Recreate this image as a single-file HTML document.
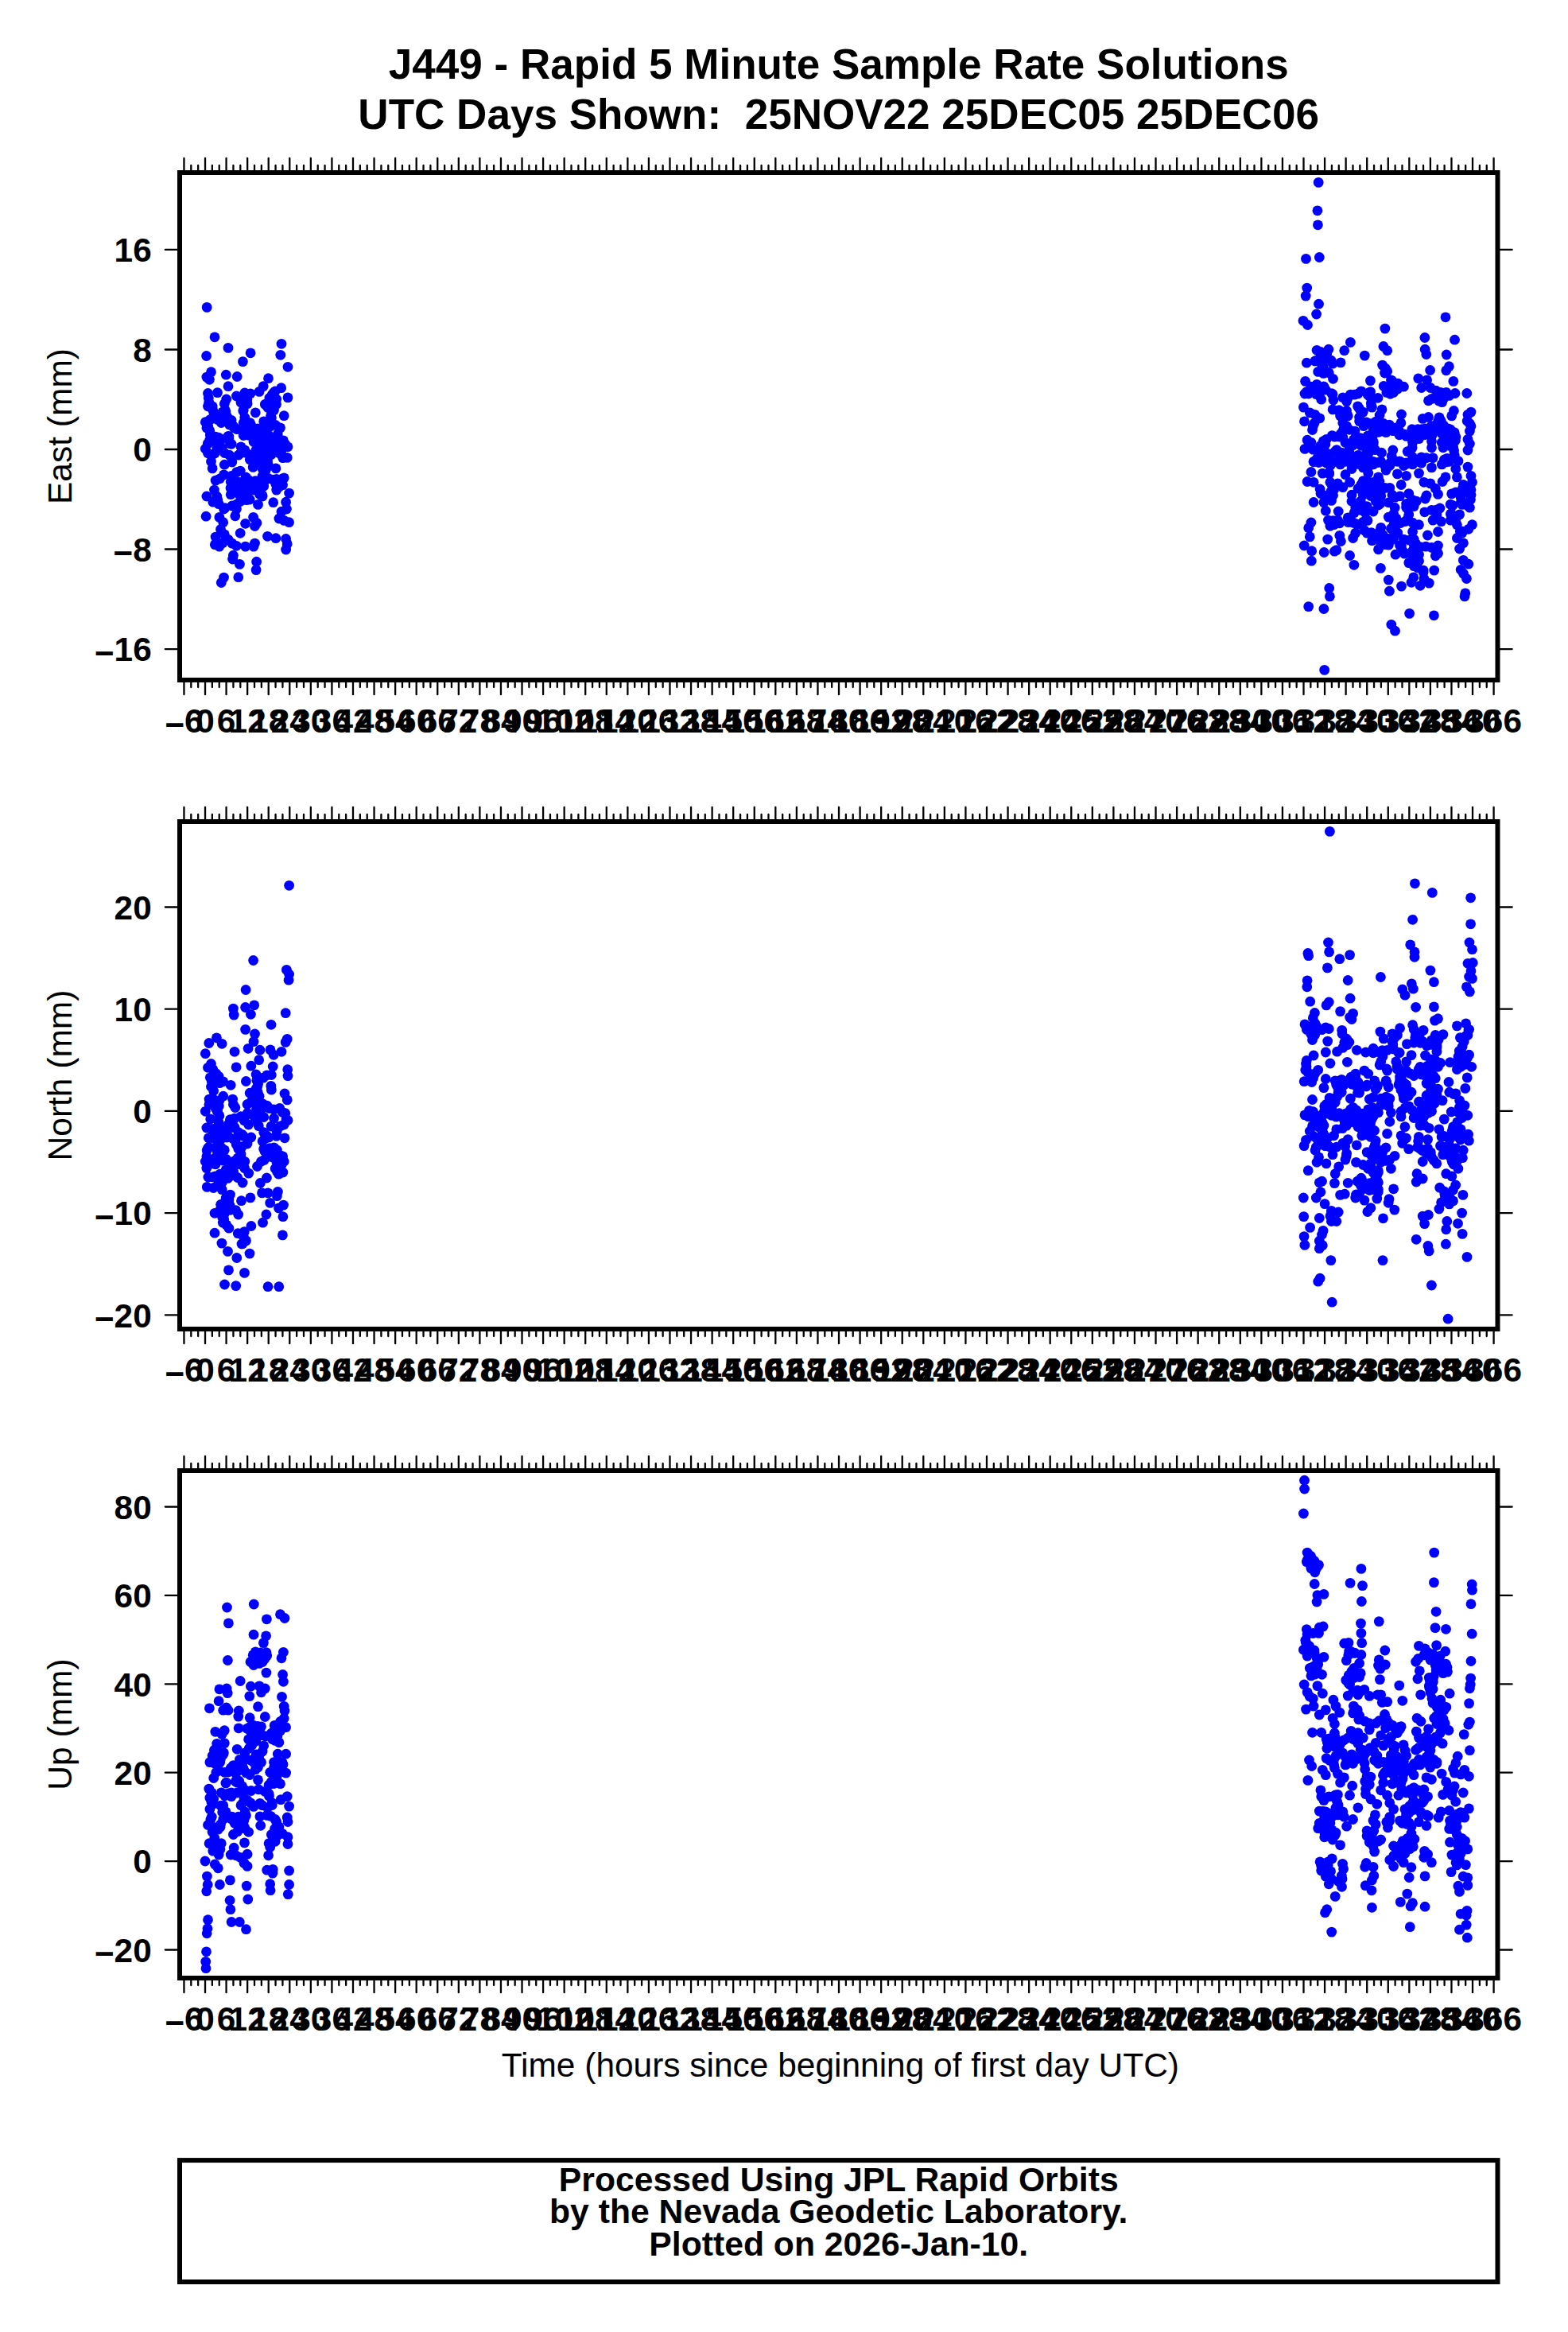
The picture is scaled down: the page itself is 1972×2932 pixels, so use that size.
<!DOCTYPE html>
<html><head><meta charset="utf-8"><title>J449 - Rapid 5 Minute Sample Rate Solutions</title>
<style>
html,body{margin:0;padding:0;background:#fff}
svg{display:block}
text{font-family:"Liberation Sans",Helvetica,Arial,sans-serif;fill:#000}
.b{font-weight:bold}
.tk{stroke:#000;stroke-width:2.3;stroke-linecap:round;fill:none}
.fr{stroke:#000;stroke-width:6;fill:none;stroke-linejoin:miter}
.d{fill:#0000ff}
</style></head><body>
<svg width="1972" height="2932" viewBox="0 0 1972 2932">
<rect x="0" y="0" width="1972" height="2932" fill="#ffffff"/>
<text class="b" x="1054.75" y="98.7" font-size="53.05" text-anchor="middle">J449 - Rapid 5 Minute Sample Rate Solutions</text>
<text class="b" x="1054.75" y="161.8" font-size="53.05" text-anchor="middle" xml:space="preserve" style="white-space:pre">UTC Days Shown:  25NOV22 25DEC05 25DEC06</text>
<g id="panel1">
<g class="d"><circle cx="260.2" cy="386.4" r="6.4"/><circle cx="270.0" cy="423.8" r="6.4"/><circle cx="354.0" cy="432.3" r="6.4"/><circle cx="287.0" cy="437.4" r="6.4"/><circle cx="315.1" cy="443.8" r="6.4"/><circle cx="259.6" cy="447.5" r="6.4"/><circle cx="352.8" cy="446.3" r="6.4"/><circle cx="305.4" cy="454.6" r="6.4"/><circle cx="362.0" cy="461.3" r="6.4"/><circle cx="265.5" cy="467.7" r="6.4"/><circle cx="284.3" cy="471.2" r="6.4"/><circle cx="298.2" cy="473.5" r="6.4"/><circle cx="259.9" cy="474.1" r="6.4"/><circle cx="263.4" cy="477.3" r="6.4"/><circle cx="337.5" cy="475.7" r="6.4"/><circle cx="287.0" cy="485.7" r="6.4"/><circle cx="331.2" cy="485.6" r="6.4"/><circle cx="353.7" cy="487.7" r="6.4"/><circle cx="261.5" cy="494.5" r="6.4"/><circle cx="273.5" cy="493.6" r="6.4"/><circle cx="326.1" cy="492.4" r="6.4"/><circle cx="346.1" cy="492.0" r="6.4"/><circle cx="307.8" cy="494.0" r="6.4"/><circle cx="315.0" cy="494.8" r="6.4"/><circle cx="297.4" cy="498.0" r="6.4"/><circle cx="362.0" cy="499.9" r="6.4"/><circle cx="262.3" cy="500.4" r="6.4"/><circle cx="284.7" cy="502.0" r="6.4"/><circle cx="338.9" cy="500.4" r="6.4"/><circle cx="347.7" cy="502.0" r="6.4"/><circle cx="282.3" cy="507.6" r="6.4"/><circle cx="303.0" cy="506.0" r="6.4"/><circle cx="311.0" cy="507.6" r="6.4"/><circle cx="333.3" cy="508.4" r="6.4"/><circle cx="341.3" cy="509.2" r="6.4"/><circle cx="261.5" cy="510.8" r="6.4"/><circle cx="267.1" cy="510.8" r="6.4"/><circle cx="344.5" cy="515.6" r="6.4"/><circle cx="306.2" cy="515.6" r="6.4"/><circle cx="283.9" cy="518.0" r="6.4"/><circle cx="321.3" cy="518.8" r="6.4"/><circle cx="270.3" cy="520.4" r="6.4"/><circle cx="357.2" cy="522.7" r="6.4"/><circle cx="267.9" cy="525.1" r="6.4"/><circle cx="340.5" cy="522.7" r="6.4"/><circle cx="307.8" cy="525.1" r="6.4"/><circle cx="258.3" cy="530.7" r="6.4"/><circle cx="273.5" cy="527.5" r="6.4"/><circle cx="291.0" cy="528.3" r="6.4"/><circle cx="283.9" cy="529.1" r="6.4"/><circle cx="331.7" cy="529.9" r="6.4"/><circle cx="341.3" cy="531.5" r="6.4"/><circle cx="306.2" cy="531.5" r="6.4"/><circle cx="315.8" cy="534.7" r="6.4"/><circle cx="259.9" cy="537.9" r="6.4"/><circle cx="294.2" cy="537.9" r="6.4"/><circle cx="352.5" cy="537.9" r="6.4"/><circle cx="334.9" cy="537.9" r="6.4"/><circle cx="319.0" cy="539.5" r="6.4"/><circle cx="304.6" cy="539.5" r="6.4"/><circle cx="263.9" cy="541.9" r="6.4"/><circle cx="287.0" cy="548.3" r="6.4"/><circle cx="271.1" cy="549.1" r="6.4"/><circle cx="306.2" cy="547.5" r="6.4"/><circle cx="315.8" cy="547.5" r="6.4"/><circle cx="328.5" cy="549.1" r="6.4"/><circle cx="338.1" cy="547.5" r="6.4"/><circle cx="349.3" cy="545.9" r="6.4"/><circle cx="263.9" cy="553.1" r="6.4"/><circle cx="279.1" cy="552.3" r="6.4"/><circle cx="356.4" cy="553.9" r="6.4"/><circle cx="346.1" cy="553.9" r="6.4"/><circle cx="331.7" cy="555.4" r="6.4"/><circle cx="319.0" cy="555.4" r="6.4"/><circle cx="289.4" cy="557.8" r="6.4"/><circle cx="272.7" cy="558.6" r="6.4"/><circle cx="303.0" cy="561.8" r="6.4"/><circle cx="362.0" cy="561.8" r="6.4"/><circle cx="258.3" cy="564.2" r="6.4"/><circle cx="279.1" cy="563.4" r="6.4"/><circle cx="323.7" cy="563.4" r="6.4"/><circle cx="334.9" cy="563.4" r="6.4"/><circle cx="347.7" cy="563.4" r="6.4"/><circle cx="261.5" cy="569.8" r="6.4"/><circle cx="270.3" cy="569.8" r="6.4"/><circle cx="307.8" cy="565.8" r="6.4"/><circle cx="288.6" cy="572.2" r="6.4"/><circle cx="299.8" cy="572.2" r="6.4"/><circle cx="319.0" cy="571.4" r="6.4"/><circle cx="331.7" cy="571.4" r="6.4"/><circle cx="341.3" cy="571.4" r="6.4"/><circle cx="354.0" cy="571.4" r="6.4"/><circle cx="361.2" cy="575.4" r="6.4"/><circle cx="314.2" cy="577.8" r="6.4"/><circle cx="265.5" cy="580.2" r="6.4"/><circle cx="291.8" cy="581.0" r="6.4"/><circle cx="282.3" cy="584.2" r="6.4"/><circle cx="322.1" cy="581.0" r="6.4"/><circle cx="336.5" cy="579.4" r="6.4"/><circle cx="267.1" cy="588.9" r="6.4"/><circle cx="318.2" cy="587.4" r="6.4"/><circle cx="346.9" cy="588.9" r="6.4"/><circle cx="334.9" cy="588.9" r="6.4"/><circle cx="302.2" cy="592.1" r="6.4"/><circle cx="281.5" cy="596.9" r="6.4"/><circle cx="291.0" cy="598.5" r="6.4"/><circle cx="357.2" cy="600.9" r="6.4"/><circle cx="330.1" cy="598.5" r="6.4"/><circle cx="309.4" cy="600.9" r="6.4"/><circle cx="347.7" cy="602.5" r="6.4"/><circle cx="338.1" cy="601.7" r="6.4"/><circle cx="271.1" cy="604.1" r="6.4"/><circle cx="290.2" cy="605.7" r="6.4"/><circle cx="303.0" cy="606.5" r="6.4"/><circle cx="324.5" cy="604.9" r="6.4"/><circle cx="355.6" cy="609.7" r="6.4"/><circle cx="315.8" cy="609.7" r="6.4"/><circle cx="331.7" cy="611.3" r="6.4"/><circle cx="291.8" cy="614.5" r="6.4"/><circle cx="269.5" cy="616.1" r="6.4"/><circle cx="314.2" cy="616.1" r="6.4"/><circle cx="303.0" cy="615.3" r="6.4"/><circle cx="347.7" cy="616.1" r="6.4"/><circle cx="325.3" cy="616.1" r="6.4"/><circle cx="363.6" cy="620.1" r="6.4"/><circle cx="259.9" cy="624.0" r="6.4"/><circle cx="290.2" cy="621.7" r="6.4"/><circle cx="301.4" cy="622.4" r="6.4"/><circle cx="272.7" cy="624.0" r="6.4"/><circle cx="314.2" cy="628.0" r="6.4"/><circle cx="330.1" cy="624.0" r="6.4"/><circle cx="267.9" cy="631.2" r="6.4"/><circle cx="359.6" cy="631.2" r="6.4"/><circle cx="302.2" cy="630.4" r="6.4"/><circle cx="343.7" cy="631.7" r="6.4"/><circle cx="324.5" cy="634.4" r="6.4"/><circle cx="275.1" cy="633.6" r="6.4"/><circle cx="291.8" cy="636.0" r="6.4"/><circle cx="360.4" cy="640.0" r="6.4"/><circle cx="281.5" cy="640.0" r="6.4"/><circle cx="354.0" cy="643.2" r="6.4"/><circle cx="297.4" cy="640.0" r="6.4"/><circle cx="259.1" cy="649.2" r="6.4"/><circle cx="275.9" cy="650.4" r="6.4"/><circle cx="295.8" cy="648.8" r="6.4"/><circle cx="318.6" cy="650.4" r="6.4"/><circle cx="350.9" cy="652.0" r="6.4"/><circle cx="280.7" cy="656.7" r="6.4"/><circle cx="363.6" cy="656.7" r="6.4"/><circle cx="308.6" cy="658.3" r="6.4"/><circle cx="322.9" cy="657.5" r="6.4"/><circle cx="357.2" cy="654.4" r="6.4"/><circle cx="320.5" cy="661.5" r="6.4"/><circle cx="277.5" cy="665.5" r="6.4"/><circle cx="302.2" cy="670.3" r="6.4"/><circle cx="282.3" cy="671.9" r="6.4"/><circle cx="336.5" cy="674.3" r="6.4"/><circle cx="271.1" cy="675.1" r="6.4"/><circle cx="346.9" cy="676.7" r="6.4"/><circle cx="359.6" cy="677.5" r="6.4"/><circle cx="287.0" cy="678.3" r="6.4"/><circle cx="270.3" cy="684.7" r="6.4"/><circle cx="275.9" cy="687.1" r="6.4"/><circle cx="291.8" cy="683.1" r="6.4"/><circle cx="320.5" cy="683.1" r="6.4"/><circle cx="361.2" cy="683.9" r="6.4"/><circle cx="297.4" cy="686.3" r="6.4"/><circle cx="308.6" cy="687.1" r="6.4"/><circle cx="319.0" cy="687.1" r="6.4"/><circle cx="359.6" cy="691.0" r="6.4"/><circle cx="293.4" cy="698.2" r="6.4"/><circle cx="292.6" cy="703.0" r="6.4"/><circle cx="301.4" cy="709.4" r="6.4"/><circle cx="322.6" cy="706.2" r="6.4"/><circle cx="322.1" cy="716.6" r="6.4"/><circle cx="281.5" cy="726.1" r="6.4"/><circle cx="299.8" cy="725.7" r="6.4"/><circle cx="278.3" cy="732.5" r="6.4"/><circle cx="309.6" cy="569.3" r="6.4"/><circle cx="326.5" cy="621.5" r="6.4"/><circle cx="351.4" cy="569.6" r="6.4"/><circle cx="354.7" cy="602.2" r="6.4"/><circle cx="291.1" cy="558.3" r="6.4"/><circle cx="303.7" cy="625.2" r="6.4"/><circle cx="321.5" cy="566.7" r="6.4"/><circle cx="344.3" cy="493.5" r="6.4"/><circle cx="290.0" cy="613.5" r="6.4"/><circle cx="311.9" cy="538.7" r="6.4"/><circle cx="282.4" cy="569.5" r="6.4"/><circle cx="331.4" cy="558.1" r="6.4"/><circle cx="321.1" cy="604.7" r="6.4"/><circle cx="333.3" cy="561.1" r="6.4"/><circle cx="314.6" cy="531.7" r="6.4"/><circle cx="278.5" cy="521.6" r="6.4"/><circle cx="277.0" cy="554.0" r="6.4"/><circle cx="332.7" cy="605.0" r="6.4"/><circle cx="298.1" cy="539.6" r="6.4"/><circle cx="310.8" cy="503.0" r="6.4"/><circle cx="355.2" cy="563.6" r="6.4"/><circle cx="293.2" cy="535.3" r="6.4"/><circle cx="307.7" cy="539.2" r="6.4"/><circle cx="288.0" cy="551.9" r="6.4"/><circle cx="293.4" cy="616.3" r="6.4"/><circle cx="280.0" cy="682.7" r="6.4"/><circle cx="272.7" cy="562.0" r="6.4"/><circle cx="283.3" cy="515.8" r="6.4"/><circle cx="332.6" cy="542.9" r="6.4"/><circle cx="285.3" cy="523.4" r="6.4"/><circle cx="262.8" cy="506.0" r="6.4"/><circle cx="297.4" cy="617.7" r="6.4"/><circle cx="333.1" cy="575.9" r="6.4"/><circle cx="347.5" cy="508.4" r="6.4"/><circle cx="324.6" cy="575.3" r="6.4"/><circle cx="341.4" cy="525.6" r="6.4"/><circle cx="330.2" cy="589.7" r="6.4"/><circle cx="309.9" cy="611.4" r="6.4"/><circle cx="334.1" cy="534.6" r="6.4"/><circle cx="274.9" cy="550.1" r="6.4"/><circle cx="346.9" cy="608.9" r="6.4"/><circle cx="277.2" cy="562.5" r="6.4"/><circle cx="353.6" cy="554.4" r="6.4"/><circle cx="309.2" cy="600.0" r="6.4"/><circle cx="312.2" cy="617.6" r="6.4"/><circle cx="351.2" cy="612.0" r="6.4"/><circle cx="316.0" cy="540.2" r="6.4"/><circle cx="352.2" cy="557.2" r="6.4"/><circle cx="347.0" cy="556.5" r="6.4"/><circle cx="299.0" cy="606.1" r="6.4"/><circle cx="310.1" cy="628.7" r="6.4"/><circle cx="297.6" cy="593.6" r="6.4"/><circle cx="334.1" cy="591.7" r="6.4"/><circle cx="344.2" cy="564.8" r="6.4"/><circle cx="278.2" cy="531.5" r="6.4"/><circle cx="318.9" cy="616.0" r="6.4"/><circle cx="268.8" cy="518.3" r="6.4"/><circle cx="287.9" cy="549.0" r="6.4"/><circle cx="305.7" cy="541.3" r="6.4"/><circle cx="348.5" cy="552.7" r="6.4"/><circle cx="312.7" cy="603.6" r="6.4"/><circle cx="344.2" cy="498.8" r="6.4"/><circle cx="340.7" cy="512.8" r="6.4"/><circle cx="358.9" cy="558.7" r="6.4"/><circle cx="355.7" cy="575.7" r="6.4"/><circle cx="324.0" cy="538.8" r="6.4"/><circle cx="336.9" cy="512.5" r="6.4"/><circle cx="297.7" cy="634.0" r="6.4"/><circle cx="261.8" cy="536.4" r="6.4"/><circle cx="321.8" cy="547.1" r="6.4"/><circle cx="320.1" cy="554.6" r="6.4"/><circle cx="264.3" cy="546.8" r="6.4"/><circle cx="303.0" cy="569.5" r="6.4"/><circle cx="276.5" cy="601.8" r="6.4"/><circle cx="339.4" cy="536.4" r="6.4"/><circle cx="337.6" cy="571.4" r="6.4"/><circle cx="267.2" cy="514.4" r="6.4"/><circle cx="328.7" cy="566.9" r="6.4"/><circle cx="337.4" cy="584.9" r="6.4"/><circle cx="310.0" cy="605.2" r="6.4"/><circle cx="264.2" cy="527.6" r="6.4"/><circle cx="344.5" cy="506.7" r="6.4"/><circle cx="331.1" cy="580.4" r="6.4"/><circle cx="342.4" cy="496.0" r="6.4"/><circle cx="268.1" cy="570.9" r="6.4"/><circle cx="339.5" cy="556.4" r="6.4"/><circle cx="319.0" cy="573.7" r="6.4"/><circle cx="304.7" cy="502.0" r="6.4"/><circle cx="305.8" cy="516.6" r="6.4"/><circle cx="332.4" cy="546.9" r="6.4"/><circle cx="320.1" cy="611.9" r="6.4"/><circle cx="329.7" cy="622.3" r="6.4"/><circle cx="346.6" cy="534.5" r="6.4"/><circle cx="336.6" cy="506.9" r="6.4"/><circle cx="261.3" cy="557.6" r="6.4"/><circle cx="288.5" cy="534.0" r="6.4"/><circle cx="328.4" cy="607.1" r="6.4"/><circle cx="273.8" cy="628.5" r="6.4"/><circle cx="334.1" cy="569.6" r="6.4"/><circle cx="269.0" cy="551.0" r="6.4"/><circle cx="343.5" cy="603.2" r="6.4"/><circle cx="321.7" cy="551.5" r="6.4"/><circle cx="335.0" cy="566.0" r="6.4"/><circle cx="324.9" cy="555.6" r="6.4"/><circle cx="308.9" cy="617.1" r="6.4"/><circle cx="333.3" cy="554.5" r="6.4"/><circle cx="280.2" cy="517.8" r="6.4"/><circle cx="282.9" cy="638.7" r="6.4"/><circle cx="265.4" cy="550.0" r="6.4"/><circle cx="312.9" cy="547.3" r="6.4"/><circle cx="1658.2" cy="229.4" r="6.4"/><circle cx="1656.9" cy="264.8" r="6.4"/><circle cx="1657.4" cy="282.8" r="6.4"/><circle cx="1642.5" cy="325.4" r="6.4"/><circle cx="1659.3" cy="323.5" r="6.4"/><circle cx="1643.7" cy="362.1" r="6.4"/><circle cx="1642.2" cy="372.1" r="6.4"/><circle cx="1658.5" cy="382.2" r="6.4"/><circle cx="1655.6" cy="395.0" r="6.4"/><circle cx="1639.0" cy="403.3" r="6.4"/><circle cx="1644.5" cy="408.5" r="6.4"/><circle cx="1818.0" cy="398.8" r="6.4"/><circle cx="1741.9" cy="413.1" r="6.4"/><circle cx="1791.9" cy="424.5" r="6.4"/><circle cx="1829.5" cy="427.2" r="6.4"/><circle cx="1698.4" cy="430.4" r="6.4"/><circle cx="1739.9" cy="435.5" r="6.4"/><circle cx="1744.7" cy="440.7" r="6.4"/><circle cx="1792.2" cy="439.2" r="6.4"/><circle cx="1793.8" cy="445.5" r="6.4"/><circle cx="1690.7" cy="440.7" r="6.4"/><circle cx="1716.3" cy="447.1" r="6.4"/><circle cx="1819.2" cy="446.0" r="6.4"/><circle cx="1656.1" cy="440.3" r="6.4"/><circle cx="1660.9" cy="442.3" r="6.4"/><circle cx="1670.9" cy="439.2" r="6.4"/><circle cx="1666.8" cy="450.8" r="6.4"/><circle cx="1653.7" cy="454.0" r="6.4"/><circle cx="1643.3" cy="456.2" r="6.4"/><circle cx="1676.1" cy="457.2" r="6.4"/><circle cx="1686.1" cy="455.9" r="6.4"/><circle cx="1662.5" cy="459.1" r="6.4"/><circle cx="1738.6" cy="459.1" r="6.4"/><circle cx="1742.3" cy="463.1" r="6.4"/><circle cx="1744.7" cy="466.8" r="6.4"/><circle cx="1741.5" cy="469.0" r="6.4"/><circle cx="1822.4" cy="460.7" r="6.4"/><circle cx="1818.8" cy="465.8" r="6.4"/><circle cx="1798.6" cy="465.5" r="6.4"/><circle cx="1657.7" cy="467.4" r="6.4"/><circle cx="1668.9" cy="467.4" r="6.4"/><circle cx="1671.3" cy="468.7" r="6.4"/><circle cx="1676.5" cy="476.3" r="6.4"/><circle cx="1723.4" cy="478.6" r="6.4"/><circle cx="1783.7" cy="475.8" r="6.4"/><circle cx="1794.6" cy="477.9" r="6.4"/><circle cx="1827.9" cy="479.4" r="6.4"/><circle cx="1641.6" cy="479.4" r="6.4"/><circle cx="1656.1" cy="483.3" r="6.4"/><circle cx="1648.9" cy="486.2" r="6.4"/><circle cx="1751.0" cy="479.0" r="6.4"/><circle cx="1758.2" cy="482.2" r="6.4"/><circle cx="1740.2" cy="485.4" r="6.4"/><circle cx="1765.4" cy="486.2" r="6.4"/><circle cx="1746.3" cy="491.0" r="6.4"/><circle cx="1752.6" cy="493.4" r="6.4"/><circle cx="1743.9" cy="493.4" r="6.4"/><circle cx="1787.7" cy="487.5" r="6.4"/><circle cx="1798.9" cy="487.5" r="6.4"/><circle cx="1667.3" cy="490.2" r="6.4"/><circle cx="1711.9" cy="491.8" r="6.4"/><circle cx="1720.7" cy="494.2" r="6.4"/><circle cx="1698.4" cy="496.1" r="6.4"/><circle cx="1708.0" cy="495.0" r="6.4"/><circle cx="1643.3" cy="492.6" r="6.4"/><circle cx="1641.0" cy="495.0" r="6.4"/><circle cx="1645.7" cy="495.0" r="6.4"/><circle cx="1676.1" cy="495.8" r="6.4"/><circle cx="1659.3" cy="497.4" r="6.4"/><circle cx="1688.8" cy="499.8" r="6.4"/><circle cx="1722.3" cy="498.2" r="6.4"/><circle cx="1733.0" cy="500.3" r="6.4"/><circle cx="1811.7" cy="493.4" r="6.4"/><circle cx="1818.8" cy="493.4" r="6.4"/><circle cx="1830.0" cy="494.5" r="6.4"/><circle cx="1844.8" cy="494.5" r="6.4"/><circle cx="1822.8" cy="497.4" r="6.4"/><circle cx="1800.5" cy="501.4" r="6.4"/><circle cx="1796.5" cy="503.8" r="6.4"/><circle cx="1813.6" cy="505.7" r="6.4"/><circle cx="1661.7" cy="502.2" r="6.4"/><circle cx="1676.9" cy="503.0" r="6.4"/><circle cx="1693.6" cy="504.6" r="6.4"/><circle cx="1639.4" cy="512.1" r="6.4"/><circle cx="1707.6" cy="510.9" r="6.4"/><circle cx="1725.5" cy="512.1" r="6.4"/><circle cx="1738.0" cy="514.9" r="6.4"/><circle cx="1676.1" cy="514.9" r="6.4"/><circle cx="1684.0" cy="515.7" r="6.4"/><circle cx="1693.6" cy="516.5" r="6.4"/><circle cx="1647.3" cy="518.9" r="6.4"/><circle cx="1653.7" cy="521.3" r="6.4"/><circle cx="1659.8" cy="525.8" r="6.4"/><circle cx="1828.4" cy="516.5" r="6.4"/><circle cx="1825.7" cy="522.9" r="6.4"/><circle cx="1850.0" cy="518.1" r="6.4"/><circle cx="1846.0" cy="521.3" r="6.4"/><circle cx="1762.5" cy="521.0" r="6.4"/><circle cx="1796.5" cy="524.5" r="6.4"/><circle cx="1789.3" cy="526.4" r="6.4"/><circle cx="1810.1" cy="524.8" r="6.4"/><circle cx="1714.3" cy="518.1" r="6.4"/><circle cx="1709.6" cy="524.5" r="6.4"/><circle cx="1735.1" cy="522.1" r="6.4"/><circle cx="1695.2" cy="522.9" r="6.4"/><circle cx="1685.6" cy="522.9" r="6.4"/><circle cx="1640.5" cy="529.8" r="6.4"/><circle cx="1651.3" cy="536.0" r="6.4"/><circle cx="1650.5" cy="540.5" r="6.4"/><circle cx="1761.9" cy="531.7" r="6.4"/><circle cx="1845.2" cy="529.3" r="6.4"/><circle cx="1848.4" cy="532.5" r="6.4"/><circle cx="1850.0" cy="535.7" r="6.4"/><circle cx="1848.4" cy="542.1" r="6.4"/><circle cx="1688.8" cy="531.7" r="6.4"/><circle cx="1693.6" cy="535.7" r="6.4"/><circle cx="1720.7" cy="532.5" r="6.4"/><circle cx="1730.3" cy="530.1" r="6.4"/><circle cx="1739.9" cy="532.5" r="6.4"/><circle cx="1715.1" cy="535.7" r="6.4"/><circle cx="1813.3" cy="532.5" r="6.4"/><circle cx="1803.7" cy="535.7" r="6.4"/><circle cx="1821.2" cy="538.9" r="6.4"/><circle cx="1792.5" cy="538.9" r="6.4"/><circle cx="1775.8" cy="539.7" r="6.4"/><circle cx="1784.5" cy="540.5" r="6.4"/><circle cx="1750.2" cy="538.9" r="6.4"/><circle cx="1759.0" cy="540.5" r="6.4"/><circle cx="1704.0" cy="542.1" r="6.4"/><circle cx="1688.8" cy="542.1" r="6.4"/><circle cx="1727.1" cy="540.5" r="6.4"/><circle cx="1736.7" cy="542.1" r="6.4"/><circle cx="1743.1" cy="543.7" r="6.4"/><circle cx="1675.3" cy="547.6" r="6.4"/><circle cx="1668.1" cy="552.4" r="6.4"/><circle cx="1678.4" cy="549.2" r="6.4"/><circle cx="1644.1" cy="553.2" r="6.4"/><circle cx="1648.9" cy="556.4" r="6.4"/><circle cx="1641.0" cy="564.4" r="6.4"/><circle cx="1651.3" cy="565.2" r="6.4"/><circle cx="1660.9" cy="560.4" r="6.4"/><circle cx="1846.0" cy="552.4" r="6.4"/><circle cx="1848.4" cy="558.0" r="6.4"/><circle cx="1846.0" cy="566.0" r="6.4"/><circle cx="1829.2" cy="543.7" r="6.4"/><circle cx="1830.8" cy="549.2" r="6.4"/><circle cx="1813.3" cy="545.2" r="6.4"/><circle cx="1822.8" cy="550.0" r="6.4"/><circle cx="1800.5" cy="545.2" r="6.4"/><circle cx="1790.9" cy="546.8" r="6.4"/><circle cx="1778.2" cy="546.8" r="6.4"/><circle cx="1768.6" cy="548.4" r="6.4"/><circle cx="1759.8" cy="546.8" r="6.4"/><circle cx="1784.5" cy="551.6" r="6.4"/><circle cx="1776.6" cy="556.4" r="6.4"/><circle cx="1800.5" cy="554.8" r="6.4"/><circle cx="1813.3" cy="556.4" r="6.4"/><circle cx="1824.4" cy="558.0" r="6.4"/><circle cx="1827.6" cy="562.0" r="6.4"/><circle cx="1814.9" cy="562.8" r="6.4"/><circle cx="1800.5" cy="562.8" r="6.4"/><circle cx="1727.1" cy="546.8" r="6.4"/><circle cx="1704.8" cy="550.0" r="6.4"/><circle cx="1714.3" cy="551.6" r="6.4"/><circle cx="1723.9" cy="554.8" r="6.4"/><circle cx="1688.8" cy="550.0" r="6.4"/><circle cx="1692.0" cy="556.4" r="6.4"/><circle cx="1701.6" cy="559.6" r="6.4"/><circle cx="1711.9" cy="560.4" r="6.4"/><circle cx="1727.1" cy="559.6" r="6.4"/><circle cx="1751.8" cy="566.0" r="6.4"/><circle cx="1737.5" cy="569.2" r="6.4"/><circle cx="1770.2" cy="567.6" r="6.4"/><circle cx="1750.2" cy="573.2" r="6.4"/><circle cx="1664.9" cy="564.4" r="6.4"/><circle cx="1679.2" cy="567.6" r="6.4"/><circle cx="1672.9" cy="570.8" r="6.4"/><circle cx="1687.2" cy="569.2" r="6.4"/><circle cx="1696.8" cy="569.2" r="6.4"/><circle cx="1661.7" cy="572.4" r="6.4"/><circle cx="1708.0" cy="572.4" r="6.4"/><circle cx="1720.7" cy="570.8" r="6.4"/><circle cx="1787.7" cy="574.8" r="6.4"/><circle cx="1802.1" cy="575.6" r="6.4"/><circle cx="1779.8" cy="578.0" r="6.4"/><circle cx="1816.4" cy="578.0" r="6.4"/><circle cx="1829.2" cy="572.4" r="6.4"/><circle cx="1834.0" cy="579.6" r="6.4"/><circle cx="1822.8" cy="580.3" r="6.4"/><circle cx="1652.1" cy="580.3" r="6.4"/><circle cx="1666.5" cy="580.3" r="6.4"/><circle cx="1679.2" cy="580.3" r="6.4"/><circle cx="1692.0" cy="580.3" r="6.4"/><circle cx="1703.2" cy="578.8" r="6.4"/><circle cx="1715.9" cy="580.3" r="6.4"/><circle cx="1727.1" cy="580.3" r="6.4"/><circle cx="1736.7" cy="580.3" r="6.4"/><circle cx="1757.4" cy="580.3" r="6.4"/><circle cx="1768.6" cy="581.9" r="6.4"/><circle cx="1652.1" cy="580.7" r="6.4"/><circle cx="1846.0" cy="587.1" r="6.4"/><circle cx="1747.8" cy="585.5" r="6.4"/><circle cx="1714.3" cy="587.9" r="6.4"/><circle cx="1700.0" cy="589.5" r="6.4"/><circle cx="1800.5" cy="587.9" r="6.4"/><circle cx="1830.8" cy="589.5" r="6.4"/><circle cx="1672.9" cy="585.5" r="6.4"/><circle cx="1685.6" cy="583.9" r="6.4"/><circle cx="1727.1" cy="583.9" r="6.4"/><circle cx="1776.6" cy="583.9" r="6.4"/><circle cx="1787.7" cy="582.3" r="6.4"/><circle cx="1813.3" cy="583.9" r="6.4"/><circle cx="1765.4" cy="585.5" r="6.4"/><circle cx="1648.9" cy="593.5" r="6.4"/><circle cx="1663.3" cy="595.1" r="6.4"/><circle cx="1743.1" cy="591.1" r="6.4"/><circle cx="1757.4" cy="595.9" r="6.4"/><circle cx="1720.7" cy="595.1" r="6.4"/><circle cx="1733.5" cy="599.9" r="6.4"/><circle cx="1692.0" cy="596.7" r="6.4"/><circle cx="1784.5" cy="595.1" r="6.4"/><circle cx="1768.6" cy="598.3" r="6.4"/><circle cx="1818.0" cy="599.9" r="6.4"/><circle cx="1832.4" cy="599.9" r="6.4"/><circle cx="1850.0" cy="598.3" r="6.4"/><circle cx="1671.3" cy="594.3" r="6.4"/><circle cx="1644.1" cy="605.5" r="6.4"/><circle cx="1652.1" cy="606.3" r="6.4"/><circle cx="1814.1" cy="605.5" r="6.4"/><circle cx="1672.9" cy="606.3" r="6.4"/><circle cx="1682.4" cy="607.9" r="6.4"/><circle cx="1697.6" cy="606.3" r="6.4"/><circle cx="1714.3" cy="604.7" r="6.4"/><circle cx="1727.1" cy="606.3" r="6.4"/><circle cx="1790.9" cy="606.3" r="6.4"/><circle cx="1798.9" cy="607.9" r="6.4"/><circle cx="1762.2" cy="609.5" r="6.4"/><circle cx="1851.5" cy="606.3" r="6.4"/><circle cx="1840.4" cy="609.5" r="6.4"/><circle cx="1688.8" cy="612.6" r="6.4"/><circle cx="1677.6" cy="615.8" r="6.4"/><circle cx="1660.1" cy="615.0" r="6.4"/><circle cx="1747.8" cy="613.4" r="6.4"/><circle cx="1708.0" cy="614.2" r="6.4"/><circle cx="1723.9" cy="614.2" r="6.4"/><circle cx="1735.1" cy="614.2" r="6.4"/><circle cx="1805.3" cy="614.2" r="6.4"/><circle cx="1838.8" cy="615.8" r="6.4"/><circle cx="1850.0" cy="615.8" r="6.4"/><circle cx="1771.8" cy="620.6" r="6.4"/><circle cx="1665.7" cy="623.0" r="6.4"/><circle cx="1825.7" cy="620.9" r="6.4"/><circle cx="1794.1" cy="623.0" r="6.4"/><circle cx="1808.5" cy="621.4" r="6.4"/><circle cx="1700.0" cy="622.2" r="6.4"/><circle cx="1714.3" cy="622.2" r="6.4"/><circle cx="1728.7" cy="620.6" r="6.4"/><circle cx="1736.7" cy="623.8" r="6.4"/><circle cx="1751.0" cy="622.2" r="6.4"/><circle cx="1760.6" cy="623.8" r="6.4"/><circle cx="1850.0" cy="622.2" r="6.4"/><circle cx="1837.2" cy="625.4" r="6.4"/><circle cx="1792.5" cy="627.0" r="6.4"/><circle cx="1652.1" cy="631.5" r="6.4"/><circle cx="1674.5" cy="629.4" r="6.4"/><circle cx="1664.9" cy="631.8" r="6.4"/><circle cx="1781.3" cy="630.2" r="6.4"/><circle cx="1700.0" cy="630.2" r="6.4"/><circle cx="1711.2" cy="630.2" r="6.4"/><circle cx="1730.3" cy="630.2" r="6.4"/><circle cx="1746.3" cy="631.8" r="6.4"/><circle cx="1824.1" cy="634.2" r="6.4"/><circle cx="1837.2" cy="631.8" r="6.4"/><circle cx="1845.2" cy="635.0" r="6.4"/><circle cx="1768.6" cy="633.4" r="6.4"/><circle cx="1778.2" cy="636.6" r="6.4"/><circle cx="1719.1" cy="636.6" r="6.4"/><circle cx="1704.8" cy="638.2" r="6.4"/><circle cx="1733.5" cy="635.0" r="6.4"/><circle cx="1754.2" cy="638.2" r="6.4"/><circle cx="1667.3" cy="642.2" r="6.4"/><circle cx="1683.2" cy="643.0" r="6.4"/><circle cx="1810.9" cy="639.0" r="6.4"/><circle cx="1800.5" cy="641.4" r="6.4"/><circle cx="1791.7" cy="643.8" r="6.4"/><circle cx="1848.4" cy="638.2" r="6.4"/><circle cx="1824.4" cy="646.2" r="6.4"/><circle cx="1835.6" cy="646.9" r="6.4"/><circle cx="1727.1" cy="643.0" r="6.4"/><circle cx="1715.9" cy="643.0" r="6.4"/><circle cx="1703.2" cy="644.6" r="6.4"/><circle cx="1771.8" cy="646.9" r="6.4"/><circle cx="1752.6" cy="646.2" r="6.4"/><circle cx="1806.9" cy="646.9" r="6.4"/><circle cx="1746.3" cy="650.1" r="6.4"/><circle cx="1695.2" cy="650.9" r="6.4"/><circle cx="1830.8" cy="652.5" r="6.4"/><circle cx="1648.9" cy="657.0" r="6.4"/><circle cx="1670.5" cy="654.1" r="6.4"/><circle cx="1682.4" cy="654.1" r="6.4"/><circle cx="1719.9" cy="654.4" r="6.4"/><circle cx="1802.1" cy="654.1" r="6.4"/><circle cx="1812.5" cy="655.7" r="6.4"/><circle cx="1824.4" cy="654.1" r="6.4"/><circle cx="1677.6" cy="659.7" r="6.4"/><circle cx="1672.9" cy="661.3" r="6.4"/><circle cx="1695.2" cy="656.5" r="6.4"/><circle cx="1706.4" cy="658.9" r="6.4"/><circle cx="1712.7" cy="659.7" r="6.4"/><circle cx="1784.5" cy="659.7" r="6.4"/><circle cx="1755.8" cy="657.3" r="6.4"/><circle cx="1767.0" cy="655.7" r="6.4"/><circle cx="1776.6" cy="657.3" r="6.4"/><circle cx="1851.5" cy="659.7" r="6.4"/><circle cx="1832.4" cy="659.7" r="6.4"/><circle cx="1645.7" cy="663.7" r="6.4"/><circle cx="1736.7" cy="663.4" r="6.4"/><circle cx="1749.4" cy="664.5" r="6.4"/><circle cx="1808.5" cy="668.5" r="6.4"/><circle cx="1846.8" cy="665.3" r="6.4"/><circle cx="1776.6" cy="668.5" r="6.4"/><circle cx="1755.8" cy="668.5" r="6.4"/><circle cx="1704.8" cy="670.1" r="6.4"/><circle cx="1719.1" cy="670.1" r="6.4"/><circle cx="1684.8" cy="673.3" r="6.4"/><circle cx="1729.5" cy="673.3" r="6.4"/><circle cx="1647.3" cy="674.9" r="6.4"/><circle cx="1795.4" cy="673.0" r="6.4"/><circle cx="1838.8" cy="670.1" r="6.4"/><circle cx="1832.4" cy="676.5" r="6.4"/><circle cx="1701.6" cy="676.5" r="6.4"/><circle cx="1739.1" cy="676.5" r="6.4"/><circle cx="1752.6" cy="674.9" r="6.4"/><circle cx="1669.7" cy="678.1" r="6.4"/><circle cx="1765.4" cy="678.1" r="6.4"/><circle cx="1725.5" cy="679.7" r="6.4"/><circle cx="1686.4" cy="680.5" r="6.4"/><circle cx="1778.2" cy="678.1" r="6.4"/><circle cx="1840.4" cy="682.8" r="6.4"/><circle cx="1640.2" cy="686.0" r="6.4"/><circle cx="1746.3" cy="685.2" r="6.4"/><circle cx="1760.6" cy="686.0" r="6.4"/><circle cx="1786.1" cy="687.6" r="6.4"/><circle cx="1808.5" cy="686.0" r="6.4"/><circle cx="1800.5" cy="688.4" r="6.4"/><circle cx="1736.7" cy="683.6" r="6.4"/><circle cx="1778.2" cy="684.4" r="6.4"/><circle cx="1649.7" cy="692.7" r="6.4"/><circle cx="1680.8" cy="691.6" r="6.4"/><circle cx="1678.4" cy="693.2" r="6.4"/><circle cx="1665.2" cy="694.5" r="6.4"/><circle cx="1733.5" cy="690.8" r="6.4"/><circle cx="1835.6" cy="690.0" r="6.4"/><circle cx="1755.0" cy="697.2" r="6.4"/><circle cx="1763.8" cy="692.4" r="6.4"/><circle cx="1808.5" cy="695.6" r="6.4"/><circle cx="1805.3" cy="698.8" r="6.4"/><circle cx="1697.6" cy="698.5" r="6.4"/><circle cx="1773.4" cy="695.6" r="6.4"/><circle cx="1784.5" cy="697.2" r="6.4"/><circle cx="1649.3" cy="705.2" r="6.4"/><circle cx="1702.9" cy="710.3" r="6.4"/><circle cx="1840.4" cy="704.4" r="6.4"/><circle cx="1846.8" cy="709.2" r="6.4"/><circle cx="1778.2" cy="703.6" r="6.4"/><circle cx="1784.5" cy="705.2" r="6.4"/><circle cx="1771.8" cy="707.6" r="6.4"/><circle cx="1778.2" cy="711.6" r="6.4"/><circle cx="1736.4" cy="714.4" r="6.4"/><circle cx="1790.1" cy="717.1" r="6.4"/><circle cx="1803.7" cy="717.1" r="6.4"/><circle cx="1837.2" cy="716.3" r="6.4"/><circle cx="1840.4" cy="721.1" r="6.4"/><circle cx="1777.8" cy="725.9" r="6.4"/><circle cx="1746.3" cy="729.1" r="6.4"/><circle cx="1790.9" cy="727.5" r="6.4"/><circle cx="1844.4" cy="727.5" r="6.4"/><circle cx="1775.0" cy="732.3" r="6.4"/><circle cx="1797.3" cy="733.1" r="6.4"/><circle cx="1786.1" cy="736.3" r="6.4"/><circle cx="1762.5" cy="737.1" r="6.4"/><circle cx="1671.7" cy="739.5" r="6.4"/><circle cx="1747.4" cy="743.2" r="6.4"/><circle cx="1842.8" cy="745.9" r="6.4"/><circle cx="1842.0" cy="749.9" r="6.4"/><circle cx="1672.4" cy="749.9" r="6.4"/><circle cx="1645.7" cy="762.6" r="6.4"/><circle cx="1664.9" cy="765.5" r="6.4"/><circle cx="1772.6" cy="771.4" r="6.4"/><circle cx="1803.4" cy="773.8" r="6.4"/><circle cx="1749.8" cy="785.3" r="6.4"/><circle cx="1754.5" cy="793.2" r="6.4"/><circle cx="1665.7" cy="842.4" r="6.4"/><circle cx="1724.7" cy="669.6" r="6.4"/><circle cx="1665.0" cy="486.0" r="6.4"/><circle cx="1661.0" cy="620.5" r="6.4"/><circle cx="1812.1" cy="529.1" r="6.4"/><circle cx="1735.3" cy="668.1" r="6.4"/><circle cx="1751.8" cy="541.7" r="6.4"/><circle cx="1753.2" cy="659.1" r="6.4"/><circle cx="1731.3" cy="629.3" r="6.4"/><circle cx="1809.5" cy="504.0" r="6.4"/><circle cx="1755.6" cy="537.9" r="6.4"/><circle cx="1684.8" cy="518.3" r="6.4"/><circle cx="1807.0" cy="643.9" r="6.4"/><circle cx="1699.0" cy="656.4" r="6.4"/><circle cx="1793.2" cy="687.1" r="6.4"/><circle cx="1671.8" cy="595.6" r="6.4"/><circle cx="1811.4" cy="542.7" r="6.4"/><circle cx="1736.1" cy="620.7" r="6.4"/><circle cx="1697.0" cy="564.4" r="6.4"/><circle cx="1741.8" cy="585.5" r="6.4"/><circle cx="1686.0" cy="545.7" r="6.4"/><circle cx="1714.5" cy="656.1" r="6.4"/><circle cx="1754.7" cy="579.8" r="6.4"/><circle cx="1657.8" cy="568.7" r="6.4"/><circle cx="1839.5" cy="668.2" r="6.4"/><circle cx="1662.8" cy="466.4" r="6.4"/><circle cx="1664.9" cy="452.0" r="6.4"/><circle cx="1684.2" cy="549.0" r="6.4"/><circle cx="1668.1" cy="582.0" r="6.4"/><circle cx="1721.3" cy="615.7" r="6.4"/><circle cx="1757.8" cy="670.0" r="6.4"/><circle cx="1777.3" cy="691.5" r="6.4"/><circle cx="1727.4" cy="555.9" r="6.4"/><circle cx="1762.5" cy="685.7" r="6.4"/><circle cx="1717.2" cy="644.8" r="6.4"/><circle cx="1711.9" cy="609.2" r="6.4"/><circle cx="1827.6" cy="548.6" r="6.4"/><circle cx="1776.6" cy="628.7" r="6.4"/><circle cx="1702.5" cy="552.8" r="6.4"/><circle cx="1712.0" cy="641.4" r="6.4"/><circle cx="1757.8" cy="489.0" r="6.4"/><circle cx="1718.2" cy="570.4" r="6.4"/><circle cx="1709.5" cy="513.8" r="6.4"/><circle cx="1825.4" cy="546.0" r="6.4"/><circle cx="1674.2" cy="453.2" r="6.4"/><circle cx="1776.1" cy="696.6" r="6.4"/><circle cx="1676.5" cy="654.6" r="6.4"/><circle cx="1733.7" cy="613.6" r="6.4"/><circle cx="1723.9" cy="623.5" r="6.4"/><circle cx="1724.6" cy="511.4" r="6.4"/><circle cx="1800.8" cy="542.5" r="6.4"/><circle cx="1697.0" cy="540.3" r="6.4"/><circle cx="1788.0" cy="539.6" r="6.4"/><circle cx="1810.0" cy="534.0" r="6.4"/><circle cx="1709.6" cy="529.6" r="6.4"/><circle cx="1770.6" cy="651.7" r="6.4"/><circle cx="1782.6" cy="542.6" r="6.4"/><circle cx="1719.9" cy="496.0" r="6.4"/><circle cx="1800.8" cy="548.0" r="6.4"/><circle cx="1748.4" cy="495.3" r="6.4"/><circle cx="1718.5" cy="531.0" r="6.4"/><circle cx="1806.3" cy="641.2" r="6.4"/><circle cx="1793.2" cy="543.0" r="6.4"/><circle cx="1827.9" cy="552.5" r="6.4"/><circle cx="1663.9" cy="460.4" r="6.4"/><circle cx="1821.7" cy="560.2" r="6.4"/><circle cx="1756.0" cy="651.8" r="6.4"/><circle cx="1745.5" cy="538.1" r="6.4"/><circle cx="1711.3" cy="577.1" r="6.4"/><circle cx="1710.9" cy="550.7" r="6.4"/><circle cx="1719.6" cy="575.9" r="6.4"/><circle cx="1715.9" cy="666.7" r="6.4"/><circle cx="1739.2" cy="672.6" r="6.4"/><circle cx="1720.9" cy="587.1" r="6.4"/><circle cx="1768.9" cy="583.1" r="6.4"/><circle cx="1849.4" cy="628.2" r="6.4"/><circle cx="1653.0" cy="532.1" r="6.4"/><circle cx="1768.6" cy="638.1" r="6.4"/><circle cx="1656.7" cy="576.0" r="6.4"/><circle cx="1723.9" cy="532.7" r="6.4"/><circle cx="1826.9" cy="556.9" r="6.4"/><circle cx="1690.1" cy="538.9" r="6.4"/><circle cx="1830.4" cy="553.8" r="6.4"/><circle cx="1699.9" cy="584.4" r="6.4"/><circle cx="1780.7" cy="683.7" r="6.4"/><circle cx="1800.3" cy="535.6" r="6.4"/><circle cx="1815.4" cy="534.7" r="6.4"/><circle cx="1808.7" cy="529.4" r="6.4"/><circle cx="1843.5" cy="618.6" r="6.4"/><circle cx="1776.6" cy="574.8" r="6.4"/><circle cx="1677.2" cy="581.0" r="6.4"/><circle cx="1703.5" cy="496.2" r="6.4"/><circle cx="1838.9" cy="634.4" r="6.4"/><circle cx="1730.0" cy="621.1" r="6.4"/><circle cx="1668.1" cy="573.4" r="6.4"/><circle cx="1654.6" cy="453.7" r="6.4"/><circle cx="1745.0" cy="677.2" r="6.4"/><circle cx="1686.8" cy="581.1" r="6.4"/><circle cx="1752.4" cy="678.2" r="6.4"/><circle cx="1766.4" cy="696.1" r="6.4"/><circle cx="1765.8" cy="545.8" r="6.4"/><circle cx="1698.8" cy="575.6" r="6.4"/><circle cx="1782.4" cy="696.5" r="6.4"/><circle cx="1812.2" cy="539.4" r="6.4"/><circle cx="1828.6" cy="566.5" r="6.4"/><circle cx="1723.6" cy="492.6" r="6.4"/><circle cx="1724.3" cy="506.8" r="6.4"/><circle cx="1819.9" cy="576.3" r="6.4"/><circle cx="1823.9" cy="539.8" r="6.4"/><circle cx="1735.7" cy="633.3" r="6.4"/><circle cx="1743.8" cy="488.9" r="6.4"/><circle cx="1836.3" cy="667.8" r="6.4"/><circle cx="1806.0" cy="491.2" r="6.4"/><circle cx="1741.5" cy="684.6" r="6.4"/><circle cx="1734.8" cy="676.6" r="6.4"/><circle cx="1664.4" cy="469.4" r="6.4"/><circle cx="1708.2" cy="638.1" r="6.4"/><circle cx="1698.1" cy="652.0" r="6.4"/><circle cx="1776.1" cy="563.1" r="6.4"/><circle cx="1719.9" cy="589.7" r="6.4"/><circle cx="1772.5" cy="679.1" r="6.4"/><circle cx="1714.9" cy="556.5" r="6.4"/><circle cx="1821.4" cy="555.6" r="6.4"/><circle cx="1676.6" cy="622.7" r="6.4"/><circle cx="1773.1" cy="632.0" r="6.4"/><circle cx="1783.2" cy="539.7" r="6.4"/><circle cx="1709.9" cy="558.0" r="6.4"/><circle cx="1702.5" cy="657.4" r="6.4"/><circle cx="1684.5" cy="657.9" r="6.4"/><circle cx="1737.4" cy="539.6" r="6.4"/><circle cx="1668.7" cy="444.8" r="6.4"/><circle cx="1720.3" cy="547.9" r="6.4"/><circle cx="1741.9" cy="613.5" r="6.4"/><circle cx="1733.3" cy="543.4" r="6.4"/><circle cx="1655.4" cy="495.6" r="6.4"/><circle cx="1729.5" cy="626.5" r="6.4"/><circle cx="1751.4" cy="484.8" r="6.4"/><circle cx="1825.1" cy="645.9" r="6.4"/><circle cx="1718.9" cy="581.2" r="6.4"/><circle cx="1664.2" cy="554.7" r="6.4"/><circle cx="1661.7" cy="563.4" r="6.4"/><circle cx="1674.7" cy="494.6" r="6.4"/><circle cx="1793.8" cy="575.7" r="6.4"/><circle cx="1818.9" cy="550.8" r="6.4"/><circle cx="1748.9" cy="581.3" r="6.4"/><circle cx="1667.2" cy="624.1" r="6.4"/><circle cx="1777.1" cy="707.9" r="6.4"/><circle cx="1747.3" cy="534.1" r="6.4"/><circle cx="1790.1" cy="719.5" r="6.4"/><circle cx="1775.7" cy="551.7" r="6.4"/><circle cx="1754.8" cy="625.2" r="6.4"/><circle cx="1661.1" cy="446.8" r="6.4"/><circle cx="1707.3" cy="583.3" r="6.4"/><circle cx="1815.4" cy="501.2" r="6.4"/><circle cx="1734.9" cy="605.3" r="6.4"/><circle cx="1733.2" cy="581.5" r="6.4"/><circle cx="1692.6" cy="574.0" r="6.4"/><circle cx="1812.4" cy="498.4" r="6.4"/><circle cx="1725.8" cy="614.3" r="6.4"/><circle cx="1810.8" cy="496.2" r="6.4"/><circle cx="1713.6" cy="618.7" r="6.4"/><circle cx="1782.7" cy="713.8" r="6.4"/><circle cx="1719.7" cy="605.2" r="6.4"/><circle cx="1827.0" cy="635.5" r="6.4"/><circle cx="1674.5" cy="608.5" r="6.4"/><circle cx="1657.0" cy="491.7" r="6.4"/><circle cx="1749.4" cy="477.8" r="6.4"/><circle cx="1721.1" cy="559.5" r="6.4"/><circle cx="1760.4" cy="579.8" r="6.4"/><circle cx="1731.0" cy="530.3" r="6.4"/><circle cx="1761.0" cy="657.7" r="6.4"/><circle cx="1843.3" cy="611.9" r="6.4"/><circle cx="1831.0" cy="618.8" r="6.4"/><circle cx="1818.6" cy="580.9" r="6.4"/><circle cx="1658.6" cy="581.5" r="6.4"/><circle cx="1674.3" cy="617.2" r="6.4"/><circle cx="1694.8" cy="501.1" r="6.4"/><circle cx="1793.8" cy="546.1" r="6.4"/><circle cx="1664.1" cy="448.5" r="6.4"/><circle cx="1783.9" cy="580.3" r="6.4"/><circle cx="1729.5" cy="565.7" r="6.4"/><circle cx="1684.9" cy="575.9" r="6.4"/><circle cx="1666.8" cy="559.0" r="6.4"/><circle cx="1681.0" cy="565.6" r="6.4"/></g>
<path class="tk" d="M231.45 217.0v-18.2M231.45 855.0v18.2M240.31 217.0v-9.0M240.31 855.0v9.0M249.16 217.0v-9.0M249.16 855.0v9.0M258.02 217.0v-18.2M258.02 855.0v18.2M266.87 217.0v-9.0M266.87 855.0v9.0M275.73 217.0v-9.0M275.73 855.0v9.0M284.58 217.0v-18.2M284.58 855.0v18.2M293.44 217.0v-9.0M293.44 855.0v9.0M302.30 217.0v-9.0M302.30 855.0v9.0M311.15 217.0v-18.2M311.15 855.0v18.2M320.01 217.0v-9.0M320.01 855.0v9.0M328.86 217.0v-9.0M328.86 855.0v9.0M337.72 217.0v-18.2M337.72 855.0v18.2M346.57 217.0v-9.0M346.57 855.0v9.0M355.43 217.0v-9.0M355.43 855.0v9.0M364.28 217.0v-18.2M364.28 855.0v18.2M373.14 217.0v-9.0M373.14 855.0v9.0M382.00 217.0v-9.0M382.00 855.0v9.0M390.85 217.0v-18.2M390.85 855.0v18.2M399.71 217.0v-9.0M399.71 855.0v9.0M408.56 217.0v-9.0M408.56 855.0v9.0M417.42 217.0v-18.2M417.42 855.0v18.2M426.27 217.0v-9.0M426.27 855.0v9.0M435.13 217.0v-9.0M435.13 855.0v9.0M443.99 217.0v-18.2M443.99 855.0v18.2M452.84 217.0v-9.0M452.84 855.0v9.0M461.70 217.0v-9.0M461.70 855.0v9.0M470.55 217.0v-18.2M470.55 855.0v18.2M479.41 217.0v-9.0M479.41 855.0v9.0M488.26 217.0v-9.0M488.26 855.0v9.0M497.12 217.0v-18.2M497.12 855.0v18.2M505.97 217.0v-9.0M505.97 855.0v9.0M514.83 217.0v-9.0M514.83 855.0v9.0M523.69 217.0v-18.2M523.69 855.0v18.2M532.54 217.0v-9.0M532.54 855.0v9.0M541.40 217.0v-9.0M541.40 855.0v9.0M550.25 217.0v-18.2M550.25 855.0v18.2M559.11 217.0v-9.0M559.11 855.0v9.0M567.96 217.0v-9.0M567.96 855.0v9.0M576.82 217.0v-18.2M576.82 855.0v18.2M585.68 217.0v-9.0M585.68 855.0v9.0M594.53 217.0v-9.0M594.53 855.0v9.0M603.39 217.0v-18.2M603.39 855.0v18.2M612.24 217.0v-9.0M612.24 855.0v9.0M621.10 217.0v-9.0M621.10 855.0v9.0M629.95 217.0v-18.2M629.95 855.0v18.2M638.81 217.0v-9.0M638.81 855.0v9.0M647.67 217.0v-9.0M647.67 855.0v9.0M656.52 217.0v-18.2M656.52 855.0v18.2M665.38 217.0v-9.0M665.38 855.0v9.0M674.23 217.0v-9.0M674.23 855.0v9.0M683.09 217.0v-18.2M683.09 855.0v18.2M691.94 217.0v-9.0M691.94 855.0v9.0M700.80 217.0v-9.0M700.80 855.0v9.0M709.65 217.0v-18.2M709.65 855.0v18.2M718.51 217.0v-9.0M718.51 855.0v9.0M727.37 217.0v-9.0M727.37 855.0v9.0M736.22 217.0v-18.2M736.22 855.0v18.2M745.08 217.0v-9.0M745.08 855.0v9.0M753.93 217.0v-9.0M753.93 855.0v9.0M762.79 217.0v-18.2M762.79 855.0v18.2M771.64 217.0v-9.0M771.64 855.0v9.0M780.50 217.0v-9.0M780.50 855.0v9.0M789.36 217.0v-18.2M789.36 855.0v18.2M798.21 217.0v-9.0M798.21 855.0v9.0M807.07 217.0v-9.0M807.07 855.0v9.0M815.92 217.0v-18.2M815.92 855.0v18.2M824.78 217.0v-9.0M824.78 855.0v9.0M833.63 217.0v-9.0M833.63 855.0v9.0M842.49 217.0v-18.2M842.49 855.0v18.2M851.35 217.0v-9.0M851.35 855.0v9.0M860.20 217.0v-9.0M860.20 855.0v9.0M869.06 217.0v-18.2M869.06 855.0v18.2M877.91 217.0v-9.0M877.91 855.0v9.0M886.77 217.0v-9.0M886.77 855.0v9.0M895.62 217.0v-18.2M895.62 855.0v18.2M904.48 217.0v-9.0M904.48 855.0v9.0M913.33 217.0v-9.0M913.33 855.0v9.0M922.19 217.0v-18.2M922.19 855.0v18.2M931.05 217.0v-9.0M931.05 855.0v9.0M939.90 217.0v-9.0M939.90 855.0v9.0M948.76 217.0v-18.2M948.76 855.0v18.2M957.61 217.0v-9.0M957.61 855.0v9.0M966.47 217.0v-9.0M966.47 855.0v9.0M975.32 217.0v-18.2M975.32 855.0v18.2M984.18 217.0v-9.0M984.18 855.0v9.0M993.04 217.0v-9.0M993.04 855.0v9.0M1001.89 217.0v-18.2M1001.89 855.0v18.2M1010.75 217.0v-9.0M1010.75 855.0v9.0M1019.60 217.0v-9.0M1019.60 855.0v9.0M1028.46 217.0v-18.2M1028.46 855.0v18.2M1037.31 217.0v-9.0M1037.31 855.0v9.0M1046.17 217.0v-9.0M1046.17 855.0v9.0M1055.02 217.0v-18.2M1055.02 855.0v18.2M1063.88 217.0v-9.0M1063.88 855.0v9.0M1072.74 217.0v-9.0M1072.74 855.0v9.0M1081.59 217.0v-18.2M1081.59 855.0v18.2M1090.45 217.0v-9.0M1090.45 855.0v9.0M1099.30 217.0v-9.0M1099.30 855.0v9.0M1108.16 217.0v-18.2M1108.16 855.0v18.2M1117.01 217.0v-9.0M1117.01 855.0v9.0M1125.87 217.0v-9.0M1125.87 855.0v9.0M1134.73 217.0v-18.2M1134.73 855.0v18.2M1143.58 217.0v-9.0M1143.58 855.0v9.0M1152.44 217.0v-9.0M1152.44 855.0v9.0M1161.29 217.0v-18.2M1161.29 855.0v18.2M1170.15 217.0v-9.0M1170.15 855.0v9.0M1179.00 217.0v-9.0M1179.00 855.0v9.0M1187.86 217.0v-18.2M1187.86 855.0v18.2M1196.72 217.0v-9.0M1196.72 855.0v9.0M1205.57 217.0v-9.0M1205.57 855.0v9.0M1214.43 217.0v-18.2M1214.43 855.0v18.2M1223.28 217.0v-9.0M1223.28 855.0v9.0M1232.14 217.0v-9.0M1232.14 855.0v9.0M1240.99 217.0v-18.2M1240.99 855.0v18.2M1249.85 217.0v-9.0M1249.85 855.0v9.0M1258.70 217.0v-9.0M1258.70 855.0v9.0M1267.56 217.0v-18.2M1267.56 855.0v18.2M1276.42 217.0v-9.0M1276.42 855.0v9.0M1285.27 217.0v-9.0M1285.27 855.0v9.0M1294.13 217.0v-18.2M1294.13 855.0v18.2M1302.98 217.0v-9.0M1302.98 855.0v9.0M1311.84 217.0v-9.0M1311.84 855.0v9.0M1320.69 217.0v-18.2M1320.69 855.0v18.2M1329.55 217.0v-9.0M1329.55 855.0v9.0M1338.41 217.0v-9.0M1338.41 855.0v9.0M1347.26 217.0v-18.2M1347.26 855.0v18.2M1356.12 217.0v-9.0M1356.12 855.0v9.0M1364.97 217.0v-9.0M1364.97 855.0v9.0M1373.83 217.0v-18.2M1373.83 855.0v18.2M1382.68 217.0v-9.0M1382.68 855.0v9.0M1391.54 217.0v-9.0M1391.54 855.0v9.0M1400.40 217.0v-18.2M1400.40 855.0v18.2M1409.25 217.0v-9.0M1409.25 855.0v9.0M1418.11 217.0v-9.0M1418.11 855.0v9.0M1426.96 217.0v-18.2M1426.96 855.0v18.2M1435.82 217.0v-9.0M1435.82 855.0v9.0M1444.67 217.0v-9.0M1444.67 855.0v9.0M1453.53 217.0v-18.2M1453.53 855.0v18.2M1462.38 217.0v-9.0M1462.38 855.0v9.0M1471.24 217.0v-9.0M1471.24 855.0v9.0M1480.10 217.0v-18.2M1480.10 855.0v18.2M1488.95 217.0v-9.0M1488.95 855.0v9.0M1497.81 217.0v-9.0M1497.81 855.0v9.0M1506.66 217.0v-18.2M1506.66 855.0v18.2M1515.52 217.0v-9.0M1515.52 855.0v9.0M1524.37 217.0v-9.0M1524.37 855.0v9.0M1533.23 217.0v-18.2M1533.23 855.0v18.2M1542.09 217.0v-9.0M1542.09 855.0v9.0M1550.94 217.0v-9.0M1550.94 855.0v9.0M1559.80 217.0v-18.2M1559.80 855.0v18.2M1568.65 217.0v-9.0M1568.65 855.0v9.0M1577.51 217.0v-9.0M1577.51 855.0v9.0M1586.36 217.0v-18.2M1586.36 855.0v18.2M1595.22 217.0v-9.0M1595.22 855.0v9.0M1604.08 217.0v-9.0M1604.08 855.0v9.0M1612.93 217.0v-18.2M1612.93 855.0v18.2M1621.79 217.0v-9.0M1621.79 855.0v9.0M1630.64 217.0v-9.0M1630.64 855.0v9.0M1639.50 217.0v-18.2M1639.50 855.0v18.2M1648.35 217.0v-9.0M1648.35 855.0v9.0M1657.21 217.0v-9.0M1657.21 855.0v9.0M1666.06 217.0v-18.2M1666.06 855.0v18.2M1674.92 217.0v-9.0M1674.92 855.0v9.0M1683.78 217.0v-9.0M1683.78 855.0v9.0M1692.63 217.0v-18.2M1692.63 855.0v18.2M1701.49 217.0v-9.0M1701.49 855.0v9.0M1710.34 217.0v-9.0M1710.34 855.0v9.0M1719.20 217.0v-18.2M1719.20 855.0v18.2M1728.05 217.0v-9.0M1728.05 855.0v9.0M1736.91 217.0v-9.0M1736.91 855.0v9.0M1745.77 217.0v-18.2M1745.77 855.0v18.2M1754.62 217.0v-9.0M1754.62 855.0v9.0M1763.48 217.0v-9.0M1763.48 855.0v9.0M1772.33 217.0v-18.2M1772.33 855.0v18.2M1781.19 217.0v-9.0M1781.19 855.0v9.0M1790.04 217.0v-9.0M1790.04 855.0v9.0M1798.90 217.0v-18.2M1798.90 855.0v18.2M1807.75 217.0v-9.0M1807.75 855.0v9.0M1816.61 217.0v-9.0M1816.61 855.0v9.0M1825.47 217.0v-18.2M1825.47 855.0v18.2M1834.32 217.0v-9.0M1834.32 855.0v9.0M1843.18 217.0v-9.0M1843.18 855.0v9.0M1852.03 217.0v-18.2M1852.03 855.0v18.2M1860.89 217.0v-9.0M1860.89 855.0v9.0M1869.74 217.0v-9.0M1869.74 855.0v9.0M1878.60 217.0v-18.2M1878.60 855.0v18.2M226.0 313.96h-18.2M1883.5 313.96h18.2M226.0 439.48h-18.2M1883.5 439.48h18.2M226.0 565.00h-18.2M1883.5 565.00h18.2M226.0 690.52h-18.2M1883.5 690.52h18.2M226.0 816.04h-18.2M1883.5 816.04h18.2"/>
<rect class="fr" x="226.0" y="217.0" width="1657.5" height="638.0"/>
<text class="b" transform="translate(190.7 329.26) scale(1 1.015)" font-size="42.4" text-anchor="end">16</text><text class="b" transform="translate(190.7 454.78) scale(1 1.015)" font-size="42.4" text-anchor="end">8</text><text class="b" transform="translate(190.7 580.30) scale(1 1.015)" font-size="42.4" text-anchor="end">0</text><text class="b" transform="translate(190.7 705.82) scale(1 1.015)" font-size="42.4" text-anchor="end"><tspan dy="4.53">−</tspan><tspan dy="-4.53">8</tspan></text><text class="b" transform="translate(190.7 831.34) scale(1 1.015)" font-size="42.4" text-anchor="end"><tspan dy="4.53">−</tspan><tspan dy="-4.53">16</tspan></text>
<g class="b" font-size="42.4" text-anchor="middle"><text transform="translate(231.45 921.30) scale(1 1.015)"><tspan dy="4.53">−</tspan><tspan dy="-4.53">6</tspan></text><text transform="translate(258.02 921.30) scale(1 1.015)">0</text><text transform="translate(284.58 921.30) scale(1 1.015)">6</text><text transform="translate(311.15 921.30) scale(1 1.015)">12</text><text transform="translate(337.72 921.30) scale(1 1.015)">18</text><text transform="translate(364.28 921.30) scale(1 1.015)">24</text><text transform="translate(390.85 921.30) scale(1 1.015)">30</text><text transform="translate(417.42 921.30) scale(1 1.015)">36</text><text transform="translate(443.99 921.30) scale(1 1.015)">42</text><text transform="translate(470.55 921.30) scale(1 1.015)">48</text><text transform="translate(497.12 921.30) scale(1 1.015)">54</text><text transform="translate(523.69 921.30) scale(1 1.015)">60</text><text transform="translate(550.25 921.30) scale(1 1.015)">66</text><text transform="translate(576.82 921.30) scale(1 1.015)">72</text><text transform="translate(603.39 921.30) scale(1 1.015)">78</text><text transform="translate(629.95 921.30) scale(1 1.015)">84</text><text transform="translate(656.52 921.30) scale(1 1.015)">90</text><text transform="translate(683.09 921.30) scale(1 1.015)">96</text><text transform="translate(709.65 921.30) scale(1 1.015)">102</text><text transform="translate(736.22 921.30) scale(1 1.015)">108</text><text transform="translate(762.79 921.30) scale(1 1.015)">114</text><text transform="translate(789.36 921.30) scale(1 1.015)">120</text><text transform="translate(815.92 921.30) scale(1 1.015)">126</text><text transform="translate(842.49 921.30) scale(1 1.015)">132</text><text transform="translate(869.06 921.30) scale(1 1.015)">138</text><text transform="translate(895.62 921.30) scale(1 1.015)">144</text><text transform="translate(922.19 921.30) scale(1 1.015)">150</text><text transform="translate(948.76 921.30) scale(1 1.015)">156</text><text transform="translate(975.32 921.30) scale(1 1.015)">162</text><text transform="translate(1001.89 921.30) scale(1 1.015)">168</text><text transform="translate(1028.46 921.30) scale(1 1.015)">174</text><text transform="translate(1055.02 921.30) scale(1 1.015)">180</text><text transform="translate(1081.59 921.30) scale(1 1.015)">186</text><text transform="translate(1108.16 921.30) scale(1 1.015)">192</text><text transform="translate(1134.73 921.30) scale(1 1.015)">198</text><text transform="translate(1161.29 921.30) scale(1 1.015)">204</text><text transform="translate(1187.86 921.30) scale(1 1.015)">210</text><text transform="translate(1214.43 921.30) scale(1 1.015)">216</text><text transform="translate(1240.99 921.30) scale(1 1.015)">222</text><text transform="translate(1267.56 921.30) scale(1 1.015)">228</text><text transform="translate(1294.13 921.30) scale(1 1.015)">234</text><text transform="translate(1320.69 921.30) scale(1 1.015)">240</text><text transform="translate(1347.26 921.30) scale(1 1.015)">246</text><text transform="translate(1373.83 921.30) scale(1 1.015)">252</text><text transform="translate(1400.40 921.30) scale(1 1.015)">258</text><text transform="translate(1426.96 921.30) scale(1 1.015)">264</text><text transform="translate(1453.53 921.30) scale(1 1.015)">270</text><text transform="translate(1480.10 921.30) scale(1 1.015)">276</text><text transform="translate(1506.66 921.30) scale(1 1.015)">282</text><text transform="translate(1533.23 921.30) scale(1 1.015)">288</text><text transform="translate(1559.80 921.30) scale(1 1.015)">294</text><text transform="translate(1586.36 921.30) scale(1 1.015)">300</text><text transform="translate(1612.93 921.30) scale(1 1.015)">306</text><text transform="translate(1639.50 921.30) scale(1 1.015)">312</text><text transform="translate(1666.06 921.30) scale(1 1.015)">318</text><text transform="translate(1692.63 921.30) scale(1 1.015)">324</text><text transform="translate(1719.20 921.30) scale(1 1.015)">330</text><text transform="translate(1745.77 921.30) scale(1 1.015)">336</text><text transform="translate(1772.33 921.30) scale(1 1.015)">342</text><text transform="translate(1798.90 921.30) scale(1 1.015)">348</text><text transform="translate(1825.47 921.30) scale(1 1.015)">354</text><text transform="translate(1852.03 921.30) scale(1 1.015)">360</text><text transform="translate(1878.60 921.30) scale(1 1.015)">366</text></g>
<text x="0" y="0" font-size="42.5" text-anchor="middle" transform="translate(89.9 536.00) rotate(-90)">East (mm)</text>
</g>
<g id="panel2">
<g class="d"><circle cx="363.6" cy="1113.3" r="6.4"/><circle cx="318.6" cy="1207.5" r="6.4"/><circle cx="360.4" cy="1219.4" r="6.4"/><circle cx="363.6" cy="1225.0" r="6.4"/><circle cx="363.1" cy="1232.2" r="6.4"/><circle cx="309.1" cy="1244.5" r="6.4"/><circle cx="293.4" cy="1268.1" r="6.4"/><circle cx="294.2" cy="1276.1" r="6.4"/><circle cx="308.6" cy="1266.5" r="6.4"/><circle cx="319.7" cy="1263.8" r="6.4"/><circle cx="315.4" cy="1275.3" r="6.4"/><circle cx="359.2" cy="1273.7" r="6.4"/><circle cx="341.0" cy="1288.3" r="6.4"/><circle cx="308.6" cy="1294.4" r="6.4"/><circle cx="320.5" cy="1300.0" r="6.4"/><circle cx="272.4" cy="1304.8" r="6.4"/><circle cx="262.8" cy="1311.5" r="6.4"/><circle cx="279.1" cy="1312.3" r="6.4"/><circle cx="361.2" cy="1306.4" r="6.4"/><circle cx="359.2" cy="1310.4" r="6.4"/><circle cx="319.0" cy="1309.6" r="6.4"/><circle cx="312.1" cy="1318.3" r="6.4"/><circle cx="326.9" cy="1320.2" r="6.4"/><circle cx="340.0" cy="1319.9" r="6.4"/><circle cx="354.0" cy="1322.3" r="6.4"/><circle cx="344.2" cy="1326.3" r="6.4"/><circle cx="295.0" cy="1322.3" r="6.4"/><circle cx="258.3" cy="1324.7" r="6.4"/><circle cx="325.7" cy="1332.7" r="6.4"/><circle cx="265.5" cy="1337.5" r="6.4"/><circle cx="261.5" cy="1342.3" r="6.4"/><circle cx="267.9" cy="1344.7" r="6.4"/><circle cx="315.8" cy="1340.2" r="6.4"/><circle cx="297.1" cy="1341.8" r="6.4"/><circle cx="343.2" cy="1341.0" r="6.4"/><circle cx="361.7" cy="1344.7" r="6.4"/><circle cx="322.1" cy="1351.0" r="6.4"/><circle cx="335.7" cy="1351.8" r="6.4"/><circle cx="341.3" cy="1351.5" r="6.4"/><circle cx="362.0" cy="1352.6" r="6.4"/><circle cx="268.7" cy="1351.8" r="6.4"/><circle cx="275.1" cy="1353.4" r="6.4"/><circle cx="266.3" cy="1359.8" r="6.4"/><circle cx="280.7" cy="1359.8" r="6.4"/><circle cx="290.2" cy="1364.3" r="6.4"/><circle cx="265.5" cy="1366.2" r="6.4"/><circle cx="309.4" cy="1359.5" r="6.4"/><circle cx="322.9" cy="1358.2" r="6.4"/><circle cx="323.7" cy="1366.2" r="6.4"/><circle cx="340.8" cy="1365.4" r="6.4"/><circle cx="341.3" cy="1370.2" r="6.4"/><circle cx="358.0" cy="1375.0" r="6.4"/><circle cx="361.2" cy="1382.9" r="6.4"/><circle cx="314.2" cy="1374.2" r="6.4"/><circle cx="326.1" cy="1378.2" r="6.4"/><circle cx="319.0" cy="1380.5" r="6.4"/><circle cx="267.1" cy="1380.5" r="6.4"/><circle cx="280.7" cy="1378.2" r="6.4"/><circle cx="263.1" cy="1382.1" r="6.4"/><circle cx="275.9" cy="1383.7" r="6.4"/><circle cx="266.3" cy="1386.9" r="6.4"/><circle cx="292.6" cy="1382.1" r="6.4"/><circle cx="293.4" cy="1388.5" r="6.4"/><circle cx="295.8" cy="1392.5" r="6.4"/><circle cx="311.0" cy="1388.5" r="6.4"/><circle cx="322.1" cy="1388.5" r="6.4"/><circle cx="335.7" cy="1390.1" r="6.4"/><circle cx="351.7" cy="1393.3" r="6.4"/><circle cx="344.5" cy="1394.9" r="6.4"/><circle cx="328.5" cy="1394.9" r="6.4"/><circle cx="258.3" cy="1397.3" r="6.4"/><circle cx="273.5" cy="1397.3" r="6.4"/><circle cx="275.9" cy="1402.9" r="6.4"/><circle cx="264.7" cy="1406.9" r="6.4"/><circle cx="358.8" cy="1399.7" r="6.4"/><circle cx="362.0" cy="1408.5" r="6.4"/><circle cx="357.2" cy="1414.0" r="6.4"/><circle cx="303.0" cy="1403.7" r="6.4"/><circle cx="311.0" cy="1401.3" r="6.4"/><circle cx="322.1" cy="1402.9" r="6.4"/><circle cx="331.7" cy="1404.5" r="6.4"/><circle cx="344.5" cy="1406.1" r="6.4"/><circle cx="289.4" cy="1407.7" r="6.4"/><circle cx="287.0" cy="1414.0" r="6.4"/><circle cx="312.6" cy="1414.0" r="6.4"/><circle cx="325.3" cy="1415.6" r="6.4"/><circle cx="347.7" cy="1418.8" r="6.4"/><circle cx="331.7" cy="1423.6" r="6.4"/><circle cx="259.9" cy="1418.0" r="6.4"/><circle cx="274.3" cy="1417.2" r="6.4"/><circle cx="267.9" cy="1423.6" r="6.4"/><circle cx="283.9" cy="1422.0" r="6.4"/><circle cx="295.0" cy="1417.2" r="6.4"/><circle cx="299.8" cy="1423.6" r="6.4"/><circle cx="306.2" cy="1428.4" r="6.4"/><circle cx="358.0" cy="1430.8" r="6.4"/><circle cx="347.7" cy="1428.4" r="6.4"/><circle cx="338.1" cy="1430.0" r="6.4"/><circle cx="330.1" cy="1434.8" r="6.4"/><circle cx="262.3" cy="1430.8" r="6.4"/><circle cx="274.3" cy="1431.6" r="6.4"/><circle cx="285.5" cy="1430.0" r="6.4"/><circle cx="296.6" cy="1431.6" r="6.4"/><circle cx="315.8" cy="1430.0" r="6.4"/><circle cx="311.0" cy="1438.0" r="6.4"/><circle cx="261.5" cy="1443.6" r="6.4"/><circle cx="272.7" cy="1441.2" r="6.4"/><circle cx="282.3" cy="1445.9" r="6.4"/><circle cx="299.8" cy="1444.4" r="6.4"/><circle cx="303.0" cy="1450.7" r="6.4"/><circle cx="331.7" cy="1444.4" r="6.4"/><circle cx="344.5" cy="1442.8" r="6.4"/><circle cx="338.1" cy="1452.3" r="6.4"/><circle cx="347.7" cy="1452.3" r="6.4"/><circle cx="355.6" cy="1453.9" r="6.4"/><circle cx="259.9" cy="1453.9" r="6.4"/><circle cx="271.1" cy="1455.5" r="6.4"/><circle cx="283.9" cy="1457.1" r="6.4"/><circle cx="296.6" cy="1458.7" r="6.4"/><circle cx="307.8" cy="1460.3" r="6.4"/><circle cx="328.5" cy="1460.3" r="6.4"/><circle cx="258.3" cy="1460.3" r="6.4"/><circle cx="347.7" cy="1460.3" r="6.4"/><circle cx="357.2" cy="1460.3" r="6.4"/><circle cx="259.8" cy="1468.6" r="6.4"/><circle cx="271.1" cy="1463.8" r="6.4"/><circle cx="284.1" cy="1470.8" r="6.4"/><circle cx="294.3" cy="1466.5" r="6.4"/><circle cx="305.1" cy="1463.2" r="6.4"/><circle cx="323.5" cy="1466.5" r="6.4"/><circle cx="346.2" cy="1469.2" r="6.4"/><circle cx="355.9" cy="1474.0" r="6.4"/><circle cx="350.5" cy="1476.2" r="6.4"/><circle cx="261.9" cy="1480.0" r="6.4"/><circle cx="270.6" cy="1478.9" r="6.4"/><circle cx="281.4" cy="1479.4" r="6.4"/><circle cx="290.0" cy="1478.3" r="6.4"/><circle cx="298.7" cy="1480.5" r="6.4"/><circle cx="312.7" cy="1475.1" r="6.4"/><circle cx="335.4" cy="1481.0" r="6.4"/><circle cx="305.1" cy="1487.0" r="6.4"/><circle cx="279.2" cy="1487.0" r="6.4"/><circle cx="327.3" cy="1487.5" r="6.4"/><circle cx="260.3" cy="1492.4" r="6.4"/><circle cx="268.4" cy="1493.5" r="6.4"/><circle cx="279.2" cy="1495.6" r="6.4"/><circle cx="349.4" cy="1498.3" r="6.4"/><circle cx="329.5" cy="1499.9" r="6.4"/><circle cx="337.0" cy="1499.9" r="6.4"/><circle cx="348.4" cy="1503.7" r="6.4"/><circle cx="289.5" cy="1502.1" r="6.4"/><circle cx="284.1" cy="1506.4" r="6.4"/><circle cx="314.9" cy="1505.9" r="6.4"/><circle cx="303.5" cy="1509.7" r="6.4"/><circle cx="339.7" cy="1512.4" r="6.4"/><circle cx="277.6" cy="1514.5" r="6.4"/><circle cx="285.7" cy="1515.1" r="6.4"/><circle cx="356.5" cy="1515.1" r="6.4"/><circle cx="350.5" cy="1518.9" r="6.4"/><circle cx="296.5" cy="1521.6" r="6.4"/><circle cx="283.5" cy="1523.7" r="6.4"/><circle cx="270.0" cy="1525.3" r="6.4"/><circle cx="299.7" cy="1527.0" r="6.4"/><circle cx="334.9" cy="1527.0" r="6.4"/><circle cx="355.9" cy="1529.7" r="6.4"/><circle cx="281.4" cy="1528.0" r="6.4"/><circle cx="280.3" cy="1537.2" r="6.4"/><circle cx="330.5" cy="1537.2" r="6.4"/><circle cx="284.6" cy="1539.9" r="6.4"/><circle cx="315.9" cy="1541.5" r="6.4"/><circle cx="287.9" cy="1544.2" r="6.4"/><circle cx="270.0" cy="1550.2" r="6.4"/><circle cx="307.3" cy="1548.6" r="6.4"/><circle cx="299.2" cy="1550.7" r="6.4"/><circle cx="355.4" cy="1552.9" r="6.4"/><circle cx="306.2" cy="1555.0" r="6.4"/><circle cx="309.5" cy="1559.9" r="6.4"/><circle cx="278.9" cy="1563.1" r="6.4"/><circle cx="305.1" cy="1563.7" r="6.4"/><circle cx="286.5" cy="1573.4" r="6.4"/><circle cx="314.0" cy="1576.1" r="6.4"/><circle cx="297.8" cy="1581.5" r="6.4"/><circle cx="287.5" cy="1596.9" r="6.4"/><circle cx="307.5" cy="1600.4" r="6.4"/><circle cx="282.5" cy="1615.0" r="6.4"/><circle cx="296.7" cy="1616.6" r="6.4"/><circle cx="337.0" cy="1617.7" r="6.4"/><circle cx="350.8" cy="1617.7" r="6.4"/><circle cx="323.9" cy="1409.5" r="6.4"/><circle cx="271.1" cy="1356.9" r="6.4"/><circle cx="332.3" cy="1458.4" r="6.4"/><circle cx="307.0" cy="1408.8" r="6.4"/><circle cx="280.7" cy="1459.1" r="6.4"/><circle cx="307.6" cy="1468.8" r="6.4"/><circle cx="284.4" cy="1513.1" r="6.4"/><circle cx="339.2" cy="1443.6" r="6.4"/><circle cx="304.5" cy="1426.3" r="6.4"/><circle cx="305.7" cy="1553.0" r="6.4"/><circle cx="289.6" cy="1521.3" r="6.4"/><circle cx="284.8" cy="1518.7" r="6.4"/><circle cx="311.2" cy="1399.5" r="6.4"/><circle cx="270.7" cy="1392.8" r="6.4"/><circle cx="271.6" cy="1349.6" r="6.4"/><circle cx="295.0" cy="1406.1" r="6.4"/><circle cx="295.8" cy="1459.5" r="6.4"/><circle cx="322.4" cy="1394.6" r="6.4"/><circle cx="352.6" cy="1415.8" r="6.4"/><circle cx="279.3" cy="1456.3" r="6.4"/><circle cx="320.2" cy="1404.5" r="6.4"/><circle cx="348.6" cy="1473.3" r="6.4"/><circle cx="297.1" cy="1438.8" r="6.4"/><circle cx="281.7" cy="1533.3" r="6.4"/><circle cx="273.0" cy="1396.6" r="6.4"/><circle cx="285.5" cy="1458.7" r="6.4"/><circle cx="275.6" cy="1438.3" r="6.4"/><circle cx="316.2" cy="1375.1" r="6.4"/><circle cx="285.4" cy="1471.1" r="6.4"/><circle cx="264.3" cy="1354.8" r="6.4"/><circle cx="319.9" cy="1384.0" r="6.4"/><circle cx="271.4" cy="1428.0" r="6.4"/><circle cx="354.1" cy="1464.6" r="6.4"/><circle cx="276.5" cy="1476.2" r="6.4"/><circle cx="300.7" cy="1427.3" r="6.4"/><circle cx="355.2" cy="1398.4" r="6.4"/><circle cx="321.9" cy="1369.4" r="6.4"/><circle cx="267.4" cy="1458.4" r="6.4"/><circle cx="301.7" cy="1463.7" r="6.4"/><circle cx="352.5" cy="1462.1" r="6.4"/><circle cx="267.9" cy="1479.9" r="6.4"/><circle cx="334.7" cy="1427.4" r="6.4"/><circle cx="289.1" cy="1515.5" r="6.4"/><circle cx="302.7" cy="1454.1" r="6.4"/><circle cx="348.2" cy="1422.5" r="6.4"/><circle cx="291.2" cy="1468.5" r="6.4"/><circle cx="286.7" cy="1481.4" r="6.4"/><circle cx="316.4" cy="1384.6" r="6.4"/><circle cx="350.7" cy="1456.6" r="6.4"/><circle cx="293.4" cy="1432.0" r="6.4"/><circle cx="273.2" cy="1447.3" r="6.4"/><circle cx="304.3" cy="1441.7" r="6.4"/><circle cx="262.7" cy="1442.2" r="6.4"/><circle cx="325.6" cy="1402.7" r="6.4"/><circle cx="287.0" cy="1428.5" r="6.4"/><circle cx="304.0" cy="1564.0" r="6.4"/><circle cx="353.8" cy="1453.5" r="6.4"/><circle cx="287.2" cy="1472.8" r="6.4"/><circle cx="338.7" cy="1393.5" r="6.4"/><circle cx="320.4" cy="1386.7" r="6.4"/><circle cx="274.3" cy="1489.2" r="6.4"/><circle cx="279.8" cy="1530.7" r="6.4"/><circle cx="324.2" cy="1373.3" r="6.4"/><circle cx="333.0" cy="1447.4" r="6.4"/><circle cx="360.0" cy="1407.6" r="6.4"/><circle cx="292.1" cy="1411.0" r="6.4"/><circle cx="277.7" cy="1525.6" r="6.4"/><circle cx="280.4" cy="1430.5" r="6.4"/><circle cx="267.0" cy="1463.0" r="6.4"/><circle cx="271.0" cy="1418.8" r="6.4"/><circle cx="340.2" cy="1448.1" r="6.4"/><circle cx="262.9" cy="1388.7" r="6.4"/><circle cx="324.1" cy="1399.7" r="6.4"/><circle cx="341.4" cy="1454.5" r="6.4"/><circle cx="292.6" cy="1417.6" r="6.4"/><circle cx="266.2" cy="1419.5" r="6.4"/><circle cx="275.3" cy="1390.6" r="6.4"/><circle cx="348.4" cy="1446.0" r="6.4"/><circle cx="260.2" cy="1446.4" r="6.4"/><circle cx="277.0" cy="1521.1" r="6.4"/><circle cx="331.1" cy="1355.2" r="6.4"/><circle cx="333.9" cy="1431.3" r="6.4"/><circle cx="287.9" cy="1509.1" r="6.4"/><circle cx="278.4" cy="1443.1" r="6.4"/><circle cx="287.0" cy="1478.9" r="6.4"/><circle cx="324.6" cy="1362.9" r="6.4"/><circle cx="330.6" cy="1388.0" r="6.4"/><circle cx="267.8" cy="1430.8" r="6.4"/><circle cx="274.9" cy="1411.0" r="6.4"/><circle cx="289.3" cy="1413.1" r="6.4"/><circle cx="276.2" cy="1361.6" r="6.4"/><circle cx="347.0" cy="1468.5" r="6.4"/><circle cx="268.6" cy="1371.5" r="6.4"/><circle cx="294.3" cy="1477.0" r="6.4"/><circle cx="276.5" cy="1418.6" r="6.4"/><circle cx="276.0" cy="1483.9" r="6.4"/><circle cx="277.2" cy="1428.7" r="6.4"/><circle cx="293.5" cy="1473.0" r="6.4"/><circle cx="341.1" cy="1416.1" r="6.4"/><circle cx="299.3" cy="1455.8" r="6.4"/><circle cx="1672.4" cy="1045.4" r="6.4"/><circle cx="1779.4" cy="1110.8" r="6.4"/><circle cx="1801.3" cy="1122.4" r="6.4"/><circle cx="1849.6" cy="1128.8" r="6.4"/><circle cx="1776.6" cy="1156.3" r="6.4"/><circle cx="1849.6" cy="1161.8" r="6.4"/><circle cx="1670.5" cy="1185.0" r="6.4"/><circle cx="1773.7" cy="1187.8" r="6.4"/><circle cx="1848.0" cy="1185.0" r="6.4"/><circle cx="1851.5" cy="1193.7" r="6.4"/><circle cx="1644.9" cy="1198.5" r="6.4"/><circle cx="1645.7" cy="1201.7" r="6.4"/><circle cx="1671.6" cy="1196.9" r="6.4"/><circle cx="1697.6" cy="1200.6" r="6.4"/><circle cx="1684.8" cy="1205.7" r="6.4"/><circle cx="1779.0" cy="1196.9" r="6.4"/><circle cx="1779.0" cy="1203.3" r="6.4"/><circle cx="1846.0" cy="1211.3" r="6.4"/><circle cx="1852.3" cy="1210.5" r="6.4"/><circle cx="1669.4" cy="1216.9" r="6.4"/><circle cx="1798.9" cy="1220.1" r="6.4"/><circle cx="1850.0" cy="1220.9" r="6.4"/><circle cx="1736.4" cy="1228.5" r="6.4"/><circle cx="1695.2" cy="1232.5" r="6.4"/><circle cx="1644.1" cy="1232.8" r="6.4"/><circle cx="1643.8" cy="1240.8" r="6.4"/><circle cx="1803.4" cy="1234.7" r="6.4"/><circle cx="1775.3" cy="1236.8" r="6.4"/><circle cx="1847.6" cy="1228.0" r="6.4"/><circle cx="1851.5" cy="1230.4" r="6.4"/><circle cx="1763.8" cy="1244.0" r="6.4"/><circle cx="1777.4" cy="1243.2" r="6.4"/><circle cx="1767.0" cy="1251.2" r="6.4"/><circle cx="1844.4" cy="1240.8" r="6.4"/><circle cx="1848.4" cy="1246.9" r="6.4"/><circle cx="1698.1" cy="1255.2" r="6.4"/><circle cx="1647.7" cy="1259.2" r="6.4"/><circle cx="1671.3" cy="1260.0" r="6.4"/><circle cx="1668.1" cy="1263.9" r="6.4"/><circle cx="1780.6" cy="1266.3" r="6.4"/><circle cx="1803.4" cy="1265.9" r="6.4"/><circle cx="1685.6" cy="1271.6" r="6.4"/><circle cx="1653.4" cy="1273.5" r="6.4"/><circle cx="1701.6" cy="1274.3" r="6.4"/><circle cx="1651.3" cy="1279.9" r="6.4"/><circle cx="1697.6" cy="1279.1" r="6.4"/><circle cx="1700.0" cy="1281.5" r="6.4"/><circle cx="1808.5" cy="1280.7" r="6.4"/><circle cx="1804.5" cy="1283.1" r="6.4"/><circle cx="1641.0" cy="1287.9" r="6.4"/><circle cx="1655.3" cy="1289.5" r="6.4"/><circle cx="1667.3" cy="1291.9" r="6.4"/><circle cx="1671.3" cy="1293.5" r="6.4"/><circle cx="1776.6" cy="1288.7" r="6.4"/><circle cx="1760.6" cy="1292.7" r="6.4"/><circle cx="1832.4" cy="1289.9" r="6.4"/><circle cx="1843.6" cy="1286.8" r="6.4"/><circle cx="1847.6" cy="1294.3" r="6.4"/><circle cx="1687.7" cy="1295.4" r="6.4"/><circle cx="1688.0" cy="1299.8" r="6.4"/><circle cx="1735.9" cy="1297.1" r="6.4"/><circle cx="1790.1" cy="1295.4" r="6.4"/><circle cx="1778.2" cy="1294.3" r="6.4"/><circle cx="1751.0" cy="1299.8" r="6.4"/><circle cx="1757.4" cy="1301.4" r="6.4"/><circle cx="1648.6" cy="1299.8" r="6.4"/><circle cx="1653.7" cy="1301.1" r="6.4"/><circle cx="1805.3" cy="1301.4" r="6.4"/><circle cx="1814.9" cy="1300.6" r="6.4"/><circle cx="1650.5" cy="1307.5" r="6.4"/><circle cx="1669.7" cy="1309.1" r="6.4"/><circle cx="1693.6" cy="1306.2" r="6.4"/><circle cx="1696.8" cy="1310.2" r="6.4"/><circle cx="1740.2" cy="1305.9" r="6.4"/><circle cx="1779.8" cy="1304.6" r="6.4"/><circle cx="1789.3" cy="1309.4" r="6.4"/><circle cx="1800.5" cy="1307.8" r="6.4"/><circle cx="1836.4" cy="1304.6" r="6.4"/><circle cx="1846.0" cy="1301.4" r="6.4"/><circle cx="1841.2" cy="1309.4" r="6.4"/><circle cx="1769.4" cy="1312.6" r="6.4"/><circle cx="1778.2" cy="1311.0" r="6.4"/><circle cx="1751.8" cy="1313.4" r="6.4"/><circle cx="1806.9" cy="1314.2" r="6.4"/><circle cx="1800.5" cy="1313.4" r="6.4"/><circle cx="1706.4" cy="1320.3" r="6.4"/><circle cx="1688.8" cy="1317.4" r="6.4"/><circle cx="1681.6" cy="1322.2" r="6.4"/><circle cx="1667.3" cy="1323.0" r="6.4"/><circle cx="1652.1" cy="1327.0" r="6.4"/><circle cx="1727.1" cy="1318.2" r="6.4"/><circle cx="1738.3" cy="1320.6" r="6.4"/><circle cx="1717.5" cy="1323.0" r="6.4"/><circle cx="1727.1" cy="1323.8" r="6.4"/><circle cx="1752.6" cy="1319.0" r="6.4"/><circle cx="1759.0" cy="1323.8" r="6.4"/><circle cx="1775.0" cy="1326.6" r="6.4"/><circle cx="1792.5" cy="1327.0" r="6.4"/><circle cx="1806.9" cy="1322.2" r="6.4"/><circle cx="1835.3" cy="1321.4" r="6.4"/><circle cx="1847.6" cy="1326.2" r="6.4"/><circle cx="1834.0" cy="1328.6" r="6.4"/><circle cx="1643.3" cy="1333.3" r="6.4"/><circle cx="1642.5" cy="1337.3" r="6.4"/><circle cx="1672.9" cy="1337.0" r="6.4"/><circle cx="1694.4" cy="1335.3" r="6.4"/><circle cx="1736.7" cy="1334.9" r="6.4"/><circle cx="1735.1" cy="1338.9" r="6.4"/><circle cx="1755.8" cy="1334.9" r="6.4"/><circle cx="1768.6" cy="1334.9" r="6.4"/><circle cx="1823.6" cy="1335.7" r="6.4"/><circle cx="1805.3" cy="1333.3" r="6.4"/><circle cx="1811.7" cy="1336.5" r="6.4"/><circle cx="1840.4" cy="1333.3" r="6.4"/><circle cx="1657.7" cy="1345.3" r="6.4"/><circle cx="1641.8" cy="1345.3" r="6.4"/><circle cx="1715.9" cy="1346.1" r="6.4"/><circle cx="1704.8" cy="1350.1" r="6.4"/><circle cx="1744.7" cy="1346.1" r="6.4"/><circle cx="1757.4" cy="1344.5" r="6.4"/><circle cx="1768.6" cy="1346.1" r="6.4"/><circle cx="1786.1" cy="1341.3" r="6.4"/><circle cx="1797.3" cy="1342.9" r="6.4"/><circle cx="1808.5" cy="1341.3" r="6.4"/><circle cx="1832.4" cy="1344.5" r="6.4"/><circle cx="1837.2" cy="1341.3" r="6.4"/><circle cx="1850.7" cy="1341.3" r="6.4"/><circle cx="1648.9" cy="1351.7" r="6.4"/><circle cx="1720.7" cy="1350.1" r="6.4"/><circle cx="1699.2" cy="1354.1" r="6.4"/><circle cx="1760.6" cy="1354.1" r="6.4"/><circle cx="1778.2" cy="1352.5" r="6.4"/><circle cx="1787.7" cy="1350.9" r="6.4"/><circle cx="1798.9" cy="1347.7" r="6.4"/><circle cx="1845.2" cy="1354.9" r="6.4"/><circle cx="1640.2" cy="1359.7" r="6.4"/><circle cx="1649.7" cy="1360.5" r="6.4"/><circle cx="1667.3" cy="1356.5" r="6.4"/><circle cx="1679.2" cy="1358.9" r="6.4"/><circle cx="1687.2" cy="1357.3" r="6.4"/><circle cx="1708.0" cy="1360.5" r="6.4"/><circle cx="1728.7" cy="1358.9" r="6.4"/><circle cx="1743.1" cy="1358.9" r="6.4"/><circle cx="1805.3" cy="1355.7" r="6.4"/><circle cx="1822.0" cy="1360.5" r="6.4"/><circle cx="1794.1" cy="1362.1" r="6.4"/><circle cx="1664.9" cy="1367.6" r="6.4"/><circle cx="1682.4" cy="1366.8" r="6.4"/><circle cx="1690.4" cy="1363.7" r="6.4"/><circle cx="1703.2" cy="1363.7" r="6.4"/><circle cx="1718.3" cy="1366.0" r="6.4"/><circle cx="1731.9" cy="1366.8" r="6.4"/><circle cx="1746.3" cy="1366.8" r="6.4"/><circle cx="1759.0" cy="1363.7" r="6.4"/><circle cx="1768.6" cy="1363.7" r="6.4"/><circle cx="1800.5" cy="1366.8" r="6.4"/><circle cx="1808.5" cy="1369.2" r="6.4"/><circle cx="1842.8" cy="1368.4" r="6.4"/><circle cx="1709.6" cy="1374.0" r="6.4"/><circle cx="1685.6" cy="1373.2" r="6.4"/><circle cx="1775.0" cy="1373.2" r="6.4"/><circle cx="1765.4" cy="1371.6" r="6.4"/><circle cx="1822.8" cy="1373.2" r="6.4"/><circle cx="1830.8" cy="1374.8" r="6.4"/><circle cx="1806.9" cy="1376.4" r="6.4"/><circle cx="1794.1" cy="1377.2" r="6.4"/><circle cx="1650.5" cy="1382.5" r="6.4"/><circle cx="1672.1" cy="1380.4" r="6.4"/><circle cx="1680.8" cy="1379.6" r="6.4"/><circle cx="1698.4" cy="1381.2" r="6.4"/><circle cx="1727.1" cy="1379.6" r="6.4"/><circle cx="1722.3" cy="1382.0" r="6.4"/><circle cx="1736.7" cy="1381.2" r="6.4"/><circle cx="1747.8" cy="1381.2" r="6.4"/><circle cx="1765.4" cy="1381.2" r="6.4"/><circle cx="1784.5" cy="1385.2" r="6.4"/><circle cx="1800.5" cy="1384.4" r="6.4"/><circle cx="1814.1" cy="1383.6" r="6.4"/><circle cx="1835.6" cy="1383.6" r="6.4"/><circle cx="1665.7" cy="1390.8" r="6.4"/><circle cx="1679.2" cy="1386.0" r="6.4"/><circle cx="1701.6" cy="1392.4" r="6.4"/><circle cx="1736.7" cy="1389.2" r="6.4"/><circle cx="1746.3" cy="1390.8" r="6.4"/><circle cx="1771.8" cy="1390.8" r="6.4"/><circle cx="1792.5" cy="1392.4" r="6.4"/><circle cx="1842.0" cy="1390.0" r="6.4"/><circle cx="1646.5" cy="1396.4" r="6.4"/><circle cx="1676.1" cy="1397.2" r="6.4"/><circle cx="1695.2" cy="1398.8" r="6.4"/><circle cx="1709.6" cy="1400.3" r="6.4"/><circle cx="1720.7" cy="1394.8" r="6.4"/><circle cx="1733.5" cy="1398.8" r="6.4"/><circle cx="1749.4" cy="1398.8" r="6.4"/><circle cx="1762.2" cy="1397.2" r="6.4"/><circle cx="1782.9" cy="1398.8" r="6.4"/><circle cx="1800.5" cy="1397.2" r="6.4"/><circle cx="1825.2" cy="1398.0" r="6.4"/><circle cx="1838.8" cy="1397.2" r="6.4"/><circle cx="1641.0" cy="1401.9" r="6.4"/><circle cx="1653.7" cy="1401.9" r="6.4"/><circle cx="1663.3" cy="1401.9" r="6.4"/><circle cx="1685.6" cy="1401.9" r="6.4"/><circle cx="1787.7" cy="1401.9" r="6.4"/><circle cx="1645.7" cy="1403.9" r="6.4"/><circle cx="1661.7" cy="1403.9" r="6.4"/><circle cx="1688.8" cy="1405.5" r="6.4"/><circle cx="1701.5" cy="1403.9" r="6.4"/><circle cx="1714.3" cy="1407.1" r="6.4"/><circle cx="1727.0" cy="1403.9" r="6.4"/><circle cx="1747.8" cy="1410.3" r="6.4"/><circle cx="1762.1" cy="1403.9" r="6.4"/><circle cx="1778.1" cy="1405.5" r="6.4"/><circle cx="1790.8" cy="1403.9" r="6.4"/><circle cx="1816.3" cy="1407.1" r="6.4"/><circle cx="1838.6" cy="1405.5" r="6.4"/><circle cx="1845.8" cy="1402.3" r="6.4"/><circle cx="1674.4" cy="1402.3" r="6.4"/><circle cx="1650.5" cy="1415.9" r="6.4"/><circle cx="1647.3" cy="1422.3" r="6.4"/><circle cx="1664.9" cy="1415.1" r="6.4"/><circle cx="1680.8" cy="1419.9" r="6.4"/><circle cx="1693.6" cy="1415.1" r="6.4"/><circle cx="1707.9" cy="1416.7" r="6.4"/><circle cx="1720.7" cy="1416.7" r="6.4"/><circle cx="1728.6" cy="1421.5" r="6.4"/><circle cx="1766.9" cy="1416.7" r="6.4"/><circle cx="1786.0" cy="1415.1" r="6.4"/><circle cx="1797.2" cy="1418.3" r="6.4"/><circle cx="1809.9" cy="1419.9" r="6.4"/><circle cx="1827.5" cy="1416.7" r="6.4"/><circle cx="1837.1" cy="1419.9" r="6.4"/><circle cx="1846.6" cy="1426.2" r="6.4"/><circle cx="1663.3" cy="1423.0" r="6.4"/><circle cx="1744.6" cy="1425.4" r="6.4"/><circle cx="1642.5" cy="1433.4" r="6.4"/><circle cx="1656.9" cy="1432.6" r="6.4"/><circle cx="1669.6" cy="1431.0" r="6.4"/><circle cx="1677.6" cy="1427.8" r="6.4"/><circle cx="1695.2" cy="1432.6" r="6.4"/><circle cx="1712.7" cy="1427.8" r="6.4"/><circle cx="1723.9" cy="1429.4" r="6.4"/><circle cx="1762.1" cy="1427.8" r="6.4"/><circle cx="1768.5" cy="1431.0" r="6.4"/><circle cx="1784.4" cy="1429.4" r="6.4"/><circle cx="1795.6" cy="1432.6" r="6.4"/><circle cx="1813.1" cy="1429.4" r="6.4"/><circle cx="1824.3" cy="1429.4" r="6.4"/><circle cx="1837.1" cy="1431.0" r="6.4"/><circle cx="1847.4" cy="1434.2" r="6.4"/><circle cx="1730.2" cy="1434.2" r="6.4"/><circle cx="1640.1" cy="1440.6" r="6.4"/><circle cx="1655.3" cy="1442.2" r="6.4"/><circle cx="1666.5" cy="1440.6" r="6.4"/><circle cx="1680.8" cy="1442.2" r="6.4"/><circle cx="1688.8" cy="1437.4" r="6.4"/><circle cx="1706.3" cy="1439.8" r="6.4"/><circle cx="1743.0" cy="1443.0" r="6.4"/><circle cx="1728.6" cy="1443.8" r="6.4"/><circle cx="1763.7" cy="1437.4" r="6.4"/><circle cx="1771.7" cy="1444.6" r="6.4"/><circle cx="1782.8" cy="1442.2" r="6.4"/><circle cx="1795.6" cy="1443.8" r="6.4"/><circle cx="1811.5" cy="1440.6" r="6.4"/><circle cx="1821.1" cy="1442.2" r="6.4"/><circle cx="1830.7" cy="1443.8" r="6.4"/><circle cx="1840.2" cy="1446.2" r="6.4"/><circle cx="1719.1" cy="1448.6" r="6.4"/><circle cx="1693.6" cy="1450.2" r="6.4"/><circle cx="1676.0" cy="1451.7" r="6.4"/><circle cx="1658.5" cy="1454.9" r="6.4"/><circle cx="1692.0" cy="1458.1" r="6.4"/><circle cx="1727.0" cy="1451.7" r="6.4"/><circle cx="1736.6" cy="1453.3" r="6.4"/><circle cx="1754.1" cy="1453.3" r="6.4"/><circle cx="1747.8" cy="1458.1" r="6.4"/><circle cx="1794.0" cy="1450.2" r="6.4"/><circle cx="1800.4" cy="1454.9" r="6.4"/><circle cx="1814.7" cy="1451.7" r="6.4"/><circle cx="1824.3" cy="1454.9" r="6.4"/><circle cx="1839.4" cy="1455.7" r="6.4"/><circle cx="1789.2" cy="1460.5" r="6.4"/><circle cx="1806.8" cy="1462.9" r="6.4"/><circle cx="1656.1" cy="1461.3" r="6.4"/><circle cx="1668.0" cy="1462.9" r="6.4"/><circle cx="1705.5" cy="1461.3" r="6.4"/><circle cx="1714.3" cy="1464.5" r="6.4"/><circle cx="1723.9" cy="1462.9" r="6.4"/><circle cx="1736.6" cy="1461.3" r="6.4"/><circle cx="1683.7" cy="1466.9" r="6.4"/><circle cx="1749.4" cy="1469.3" r="6.4"/><circle cx="1827.5" cy="1462.9" r="6.4"/><circle cx="1833.9" cy="1469.3" r="6.4"/><circle cx="1720.7" cy="1469.3" r="6.4"/><circle cx="1645.2" cy="1471.7" r="6.4"/><circle cx="1679.2" cy="1475.7" r="6.4"/><circle cx="1733.4" cy="1474.1" r="6.4"/><circle cx="1727.0" cy="1474.1" r="6.4"/><circle cx="1782.0" cy="1475.7" r="6.4"/><circle cx="1789.2" cy="1482.0" r="6.4"/><circle cx="1818.7" cy="1475.7" r="6.4"/><circle cx="1825.9" cy="1478.9" r="6.4"/><circle cx="1662.5" cy="1485.2" r="6.4"/><circle cx="1711.9" cy="1481.2" r="6.4"/><circle cx="1707.1" cy="1485.2" r="6.4"/><circle cx="1781.2" cy="1486.0" r="6.4"/><circle cx="1659.3" cy="1486.8" r="6.4"/><circle cx="1678.4" cy="1487.6" r="6.4"/><circle cx="1695.2" cy="1487.3" r="6.4"/><circle cx="1715.9" cy="1488.4" r="6.4"/><circle cx="1727.0" cy="1486.8" r="6.4"/><circle cx="1733.4" cy="1486.8" r="6.4"/><circle cx="1830.7" cy="1490.0" r="6.4"/><circle cx="1752.6" cy="1494.8" r="6.4"/><circle cx="1660.9" cy="1498.8" r="6.4"/><circle cx="1810.7" cy="1493.2" r="6.4"/><circle cx="1816.3" cy="1498.0" r="6.4"/><circle cx="1821.9" cy="1501.2" r="6.4"/><circle cx="1727.0" cy="1495.6" r="6.4"/><circle cx="1733.4" cy="1495.6" r="6.4"/><circle cx="1714.3" cy="1494.8" r="6.4"/><circle cx="1639.3" cy="1506.0" r="6.4"/><circle cx="1685.6" cy="1502.4" r="6.4"/><circle cx="1691.2" cy="1501.2" r="6.4"/><circle cx="1839.9" cy="1502.4" r="6.4"/><circle cx="1705.5" cy="1502.0" r="6.4"/><circle cx="1655.3" cy="1506.0" r="6.4"/><circle cx="1704.7" cy="1506.0" r="6.4"/><circle cx="1731.8" cy="1507.1" r="6.4"/><circle cx="1747.0" cy="1507.6" r="6.4"/><circle cx="1715.9" cy="1509.1" r="6.4"/><circle cx="1816.3" cy="1509.1" r="6.4"/><circle cx="1827.5" cy="1509.9" r="6.4"/><circle cx="1822.7" cy="1513.9" r="6.4"/><circle cx="1746.2" cy="1512.3" r="6.4"/><circle cx="1666.1" cy="1513.6" r="6.4"/><circle cx="1723.9" cy="1518.7" r="6.4"/><circle cx="1753.8" cy="1521.1" r="6.4"/><circle cx="1674.4" cy="1522.4" r="6.4"/><circle cx="1683.2" cy="1524.0" r="6.4"/><circle cx="1719.9" cy="1523.5" r="6.4"/><circle cx="1809.9" cy="1520.0" r="6.4"/><circle cx="1838.6" cy="1525.1" r="6.4"/><circle cx="1639.7" cy="1529.6" r="6.4"/><circle cx="1659.3" cy="1531.5" r="6.4"/><circle cx="1739.5" cy="1531.8" r="6.4"/><circle cx="1796.4" cy="1527.5" r="6.4"/><circle cx="1789.2" cy="1529.1" r="6.4"/><circle cx="1674.4" cy="1535.5" r="6.4"/><circle cx="1680.8" cy="1535.5" r="6.4"/><circle cx="1819.8" cy="1535.5" r="6.4"/><circle cx="1833.5" cy="1538.3" r="6.4"/><circle cx="1791.6" cy="1538.6" r="6.4"/><circle cx="1647.6" cy="1543.4" r="6.4"/><circle cx="1664.1" cy="1547.4" r="6.4"/><circle cx="1662.5" cy="1552.2" r="6.4"/><circle cx="1818.7" cy="1545.8" r="6.4"/><circle cx="1839.1" cy="1551.4" r="6.4"/><circle cx="1640.1" cy="1554.6" r="6.4"/><circle cx="1781.2" cy="1558.3" r="6.4"/><circle cx="1659.3" cy="1560.2" r="6.4"/><circle cx="1663.3" cy="1565.7" r="6.4"/><circle cx="1640.9" cy="1565.4" r="6.4"/><circle cx="1818.4" cy="1564.2" r="6.4"/><circle cx="1795.9" cy="1566.5" r="6.4"/><circle cx="1659.3" cy="1569.7" r="6.4"/><circle cx="1797.2" cy="1572.9" r="6.4"/><circle cx="1673.8" cy="1584.6" r="6.4"/><circle cx="1739.0" cy="1584.6" r="6.4"/><circle cx="1845.0" cy="1580.4" r="6.4"/><circle cx="1660.1" cy="1607.2" r="6.4"/><circle cx="1657.7" cy="1611.2" r="6.4"/><circle cx="1800.4" cy="1616.0" r="6.4"/><circle cx="1675.2" cy="1637.2" r="6.4"/><circle cx="1821.1" cy="1658.2" r="6.4"/><circle cx="1662.3" cy="1294.7" r="6.4"/><circle cx="1710.4" cy="1487.3" r="6.4"/><circle cx="1719.9" cy="1426.7" r="6.4"/><circle cx="1699.5" cy="1399.9" r="6.4"/><circle cx="1680.7" cy="1364.0" r="6.4"/><circle cx="1762.6" cy="1352.7" r="6.4"/><circle cx="1683.1" cy="1372.9" r="6.4"/><circle cx="1785.1" cy="1385.2" r="6.4"/><circle cx="1724.0" cy="1467.6" r="6.4"/><circle cx="1722.4" cy="1487.7" r="6.4"/><circle cx="1724.6" cy="1408.3" r="6.4"/><circle cx="1760.3" cy="1344.6" r="6.4"/><circle cx="1724.2" cy="1451.6" r="6.4"/><circle cx="1687.4" cy="1360.5" r="6.4"/><circle cx="1732.5" cy="1456.6" r="6.4"/><circle cx="1668.6" cy="1400.0" r="6.4"/><circle cx="1793.5" cy="1398.9" r="6.4"/><circle cx="1691.8" cy="1400.5" r="6.4"/><circle cx="1658.5" cy="1439.3" r="6.4"/><circle cx="1827.4" cy="1496.2" r="6.4"/><circle cx="1788.8" cy="1446.5" r="6.4"/><circle cx="1760.2" cy="1323.5" r="6.4"/><circle cx="1791.4" cy="1351.6" r="6.4"/><circle cx="1741.7" cy="1388.6" r="6.4"/><circle cx="1776.1" cy="1395.9" r="6.4"/><circle cx="1664.9" cy="1426.3" r="6.4"/><circle cx="1651.7" cy="1355.2" r="6.4"/><circle cx="1684.3" cy="1399.7" r="6.4"/><circle cx="1763.0" cy="1347.9" r="6.4"/><circle cx="1703.4" cy="1405.9" r="6.4"/><circle cx="1801.4" cy="1308.5" r="6.4"/><circle cx="1712.8" cy="1483.8" r="6.4"/><circle cx="1784.8" cy="1403.0" r="6.4"/><circle cx="1780.5" cy="1300.4" r="6.4"/><circle cx="1794.9" cy="1388.4" r="6.4"/><circle cx="1817.0" cy="1442.2" r="6.4"/><circle cx="1729.7" cy="1491.9" r="6.4"/><circle cx="1726.3" cy="1392.7" r="6.4"/><circle cx="1826.2" cy="1421.8" r="6.4"/><circle cx="1697.3" cy="1357.2" r="6.4"/><circle cx="1823.5" cy="1506.3" r="6.4"/><circle cx="1654.6" cy="1403.2" r="6.4"/><circle cx="1783.1" cy="1306.9" r="6.4"/><circle cx="1760.6" cy="1358.4" r="6.4"/><circle cx="1687.2" cy="1373.3" r="6.4"/><circle cx="1834.9" cy="1399.2" r="6.4"/><circle cx="1644.6" cy="1348.0" r="6.4"/><circle cx="1711.2" cy="1490.1" r="6.4"/><circle cx="1744.6" cy="1320.4" r="6.4"/><circle cx="1843.4" cy="1335.6" r="6.4"/><circle cx="1742.7" cy="1459.4" r="6.4"/><circle cx="1840.9" cy="1326.4" r="6.4"/><circle cx="1816.2" cy="1428.4" r="6.4"/><circle cx="1730.2" cy="1369.4" r="6.4"/><circle cx="1842.7" cy="1338.3" r="6.4"/><circle cx="1663.0" cy="1411.4" r="6.4"/><circle cx="1710.2" cy="1404.5" r="6.4"/><circle cx="1753.9" cy="1304.8" r="6.4"/><circle cx="1663.4" cy="1432.8" r="6.4"/><circle cx="1796.6" cy="1399.3" r="6.4"/><circle cx="1799.4" cy="1448.9" r="6.4"/><circle cx="1711.4" cy="1410.5" r="6.4"/><circle cx="1712.4" cy="1419.5" r="6.4"/><circle cx="1729.4" cy="1439.2" r="6.4"/><circle cx="1652.4" cy="1401.2" r="6.4"/><circle cx="1804.4" cy="1387.0" r="6.4"/><circle cx="1690.8" cy="1310.6" r="6.4"/><circle cx="1845.5" cy="1329.9" r="6.4"/><circle cx="1828.5" cy="1375.6" r="6.4"/><circle cx="1826.2" cy="1460.5" r="6.4"/><circle cx="1651.8" cy="1428.5" r="6.4"/><circle cx="1839.1" cy="1316.1" r="6.4"/><circle cx="1801.8" cy="1377.3" r="6.4"/><circle cx="1680.4" cy="1404.2" r="6.4"/><circle cx="1676.2" cy="1388.7" r="6.4"/><circle cx="1743.3" cy="1379.1" r="6.4"/><circle cx="1704.6" cy="1354.1" r="6.4"/><circle cx="1664.2" cy="1400.0" r="6.4"/><circle cx="1816.9" cy="1501.8" r="6.4"/><circle cx="1757.1" cy="1340.5" r="6.4"/><circle cx="1672.9" cy="1397.6" r="6.4"/><circle cx="1691.3" cy="1411.2" r="6.4"/><circle cx="1771.4" cy="1377.7" r="6.4"/><circle cx="1698.5" cy="1410.8" r="6.4"/><circle cx="1695.9" cy="1402.4" r="6.4"/><circle cx="1651.6" cy="1397.7" r="6.4"/><circle cx="1789.3" cy="1348.7" r="6.4"/><circle cx="1716.1" cy="1417.1" r="6.4"/><circle cx="1764.6" cy="1376.3" r="6.4"/><circle cx="1837.8" cy="1426.1" r="6.4"/><circle cx="1668.1" cy="1388.3" r="6.4"/><circle cx="1823.3" cy="1510.9" r="6.4"/><circle cx="1832.6" cy="1459.8" r="6.4"/><circle cx="1803.1" cy="1458.6" r="6.4"/><circle cx="1700.3" cy="1363.1" r="6.4"/><circle cx="1731.9" cy="1483.9" r="6.4"/><circle cx="1799.5" cy="1359.8" r="6.4"/><circle cx="1810.2" cy="1336.7" r="6.4"/><circle cx="1732.3" cy="1452.4" r="6.4"/><circle cx="1690.5" cy="1406.8" r="6.4"/><circle cx="1835.4" cy="1392.2" r="6.4"/><circle cx="1803.9" cy="1336.7" r="6.4"/><circle cx="1768.8" cy="1367.6" r="6.4"/><circle cx="1825.1" cy="1442.7" r="6.4"/><circle cx="1788.3" cy="1394.1" r="6.4"/><circle cx="1730.9" cy="1474.1" r="6.4"/><circle cx="1663.1" cy="1417.9" r="6.4"/><circle cx="1732.4" cy="1364.9" r="6.4"/><circle cx="1714.7" cy="1492.3" r="6.4"/><circle cx="1731.7" cy="1477.3" r="6.4"/><circle cx="1799.3" cy="1331.8" r="6.4"/><circle cx="1837.0" cy="1337.9" r="6.4"/><circle cx="1785.4" cy="1300.2" r="6.4"/><circle cx="1707.5" cy="1373.7" r="6.4"/><circle cx="1838.6" cy="1334.2" r="6.4"/><circle cx="1643.4" cy="1294.4" r="6.4"/><circle cx="1727.1" cy="1454.6" r="6.4"/><circle cx="1825.1" cy="1449.4" r="6.4"/><circle cx="1706.5" cy="1413.3" r="6.4"/><circle cx="1658.9" cy="1417.1" r="6.4"/><circle cx="1823.1" cy="1432.8" r="6.4"/><circle cx="1786.2" cy="1444.4" r="6.4"/><circle cx="1799.5" cy="1369.1" r="6.4"/><circle cx="1655.5" cy="1295.6" r="6.4"/><circle cx="1751.2" cy="1309.7" r="6.4"/><circle cx="1661.5" cy="1428.6" r="6.4"/><circle cx="1653.7" cy="1349.9" r="6.4"/><circle cx="1688.3" cy="1418.7" r="6.4"/><circle cx="1654.1" cy="1446.2" r="6.4"/><circle cx="1719.2" cy="1364.1" r="6.4"/><circle cx="1653.6" cy="1286.4" r="6.4"/><circle cx="1709.4" cy="1501.5" r="6.4"/><circle cx="1683.3" cy="1359.5" r="6.4"/><circle cx="1832.4" cy="1334.5" r="6.4"/><circle cx="1714.1" cy="1400.1" r="6.4"/><circle cx="1791.1" cy="1414.6" r="6.4"/><circle cx="1783.6" cy="1434.7" r="6.4"/><circle cx="1767.2" cy="1392.9" r="6.4"/><circle cx="1666.1" cy="1395.4" r="6.4"/><circle cx="1733.1" cy="1471.5" r="6.4"/><circle cx="1694.3" cy="1313.7" r="6.4"/><circle cx="1746.0" cy="1388.0" r="6.4"/><circle cx="1691.7" cy="1441.4" r="6.4"/><circle cx="1740.3" cy="1457.2" r="6.4"/><circle cx="1836.7" cy="1433.0" r="6.4"/><circle cx="1812.6" cy="1511.8" r="6.4"/><circle cx="1723.5" cy="1493.8" r="6.4"/><circle cx="1738.9" cy="1328.4" r="6.4"/><circle cx="1798.7" cy="1380.7" r="6.4"/><circle cx="1737.8" cy="1446.4" r="6.4"/><circle cx="1725.0" cy="1401.2" r="6.4"/><circle cx="1798.2" cy="1396.6" r="6.4"/><circle cx="1744.0" cy="1344.0" r="6.4"/><circle cx="1773.6" cy="1349.8" r="6.4"/><circle cx="1705.7" cy="1359.8" r="6.4"/><circle cx="1651.6" cy="1293.4" r="6.4"/><circle cx="1723.4" cy="1413.3" r="6.4"/><circle cx="1650.7" cy="1289.6" r="6.4"/><circle cx="1782.4" cy="1401.0" r="6.4"/><circle cx="1820.1" cy="1451.2" r="6.4"/><circle cx="1785.6" cy="1408.6" r="6.4"/><circle cx="1733.3" cy="1498.8" r="6.4"/><circle cx="1693.1" cy="1453.7" r="6.4"/><circle cx="1802.7" cy="1352.4" r="6.4"/><circle cx="1673.0" cy="1528.9" r="6.4"/><circle cx="1832.7" cy="1428.7" r="6.4"/><circle cx="1688.6" cy="1365.5" r="6.4"/><circle cx="1653.5" cy="1408.5" r="6.4"/><circle cx="1807.0" cy="1317.0" r="6.4"/><circle cx="1743.8" cy="1361.0" r="6.4"/><circle cx="1784.2" cy="1344.6" r="6.4"/><circle cx="1832.7" cy="1410.8" r="6.4"/><circle cx="1786.2" cy="1311.3" r="6.4"/><circle cx="1722.2" cy="1496.5" r="6.4"/><circle cx="1828.3" cy="1464.0" r="6.4"/><circle cx="1729.8" cy="1481.6" r="6.4"/><circle cx="1738.6" cy="1449.0" r="6.4"/><circle cx="1682.2" cy="1378.0" r="6.4"/><circle cx="1829.1" cy="1452.9" r="6.4"/><circle cx="1801.7" cy="1383.7" r="6.4"/><circle cx="1846.9" cy="1294.9" r="6.4"/><circle cx="1707.2" cy="1366.8" r="6.4"/><circle cx="1727.8" cy="1443.4" r="6.4"/><circle cx="1794.9" cy="1340.5" r="6.4"/><circle cx="1843.5" cy="1302.5" r="6.4"/><circle cx="1674.1" cy="1382.4" r="6.4"/><circle cx="1643.0" cy="1340.8" r="6.4"/><circle cx="1698.6" cy="1394.9" r="6.4"/><circle cx="1764.9" cy="1360.8" r="6.4"/><circle cx="1672.0" cy="1441.8" r="6.4"/><circle cx="1723.1" cy="1418.9" r="6.4"/><circle cx="1794.4" cy="1314.6" r="6.4"/><circle cx="1732.8" cy="1447.9" r="6.4"/><circle cx="1802.4" cy="1332.9" r="6.4"/><circle cx="1706.0" cy="1396.0" r="6.4"/><circle cx="1714.1" cy="1410.6" r="6.4"/><circle cx="1734.3" cy="1322.8" r="6.4"/><circle cx="1761.9" cy="1370.2" r="6.4"/><circle cx="1800.1" cy="1392.7" r="6.4"/><circle cx="1650.2" cy="1403.2" r="6.4"/><circle cx="1809.2" cy="1307.1" r="6.4"/></g>
<path class="tk" d="M231.45 1033.0v-18.2M231.45 1671.0v18.2M240.31 1033.0v-9.0M240.31 1671.0v9.0M249.16 1033.0v-9.0M249.16 1671.0v9.0M258.02 1033.0v-18.2M258.02 1671.0v18.2M266.87 1033.0v-9.0M266.87 1671.0v9.0M275.73 1033.0v-9.0M275.73 1671.0v9.0M284.58 1033.0v-18.2M284.58 1671.0v18.2M293.44 1033.0v-9.0M293.44 1671.0v9.0M302.30 1033.0v-9.0M302.30 1671.0v9.0M311.15 1033.0v-18.2M311.15 1671.0v18.2M320.01 1033.0v-9.0M320.01 1671.0v9.0M328.86 1033.0v-9.0M328.86 1671.0v9.0M337.72 1033.0v-18.2M337.72 1671.0v18.2M346.57 1033.0v-9.0M346.57 1671.0v9.0M355.43 1033.0v-9.0M355.43 1671.0v9.0M364.28 1033.0v-18.2M364.28 1671.0v18.2M373.14 1033.0v-9.0M373.14 1671.0v9.0M382.00 1033.0v-9.0M382.00 1671.0v9.0M390.85 1033.0v-18.2M390.85 1671.0v18.2M399.71 1033.0v-9.0M399.71 1671.0v9.0M408.56 1033.0v-9.0M408.56 1671.0v9.0M417.42 1033.0v-18.2M417.42 1671.0v18.2M426.27 1033.0v-9.0M426.27 1671.0v9.0M435.13 1033.0v-9.0M435.13 1671.0v9.0M443.99 1033.0v-18.2M443.99 1671.0v18.2M452.84 1033.0v-9.0M452.84 1671.0v9.0M461.70 1033.0v-9.0M461.70 1671.0v9.0M470.55 1033.0v-18.2M470.55 1671.0v18.2M479.41 1033.0v-9.0M479.41 1671.0v9.0M488.26 1033.0v-9.0M488.26 1671.0v9.0M497.12 1033.0v-18.2M497.12 1671.0v18.2M505.97 1033.0v-9.0M505.97 1671.0v9.0M514.83 1033.0v-9.0M514.83 1671.0v9.0M523.69 1033.0v-18.2M523.69 1671.0v18.2M532.54 1033.0v-9.0M532.54 1671.0v9.0M541.40 1033.0v-9.0M541.40 1671.0v9.0M550.25 1033.0v-18.2M550.25 1671.0v18.2M559.11 1033.0v-9.0M559.11 1671.0v9.0M567.96 1033.0v-9.0M567.96 1671.0v9.0M576.82 1033.0v-18.2M576.82 1671.0v18.2M585.68 1033.0v-9.0M585.68 1671.0v9.0M594.53 1033.0v-9.0M594.53 1671.0v9.0M603.39 1033.0v-18.2M603.39 1671.0v18.2M612.24 1033.0v-9.0M612.24 1671.0v9.0M621.10 1033.0v-9.0M621.10 1671.0v9.0M629.95 1033.0v-18.2M629.95 1671.0v18.2M638.81 1033.0v-9.0M638.81 1671.0v9.0M647.67 1033.0v-9.0M647.67 1671.0v9.0M656.52 1033.0v-18.2M656.52 1671.0v18.2M665.38 1033.0v-9.0M665.38 1671.0v9.0M674.23 1033.0v-9.0M674.23 1671.0v9.0M683.09 1033.0v-18.2M683.09 1671.0v18.2M691.94 1033.0v-9.0M691.94 1671.0v9.0M700.80 1033.0v-9.0M700.80 1671.0v9.0M709.65 1033.0v-18.2M709.65 1671.0v18.2M718.51 1033.0v-9.0M718.51 1671.0v9.0M727.37 1033.0v-9.0M727.37 1671.0v9.0M736.22 1033.0v-18.2M736.22 1671.0v18.2M745.08 1033.0v-9.0M745.08 1671.0v9.0M753.93 1033.0v-9.0M753.93 1671.0v9.0M762.79 1033.0v-18.2M762.79 1671.0v18.2M771.64 1033.0v-9.0M771.64 1671.0v9.0M780.50 1033.0v-9.0M780.50 1671.0v9.0M789.36 1033.0v-18.2M789.36 1671.0v18.2M798.21 1033.0v-9.0M798.21 1671.0v9.0M807.07 1033.0v-9.0M807.07 1671.0v9.0M815.92 1033.0v-18.2M815.92 1671.0v18.2M824.78 1033.0v-9.0M824.78 1671.0v9.0M833.63 1033.0v-9.0M833.63 1671.0v9.0M842.49 1033.0v-18.2M842.49 1671.0v18.2M851.35 1033.0v-9.0M851.35 1671.0v9.0M860.20 1033.0v-9.0M860.20 1671.0v9.0M869.06 1033.0v-18.2M869.06 1671.0v18.2M877.91 1033.0v-9.0M877.91 1671.0v9.0M886.77 1033.0v-9.0M886.77 1671.0v9.0M895.62 1033.0v-18.2M895.62 1671.0v18.2M904.48 1033.0v-9.0M904.48 1671.0v9.0M913.33 1033.0v-9.0M913.33 1671.0v9.0M922.19 1033.0v-18.2M922.19 1671.0v18.2M931.05 1033.0v-9.0M931.05 1671.0v9.0M939.90 1033.0v-9.0M939.90 1671.0v9.0M948.76 1033.0v-18.2M948.76 1671.0v18.2M957.61 1033.0v-9.0M957.61 1671.0v9.0M966.47 1033.0v-9.0M966.47 1671.0v9.0M975.32 1033.0v-18.2M975.32 1671.0v18.2M984.18 1033.0v-9.0M984.18 1671.0v9.0M993.04 1033.0v-9.0M993.04 1671.0v9.0M1001.89 1033.0v-18.2M1001.89 1671.0v18.2M1010.75 1033.0v-9.0M1010.75 1671.0v9.0M1019.60 1033.0v-9.0M1019.60 1671.0v9.0M1028.46 1033.0v-18.2M1028.46 1671.0v18.2M1037.31 1033.0v-9.0M1037.31 1671.0v9.0M1046.17 1033.0v-9.0M1046.17 1671.0v9.0M1055.02 1033.0v-18.2M1055.02 1671.0v18.2M1063.88 1033.0v-9.0M1063.88 1671.0v9.0M1072.74 1033.0v-9.0M1072.74 1671.0v9.0M1081.59 1033.0v-18.2M1081.59 1671.0v18.2M1090.45 1033.0v-9.0M1090.45 1671.0v9.0M1099.30 1033.0v-9.0M1099.30 1671.0v9.0M1108.16 1033.0v-18.2M1108.16 1671.0v18.2M1117.01 1033.0v-9.0M1117.01 1671.0v9.0M1125.87 1033.0v-9.0M1125.87 1671.0v9.0M1134.73 1033.0v-18.2M1134.73 1671.0v18.2M1143.58 1033.0v-9.0M1143.58 1671.0v9.0M1152.44 1033.0v-9.0M1152.44 1671.0v9.0M1161.29 1033.0v-18.2M1161.29 1671.0v18.2M1170.15 1033.0v-9.0M1170.15 1671.0v9.0M1179.00 1033.0v-9.0M1179.00 1671.0v9.0M1187.86 1033.0v-18.2M1187.86 1671.0v18.2M1196.72 1033.0v-9.0M1196.72 1671.0v9.0M1205.57 1033.0v-9.0M1205.57 1671.0v9.0M1214.43 1033.0v-18.2M1214.43 1671.0v18.2M1223.28 1033.0v-9.0M1223.28 1671.0v9.0M1232.14 1033.0v-9.0M1232.14 1671.0v9.0M1240.99 1033.0v-18.2M1240.99 1671.0v18.2M1249.85 1033.0v-9.0M1249.85 1671.0v9.0M1258.70 1033.0v-9.0M1258.70 1671.0v9.0M1267.56 1033.0v-18.2M1267.56 1671.0v18.2M1276.42 1033.0v-9.0M1276.42 1671.0v9.0M1285.27 1033.0v-9.0M1285.27 1671.0v9.0M1294.13 1033.0v-18.2M1294.13 1671.0v18.2M1302.98 1033.0v-9.0M1302.98 1671.0v9.0M1311.84 1033.0v-9.0M1311.84 1671.0v9.0M1320.69 1033.0v-18.2M1320.69 1671.0v18.2M1329.55 1033.0v-9.0M1329.55 1671.0v9.0M1338.41 1033.0v-9.0M1338.41 1671.0v9.0M1347.26 1033.0v-18.2M1347.26 1671.0v18.2M1356.12 1033.0v-9.0M1356.12 1671.0v9.0M1364.97 1033.0v-9.0M1364.97 1671.0v9.0M1373.83 1033.0v-18.2M1373.83 1671.0v18.2M1382.68 1033.0v-9.0M1382.68 1671.0v9.0M1391.54 1033.0v-9.0M1391.54 1671.0v9.0M1400.40 1033.0v-18.2M1400.40 1671.0v18.2M1409.25 1033.0v-9.0M1409.25 1671.0v9.0M1418.11 1033.0v-9.0M1418.11 1671.0v9.0M1426.96 1033.0v-18.2M1426.96 1671.0v18.2M1435.82 1033.0v-9.0M1435.82 1671.0v9.0M1444.67 1033.0v-9.0M1444.67 1671.0v9.0M1453.53 1033.0v-18.2M1453.53 1671.0v18.2M1462.38 1033.0v-9.0M1462.38 1671.0v9.0M1471.24 1033.0v-9.0M1471.24 1671.0v9.0M1480.10 1033.0v-18.2M1480.10 1671.0v18.2M1488.95 1033.0v-9.0M1488.95 1671.0v9.0M1497.81 1033.0v-9.0M1497.81 1671.0v9.0M1506.66 1033.0v-18.2M1506.66 1671.0v18.2M1515.52 1033.0v-9.0M1515.52 1671.0v9.0M1524.37 1033.0v-9.0M1524.37 1671.0v9.0M1533.23 1033.0v-18.2M1533.23 1671.0v18.2M1542.09 1033.0v-9.0M1542.09 1671.0v9.0M1550.94 1033.0v-9.0M1550.94 1671.0v9.0M1559.80 1033.0v-18.2M1559.80 1671.0v18.2M1568.65 1033.0v-9.0M1568.65 1671.0v9.0M1577.51 1033.0v-9.0M1577.51 1671.0v9.0M1586.36 1033.0v-18.2M1586.36 1671.0v18.2M1595.22 1033.0v-9.0M1595.22 1671.0v9.0M1604.08 1033.0v-9.0M1604.08 1671.0v9.0M1612.93 1033.0v-18.2M1612.93 1671.0v18.2M1621.79 1033.0v-9.0M1621.79 1671.0v9.0M1630.64 1033.0v-9.0M1630.64 1671.0v9.0M1639.50 1033.0v-18.2M1639.50 1671.0v18.2M1648.35 1033.0v-9.0M1648.35 1671.0v9.0M1657.21 1033.0v-9.0M1657.21 1671.0v9.0M1666.06 1033.0v-18.2M1666.06 1671.0v18.2M1674.92 1033.0v-9.0M1674.92 1671.0v9.0M1683.78 1033.0v-9.0M1683.78 1671.0v9.0M1692.63 1033.0v-18.2M1692.63 1671.0v18.2M1701.49 1033.0v-9.0M1701.49 1671.0v9.0M1710.34 1033.0v-9.0M1710.34 1671.0v9.0M1719.20 1033.0v-18.2M1719.20 1671.0v18.2M1728.05 1033.0v-9.0M1728.05 1671.0v9.0M1736.91 1033.0v-9.0M1736.91 1671.0v9.0M1745.77 1033.0v-18.2M1745.77 1671.0v18.2M1754.62 1033.0v-9.0M1754.62 1671.0v9.0M1763.48 1033.0v-9.0M1763.48 1671.0v9.0M1772.33 1033.0v-18.2M1772.33 1671.0v18.2M1781.19 1033.0v-9.0M1781.19 1671.0v9.0M1790.04 1033.0v-9.0M1790.04 1671.0v9.0M1798.90 1033.0v-18.2M1798.90 1671.0v18.2M1807.75 1033.0v-9.0M1807.75 1671.0v9.0M1816.61 1033.0v-9.0M1816.61 1671.0v9.0M1825.47 1033.0v-18.2M1825.47 1671.0v18.2M1834.32 1033.0v-9.0M1834.32 1671.0v9.0M1843.18 1033.0v-9.0M1843.18 1671.0v9.0M1852.03 1033.0v-18.2M1852.03 1671.0v18.2M1860.89 1033.0v-9.0M1860.89 1671.0v9.0M1869.74 1033.0v-9.0M1869.74 1671.0v9.0M1878.60 1033.0v-18.2M1878.60 1671.0v18.2M226.0 1140.50h-18.2M1883.5 1140.50h18.2M226.0 1268.70h-18.2M1883.5 1268.70h18.2M226.0 1396.90h-18.2M1883.5 1396.90h18.2M226.0 1525.10h-18.2M1883.5 1525.10h18.2M226.0 1653.30h-18.2M1883.5 1653.30h18.2"/>
<rect class="fr" x="226.0" y="1033.0" width="1657.5" height="638.0"/>
<text class="b" transform="translate(190.7 1155.80) scale(1 1.015)" font-size="42.4" text-anchor="end">20</text><text class="b" transform="translate(190.7 1284.00) scale(1 1.015)" font-size="42.4" text-anchor="end">10</text><text class="b" transform="translate(190.7 1412.20) scale(1 1.015)" font-size="42.4" text-anchor="end">0</text><text class="b" transform="translate(190.7 1540.40) scale(1 1.015)" font-size="42.4" text-anchor="end"><tspan dy="4.53">−</tspan><tspan dy="-4.53">10</tspan></text><text class="b" transform="translate(190.7 1668.60) scale(1 1.015)" font-size="42.4" text-anchor="end"><tspan dy="4.53">−</tspan><tspan dy="-4.53">20</tspan></text>
<g class="b" font-size="42.4" text-anchor="middle"><text transform="translate(231.45 1737.30) scale(1 1.015)"><tspan dy="4.53">−</tspan><tspan dy="-4.53">6</tspan></text><text transform="translate(258.02 1737.30) scale(1 1.015)">0</text><text transform="translate(284.58 1737.30) scale(1 1.015)">6</text><text transform="translate(311.15 1737.30) scale(1 1.015)">12</text><text transform="translate(337.72 1737.30) scale(1 1.015)">18</text><text transform="translate(364.28 1737.30) scale(1 1.015)">24</text><text transform="translate(390.85 1737.30) scale(1 1.015)">30</text><text transform="translate(417.42 1737.30) scale(1 1.015)">36</text><text transform="translate(443.99 1737.30) scale(1 1.015)">42</text><text transform="translate(470.55 1737.30) scale(1 1.015)">48</text><text transform="translate(497.12 1737.30) scale(1 1.015)">54</text><text transform="translate(523.69 1737.30) scale(1 1.015)">60</text><text transform="translate(550.25 1737.30) scale(1 1.015)">66</text><text transform="translate(576.82 1737.30) scale(1 1.015)">72</text><text transform="translate(603.39 1737.30) scale(1 1.015)">78</text><text transform="translate(629.95 1737.30) scale(1 1.015)">84</text><text transform="translate(656.52 1737.30) scale(1 1.015)">90</text><text transform="translate(683.09 1737.30) scale(1 1.015)">96</text><text transform="translate(709.65 1737.30) scale(1 1.015)">102</text><text transform="translate(736.22 1737.30) scale(1 1.015)">108</text><text transform="translate(762.79 1737.30) scale(1 1.015)">114</text><text transform="translate(789.36 1737.30) scale(1 1.015)">120</text><text transform="translate(815.92 1737.30) scale(1 1.015)">126</text><text transform="translate(842.49 1737.30) scale(1 1.015)">132</text><text transform="translate(869.06 1737.30) scale(1 1.015)">138</text><text transform="translate(895.62 1737.30) scale(1 1.015)">144</text><text transform="translate(922.19 1737.30) scale(1 1.015)">150</text><text transform="translate(948.76 1737.30) scale(1 1.015)">156</text><text transform="translate(975.32 1737.30) scale(1 1.015)">162</text><text transform="translate(1001.89 1737.30) scale(1 1.015)">168</text><text transform="translate(1028.46 1737.30) scale(1 1.015)">174</text><text transform="translate(1055.02 1737.30) scale(1 1.015)">180</text><text transform="translate(1081.59 1737.30) scale(1 1.015)">186</text><text transform="translate(1108.16 1737.30) scale(1 1.015)">192</text><text transform="translate(1134.73 1737.30) scale(1 1.015)">198</text><text transform="translate(1161.29 1737.30) scale(1 1.015)">204</text><text transform="translate(1187.86 1737.30) scale(1 1.015)">210</text><text transform="translate(1214.43 1737.30) scale(1 1.015)">216</text><text transform="translate(1240.99 1737.30) scale(1 1.015)">222</text><text transform="translate(1267.56 1737.30) scale(1 1.015)">228</text><text transform="translate(1294.13 1737.30) scale(1 1.015)">234</text><text transform="translate(1320.69 1737.30) scale(1 1.015)">240</text><text transform="translate(1347.26 1737.30) scale(1 1.015)">246</text><text transform="translate(1373.83 1737.30) scale(1 1.015)">252</text><text transform="translate(1400.40 1737.30) scale(1 1.015)">258</text><text transform="translate(1426.96 1737.30) scale(1 1.015)">264</text><text transform="translate(1453.53 1737.30) scale(1 1.015)">270</text><text transform="translate(1480.10 1737.30) scale(1 1.015)">276</text><text transform="translate(1506.66 1737.30) scale(1 1.015)">282</text><text transform="translate(1533.23 1737.30) scale(1 1.015)">288</text><text transform="translate(1559.80 1737.30) scale(1 1.015)">294</text><text transform="translate(1586.36 1737.30) scale(1 1.015)">300</text><text transform="translate(1612.93 1737.30) scale(1 1.015)">306</text><text transform="translate(1639.50 1737.30) scale(1 1.015)">312</text><text transform="translate(1666.06 1737.30) scale(1 1.015)">318</text><text transform="translate(1692.63 1737.30) scale(1 1.015)">324</text><text transform="translate(1719.20 1737.30) scale(1 1.015)">330</text><text transform="translate(1745.77 1737.30) scale(1 1.015)">336</text><text transform="translate(1772.33 1737.30) scale(1 1.015)">342</text><text transform="translate(1798.90 1737.30) scale(1 1.015)">348</text><text transform="translate(1825.47 1737.30) scale(1 1.015)">354</text><text transform="translate(1852.03 1737.30) scale(1 1.015)">360</text><text transform="translate(1878.60 1737.30) scale(1 1.015)">366</text></g>
<text x="0" y="0" font-size="42.5" text-anchor="middle" transform="translate(89.9 1352.00) rotate(-90)">North (mm)</text>
</g>
<g id="panel3">
<g class="d"><circle cx="319.3" cy="2017.0" r="6.4"/><circle cx="285.5" cy="2021.0" r="6.4"/><circle cx="352.5" cy="2029.7" r="6.4"/><circle cx="358.0" cy="2034.5" r="6.4"/><circle cx="335.4" cy="2035.8" r="6.4"/><circle cx="287.4" cy="2040.9" r="6.4"/><circle cx="319.0" cy="2055.2" r="6.4"/><circle cx="334.6" cy="2056.8" r="6.4"/><circle cx="331.4" cy="2065.6" r="6.4"/><circle cx="321.3" cy="2076.8" r="6.4"/><circle cx="334.9" cy="2077.6" r="6.4"/><circle cx="356.4" cy="2077.3" r="6.4"/><circle cx="318.2" cy="2080.8" r="6.4"/><circle cx="354.0" cy="2084.8" r="6.4"/><circle cx="335.7" cy="2081.6" r="6.4"/><circle cx="286.4" cy="2087.5" r="6.4"/><circle cx="315.0" cy="2089.5" r="6.4"/><circle cx="330.1" cy="2089.5" r="6.4"/><circle cx="319.0" cy="2093.5" r="6.4"/><circle cx="334.9" cy="2103.1" r="6.4"/><circle cx="355.6" cy="2105.5" r="6.4"/><circle cx="302.2" cy="2113.5" r="6.4"/><circle cx="356.4" cy="2114.3" r="6.4"/><circle cx="315.4" cy="2120.2" r="6.4"/><circle cx="326.1" cy="2119.9" r="6.4"/><circle cx="333.3" cy="2123.0" r="6.4"/><circle cx="328.5" cy="2127.8" r="6.4"/><circle cx="275.9" cy="2123.8" r="6.4"/><circle cx="285.1" cy="2123.0" r="6.4"/><circle cx="286.2" cy="2128.6" r="6.4"/><circle cx="313.8" cy="2132.6" r="6.4"/><circle cx="354.5" cy="2133.4" r="6.4"/><circle cx="275.1" cy="2138.7" r="6.4"/><circle cx="324.5" cy="2145.7" r="6.4"/><circle cx="263.4" cy="2147.8" r="6.4"/><circle cx="357.2" cy="2145.4" r="6.4"/><circle cx="358.0" cy="2151.0" r="6.4"/><circle cx="280.7" cy="2150.2" r="6.4"/><circle cx="287.0" cy="2150.2" r="6.4"/><circle cx="284.7" cy="2147.0" r="6.4"/><circle cx="300.3" cy="2151.0" r="6.4"/><circle cx="299.8" cy="2158.1" r="6.4"/><circle cx="314.2" cy="2159.7" r="6.4"/><circle cx="333.3" cy="2158.5" r="6.4"/><circle cx="357.2" cy="2160.5" r="6.4"/><circle cx="352.5" cy="2164.5" r="6.4"/><circle cx="319.0" cy="2169.3" r="6.4"/><circle cx="328.5" cy="2170.9" r="6.4"/><circle cx="312.6" cy="2173.3" r="6.4"/><circle cx="300.1" cy="2172.8" r="6.4"/><circle cx="270.8" cy="2177.3" r="6.4"/><circle cx="282.3" cy="2175.7" r="6.4"/><circle cx="279.1" cy="2180.5" r="6.4"/><circle cx="359.6" cy="2171.7" r="6.4"/><circle cx="345.3" cy="2175.7" r="6.4"/><circle cx="350.9" cy="2175.7" r="6.4"/><circle cx="334.1" cy="2182.9" r="6.4"/><circle cx="320.5" cy="2180.5" r="6.4"/><circle cx="312.6" cy="2186.9" r="6.4"/><circle cx="319.0" cy="2188.4" r="6.4"/><circle cx="346.1" cy="2188.4" r="6.4"/><circle cx="350.9" cy="2190.8" r="6.4"/><circle cx="272.7" cy="2192.4" r="6.4"/><circle cx="282.3" cy="2191.6" r="6.4"/><circle cx="331.7" cy="2194.8" r="6.4"/><circle cx="313.4" cy="2198.0" r="6.4"/><circle cx="298.2" cy="2199.3" r="6.4"/><circle cx="269.5" cy="2200.4" r="6.4"/><circle cx="280.7" cy="2206.0" r="6.4"/><circle cx="267.1" cy="2207.6" r="6.4"/><circle cx="275.9" cy="2210.8" r="6.4"/><circle cx="330.1" cy="2202.0" r="6.4"/><circle cx="322.1" cy="2206.0" r="6.4"/><circle cx="349.3" cy="2205.2" r="6.4"/><circle cx="359.6" cy="2205.2" r="6.4"/><circle cx="307.8" cy="2209.2" r="6.4"/><circle cx="301.4" cy="2212.4" r="6.4"/><circle cx="328.5" cy="2215.6" r="6.4"/><circle cx="319.0" cy="2215.6" r="6.4"/><circle cx="263.9" cy="2215.6" r="6.4"/><circle cx="276.7" cy="2215.6" r="6.4"/><circle cx="344.5" cy="2215.6" r="6.4"/><circle cx="354.8" cy="2215.6" r="6.4"/><circle cx="293.4" cy="2219.6" r="6.4"/><circle cx="306.2" cy="2223.5" r="6.4"/><circle cx="324.5" cy="2221.9" r="6.4"/><circle cx="271.9" cy="2228.3" r="6.4"/><circle cx="282.3" cy="2228.3" r="6.4"/><circle cx="268.7" cy="2235.5" r="6.4"/><circle cx="296.6" cy="2229.9" r="6.4"/><circle cx="314.2" cy="2231.5" r="6.4"/><circle cx="339.7" cy="2228.3" r="6.4"/><circle cx="359.6" cy="2229.1" r="6.4"/><circle cx="347.7" cy="2226.7" r="6.4"/><circle cx="324.5" cy="2237.9" r="6.4"/><circle cx="284.7" cy="2241.1" r="6.4"/><circle cx="298.2" cy="2241.1" r="6.4"/><circle cx="304.6" cy="2245.9" r="6.4"/><circle cx="344.5" cy="2237.9" r="6.4"/><circle cx="352.5" cy="2242.7" r="6.4"/><circle cx="338.1" cy="2244.3" r="6.4"/><circle cx="262.8" cy="2249.1" r="6.4"/><circle cx="266.3" cy="2253.9" r="6.4"/><circle cx="278.3" cy="2253.9" r="6.4"/><circle cx="291.0" cy="2253.9" r="6.4"/><circle cx="315.8" cy="2251.5" r="6.4"/><circle cx="325.3" cy="2249.9" r="6.4"/><circle cx="303.0" cy="2253.1" r="6.4"/><circle cx="263.9" cy="2260.2" r="6.4"/><circle cx="291.0" cy="2258.6" r="6.4"/><circle cx="338.1" cy="2255.4" r="6.4"/><circle cx="361.2" cy="2258.6" r="6.4"/><circle cx="353.2" cy="2262.6" r="6.4"/><circle cx="267.9" cy="2268.2" r="6.4"/><circle cx="280.7" cy="2269.8" r="6.4"/><circle cx="303.0" cy="2269.8" r="6.4"/><circle cx="311.0" cy="2263.4" r="6.4"/><circle cx="326.9" cy="2267.4" r="6.4"/><circle cx="319.0" cy="2271.4" r="6.4"/><circle cx="342.1" cy="2266.6" r="6.4"/><circle cx="336.5" cy="2273.0" r="6.4"/><circle cx="363.6" cy="2271.1" r="6.4"/><circle cx="263.9" cy="2274.6" r="6.4"/><circle cx="283.9" cy="2277.8" r="6.4"/><circle cx="266.3" cy="2284.2" r="6.4"/><circle cx="280.7" cy="2287.4" r="6.4"/><circle cx="291.8" cy="2284.2" r="6.4"/><circle cx="299.8" cy="2284.2" r="6.4"/><circle cx="309.4" cy="2282.6" r="6.4"/><circle cx="326.9" cy="2283.8" r="6.4"/><circle cx="340.5" cy="2283.4" r="6.4"/><circle cx="361.2" cy="2285.0" r="6.4"/><circle cx="362.0" cy="2290.5" r="6.4"/><circle cx="261.5" cy="2294.5" r="6.4"/><circle cx="277.5" cy="2293.7" r="6.4"/><circle cx="295.0" cy="2292.1" r="6.4"/><circle cx="306.2" cy="2293.7" r="6.4"/><circle cx="327.7" cy="2295.3" r="6.4"/><circle cx="347.7" cy="2290.5" r="6.4"/><circle cx="350.9" cy="2296.9" r="6.4"/><circle cx="267.1" cy="2303.3" r="6.4"/><circle cx="274.3" cy="2300.1" r="6.4"/><circle cx="293.4" cy="2306.5" r="6.4"/><circle cx="312.6" cy="2303.3" r="6.4"/><circle cx="301.4" cy="2298.5" r="6.4"/><circle cx="341.3" cy="2306.5" r="6.4"/><circle cx="349.3" cy="2303.3" r="6.4"/><circle cx="362.0" cy="2309.7" r="6.4"/><circle cx="362.0" cy="2318.5" r="6.4"/><circle cx="263.1" cy="2317.7" r="6.4"/><circle cx="271.1" cy="2316.1" r="6.4"/><circle cx="278.3" cy="2317.7" r="6.4"/><circle cx="307.5" cy="2316.9" r="6.4"/><circle cx="338.1" cy="2317.7" r="6.4"/><circle cx="346.1" cy="2315.3" r="6.4"/><circle cx="339.7" cy="2322.4" r="6.4"/><circle cx="267.9" cy="2327.2" r="6.4"/><circle cx="275.1" cy="2332.0" r="6.4"/><circle cx="294.2" cy="2323.2" r="6.4"/><circle cx="290.2" cy="2332.0" r="6.4"/><circle cx="296.6" cy="2332.8" r="6.4"/><circle cx="311.0" cy="2331.2" r="6.4"/><circle cx="337.6" cy="2332.8" r="6.4"/><circle cx="258.0" cy="2340.0" r="6.4"/><circle cx="270.3" cy="2344.0" r="6.4"/><circle cx="274.3" cy="2348.8" r="6.4"/><circle cx="307.0" cy="2342.4" r="6.4"/><circle cx="311.0" cy="2346.4" r="6.4"/><circle cx="335.7" cy="2351.2" r="6.4"/><circle cx="343.2" cy="2350.4" r="6.4"/><circle cx="342.9" cy="2355.1" r="6.4"/><circle cx="363.6" cy="2352.0" r="6.4"/><circle cx="260.4" cy="2359.1" r="6.4"/><circle cx="289.4" cy="2363.9" r="6.4"/><circle cx="261.2" cy="2369.5" r="6.4"/><circle cx="276.4" cy="2369.5" r="6.4"/><circle cx="310.2" cy="2371.1" r="6.4"/><circle cx="339.7" cy="2368.7" r="6.4"/><circle cx="363.6" cy="2369.5" r="6.4"/><circle cx="259.7" cy="2377.8" r="6.4"/><circle cx="340.1" cy="2376.7" r="6.4"/><circle cx="362.3" cy="2381.6" r="6.4"/><circle cx="289.1" cy="2389.3" r="6.4"/><circle cx="311.8" cy="2388.0" r="6.4"/><circle cx="289.9" cy="2400.7" r="6.4"/><circle cx="261.5" cy="2413.7" r="6.4"/><circle cx="291.1" cy="2416.5" r="6.4"/><circle cx="301.3" cy="2416.5" r="6.4"/><circle cx="309.5" cy="2425.7" r="6.4"/><circle cx="261.0" cy="2424.7" r="6.4"/><circle cx="260.2" cy="2430.8" r="6.4"/><circle cx="259.5" cy="2453.8" r="6.4"/><circle cx="258.7" cy="2466.3" r="6.4"/><circle cx="259.0" cy="2474.7" r="6.4"/><circle cx="321.7" cy="2214.6" r="6.4"/><circle cx="269.8" cy="2311.1" r="6.4"/><circle cx="268.2" cy="2326.5" r="6.4"/><circle cx="298.8" cy="2302.6" r="6.4"/><circle cx="321.4" cy="2224.6" r="6.4"/><circle cx="290.3" cy="2223.0" r="6.4"/><circle cx="341.2" cy="2179.2" r="6.4"/><circle cx="348.0" cy="2235.1" r="6.4"/><circle cx="347.3" cy="2305.0" r="6.4"/><circle cx="355.1" cy="2305.4" r="6.4"/><circle cx="341.3" cy="2240.2" r="6.4"/><circle cx="279.7" cy="2278.5" r="6.4"/><circle cx="321.8" cy="2189.0" r="6.4"/><circle cx="305.7" cy="2266.2" r="6.4"/><circle cx="329.8" cy="2269.8" r="6.4"/><circle cx="274.9" cy="2225.6" r="6.4"/><circle cx="280.6" cy="2275.9" r="6.4"/><circle cx="276.9" cy="2297.2" r="6.4"/><circle cx="333.2" cy="2252.4" r="6.4"/><circle cx="356.0" cy="2218.4" r="6.4"/><circle cx="308.5" cy="2250.8" r="6.4"/><circle cx="330.0" cy="2181.8" r="6.4"/><circle cx="297.6" cy="2254.2" r="6.4"/><circle cx="314.1" cy="2171.5" r="6.4"/><circle cx="342.6" cy="2186.8" r="6.4"/><circle cx="275.9" cy="2207.6" r="6.4"/><circle cx="338.4" cy="2258.3" r="6.4"/><circle cx="287.1" cy="2228.0" r="6.4"/><circle cx="325.5" cy="2209.7" r="6.4"/><circle cx="276.8" cy="2325.2" r="6.4"/><circle cx="345.6" cy="2299.2" r="6.4"/><circle cx="277.4" cy="2211.6" r="6.4"/><circle cx="307.0" cy="2260.6" r="6.4"/><circle cx="321.3" cy="2085.7" r="6.4"/><circle cx="348.8" cy="2183.1" r="6.4"/><circle cx="308.0" cy="2203.8" r="6.4"/><circle cx="283.9" cy="2242.0" r="6.4"/><circle cx="317.0" cy="2194.0" r="6.4"/><circle cx="327.4" cy="2077.9" r="6.4"/><circle cx="302.4" cy="2217.9" r="6.4"/><circle cx="326.2" cy="2091.4" r="6.4"/><circle cx="335.9" cy="2282.4" r="6.4"/><circle cx="318.0" cy="2174.6" r="6.4"/><circle cx="269.7" cy="2297.7" r="6.4"/><circle cx="304.2" cy="2292.8" r="6.4"/><circle cx="306.9" cy="2288.5" r="6.4"/><circle cx="315.5" cy="2213.1" r="6.4"/><circle cx="290.9" cy="2287.0" r="6.4"/><circle cx="348.6" cy="2216.1" r="6.4"/><circle cx="264.9" cy="2287.6" r="6.4"/><circle cx="296.2" cy="2239.7" r="6.4"/><circle cx="287.2" cy="2254.9" r="6.4"/><circle cx="269.7" cy="2217.0" r="6.4"/><circle cx="356.3" cy="2227.6" r="6.4"/><circle cx="332.9" cy="2085.7" r="6.4"/><circle cx="326.4" cy="2205.6" r="6.4"/><circle cx="306.6" cy="2283.8" r="6.4"/><circle cx="273.4" cy="2195.5" r="6.4"/><circle cx="302.1" cy="2335.3" r="6.4"/><circle cx="294.3" cy="2226.0" r="6.4"/><circle cx="344.5" cy="2242.5" r="6.4"/><circle cx="308.1" cy="2277.9" r="6.4"/><circle cx="309.6" cy="2228.9" r="6.4"/><circle cx="281.4" cy="2203.7" r="6.4"/><circle cx="352.5" cy="2218.8" r="6.4"/><circle cx="314.8" cy="2176.1" r="6.4"/><circle cx="271.9" cy="2198.6" r="6.4"/><circle cx="324.1" cy="2170.4" r="6.4"/><circle cx="343.4" cy="2309.2" r="6.4"/><circle cx="282.6" cy="2257.8" r="6.4"/><circle cx="277.6" cy="2270.2" r="6.4"/><circle cx="272.2" cy="2298.4" r="6.4"/><circle cx="352.7" cy="2176.0" r="6.4"/><circle cx="284.4" cy="2284.5" r="6.4"/><circle cx="344.6" cy="2221.8" r="6.4"/><circle cx="345.2" cy="2169.4" r="6.4"/><circle cx="310.7" cy="2173.3" r="6.4"/><circle cx="315.4" cy="2267.0" r="6.4"/><circle cx="272.5" cy="2208.1" r="6.4"/><circle cx="302.0" cy="2290.8" r="6.4"/><circle cx="320.2" cy="2186.6" r="6.4"/><circle cx="304.8" cy="2216.8" r="6.4"/><circle cx="301.6" cy="2225.4" r="6.4"/><circle cx="343.9" cy="2228.3" r="6.4"/><circle cx="300.7" cy="2239.2" r="6.4"/><circle cx="348.8" cy="2307.6" r="6.4"/><circle cx="268.6" cy="2262.0" r="6.4"/><circle cx="302.3" cy="2294.6" r="6.4"/><circle cx="321.9" cy="2173.0" r="6.4"/><circle cx="344.7" cy="2232.2" r="6.4"/><circle cx="265.8" cy="2265.3" r="6.4"/><circle cx="345.9" cy="2287.4" r="6.4"/><circle cx="342.3" cy="2269.5" r="6.4"/><circle cx="308.1" cy="2298.9" r="6.4"/><circle cx="1640.5" cy="1861.2" r="6.4"/><circle cx="1640.6" cy="1872.0" r="6.4"/><circle cx="1639.4" cy="1903.0" r="6.4"/><circle cx="1644.1" cy="1952.1" r="6.4"/><circle cx="1803.7" cy="1952.1" r="6.4"/><circle cx="1648.9" cy="1960.1" r="6.4"/><circle cx="1652.9" cy="1962.5" r="6.4"/><circle cx="1643.3" cy="1963.6" r="6.4"/><circle cx="1658.5" cy="1967.6" r="6.4"/><circle cx="1648.9" cy="1972.0" r="6.4"/><circle cx="1653.7" cy="1976.8" r="6.4"/><circle cx="1711.9" cy="1972.4" r="6.4"/><circle cx="1698.1" cy="1990.4" r="6.4"/><circle cx="1713.5" cy="1993.6" r="6.4"/><circle cx="1803.4" cy="1989.6" r="6.4"/><circle cx="1851.2" cy="1992.0" r="6.4"/><circle cx="1851.5" cy="1999.2" r="6.4"/><circle cx="1653.2" cy="1991.5" r="6.4"/><circle cx="1664.9" cy="2004.4" r="6.4"/><circle cx="1656.9" cy="2005.6" r="6.4"/><circle cx="1656.1" cy="2014.0" r="6.4"/><circle cx="1712.4" cy="2013.5" r="6.4"/><circle cx="1850.0" cy="2016.7" r="6.4"/><circle cx="1806.1" cy="2026.3" r="6.4"/><circle cx="1734.3" cy="2038.6" r="6.4"/><circle cx="1711.5" cy="2041.1" r="6.4"/><circle cx="1664.1" cy="2045.0" r="6.4"/><circle cx="1659.3" cy="2046.2" r="6.4"/><circle cx="1643.3" cy="2048.6" r="6.4"/><circle cx="1658.5" cy="2053.4" r="6.4"/><circle cx="1644.1" cy="2055.0" r="6.4"/><circle cx="1805.0" cy="2046.6" r="6.4"/><circle cx="1818.5" cy="2048.3" r="6.4"/><circle cx="1851.2" cy="2054.2" r="6.4"/><circle cx="1711.9" cy="2053.4" r="6.4"/><circle cx="1641.8" cy="2062.2" r="6.4"/><circle cx="1690.7" cy="2066.2" r="6.4"/><circle cx="1696.0" cy="2065.4" r="6.4"/><circle cx="1712.7" cy="2065.7" r="6.4"/><circle cx="1784.5" cy="2069.4" r="6.4"/><circle cx="1806.6" cy="2068.6" r="6.4"/><circle cx="1639.4" cy="2074.2" r="6.4"/><circle cx="1647.3" cy="2073.4" r="6.4"/><circle cx="1652.9" cy="2075.0" r="6.4"/><circle cx="1741.8" cy="2075.0" r="6.4"/><circle cx="1817.7" cy="2076.2" r="6.4"/><circle cx="1699.2" cy="2076.5" r="6.4"/><circle cx="1703.2" cy="2078.1" r="6.4"/><circle cx="1711.9" cy="2080.5" r="6.4"/><circle cx="1795.7" cy="2077.3" r="6.4"/><circle cx="1802.1" cy="2079.7" r="6.4"/><circle cx="1644.1" cy="2082.1" r="6.4"/><circle cx="1664.9" cy="2083.4" r="6.4"/><circle cx="1656.1" cy="2084.5" r="6.4"/><circle cx="1693.3" cy="2087.7" r="6.4"/><circle cx="1734.3" cy="2086.9" r="6.4"/><circle cx="1783.7" cy="2085.3" r="6.4"/><circle cx="1780.6" cy="2089.3" r="6.4"/><circle cx="1808.5" cy="2086.1" r="6.4"/><circle cx="1798.9" cy="2086.9" r="6.4"/><circle cx="1850.0" cy="2088.5" r="6.4"/><circle cx="1709.6" cy="2091.2" r="6.4"/><circle cx="1742.3" cy="2093.0" r="6.4"/><circle cx="1733.5" cy="2094.1" r="6.4"/><circle cx="1735.9" cy="2098.1" r="6.4"/><circle cx="1657.7" cy="2092.5" r="6.4"/><circle cx="1647.3" cy="2097.3" r="6.4"/><circle cx="1652.1" cy="2095.7" r="6.4"/><circle cx="1818.5" cy="2092.2" r="6.4"/><circle cx="1805.3" cy="2094.1" r="6.4"/><circle cx="1700.0" cy="2101.3" r="6.4"/><circle cx="1711.2" cy="2103.7" r="6.4"/><circle cx="1785.3" cy="2100.8" r="6.4"/><circle cx="1806.1" cy="2099.7" r="6.4"/><circle cx="1820.4" cy="2102.1" r="6.4"/><circle cx="1814.9" cy="2103.7" r="6.4"/><circle cx="1662.5" cy="2105.3" r="6.4"/><circle cx="1648.9" cy="2106.9" r="6.4"/><circle cx="1696.0" cy="2107.7" r="6.4"/><circle cx="1692.8" cy="2112.4" r="6.4"/><circle cx="1709.6" cy="2108.5" r="6.4"/><circle cx="1735.4" cy="2111.6" r="6.4"/><circle cx="1782.9" cy="2110.8" r="6.4"/><circle cx="1797.3" cy="2109.3" r="6.4"/><circle cx="1802.1" cy="2111.6" r="6.4"/><circle cx="1849.6" cy="2110.1" r="6.4"/><circle cx="1640.2" cy="2118.0" r="6.4"/><circle cx="1656.9" cy="2119.6" r="6.4"/><circle cx="1697.6" cy="2118.0" r="6.4"/><circle cx="1759.8" cy="2119.1" r="6.4"/><circle cx="1797.3" cy="2119.6" r="6.4"/><circle cx="1802.1" cy="2123.6" r="6.4"/><circle cx="1849.2" cy="2118.0" r="6.4"/><circle cx="1848.4" cy="2122.8" r="6.4"/><circle cx="1644.1" cy="2127.6" r="6.4"/><circle cx="1663.3" cy="2129.2" r="6.4"/><circle cx="1707.2" cy="2125.2" r="6.4"/><circle cx="1715.9" cy="2124.4" r="6.4"/><circle cx="1708.0" cy="2130.8" r="6.4"/><circle cx="1722.3" cy="2132.4" r="6.4"/><circle cx="1732.7" cy="2130.8" r="6.4"/><circle cx="1736.7" cy="2130.8" r="6.4"/><circle cx="1695.2" cy="2132.1" r="6.4"/><circle cx="1786.6" cy="2130.8" r="6.4"/><circle cx="1798.9" cy="2127.6" r="6.4"/><circle cx="1823.1" cy="2129.2" r="6.4"/><circle cx="1651.3" cy="2135.6" r="6.4"/><circle cx="1676.9" cy="2137.2" r="6.4"/><circle cx="1763.8" cy="2138.3" r="6.4"/><circle cx="1738.3" cy="2140.4" r="6.4"/><circle cx="1744.7" cy="2139.6" r="6.4"/><circle cx="1802.1" cy="2141.2" r="6.4"/><circle cx="1811.7" cy="2137.2" r="6.4"/><circle cx="1847.6" cy="2141.6" r="6.4"/><circle cx="1652.1" cy="2145.1" r="6.4"/><circle cx="1680.0" cy="2145.1" r="6.4"/><circle cx="1642.5" cy="2149.1" r="6.4"/><circle cx="1667.3" cy="2149.9" r="6.4"/><circle cx="1702.4" cy="2145.1" r="6.4"/><circle cx="1707.2" cy="2149.9" r="6.4"/><circle cx="1818.8" cy="2146.4" r="6.4"/><circle cx="1810.1" cy="2151.5" r="6.4"/><circle cx="1659.3" cy="2156.0" r="6.4"/><circle cx="1684.8" cy="2153.1" r="6.4"/><circle cx="1676.1" cy="2160.3" r="6.4"/><circle cx="1701.6" cy="2153.9" r="6.4"/><circle cx="1709.6" cy="2157.1" r="6.4"/><circle cx="1708.8" cy="2161.9" r="6.4"/><circle cx="1741.5" cy="2155.5" r="6.4"/><circle cx="1743.9" cy="2161.9" r="6.4"/><circle cx="1782.1" cy="2160.3" r="6.4"/><circle cx="1786.9" cy="2164.3" r="6.4"/><circle cx="1803.7" cy="2160.3" r="6.4"/><circle cx="1811.7" cy="2156.3" r="6.4"/><circle cx="1678.4" cy="2167.5" r="6.4"/><circle cx="1722.3" cy="2166.7" r="6.4"/><circle cx="1730.3" cy="2166.7" r="6.4"/><circle cx="1751.0" cy="2169.1" r="6.4"/><circle cx="1762.2" cy="2170.7" r="6.4"/><circle cx="1744.7" cy="2170.7" r="6.4"/><circle cx="1806.9" cy="2167.5" r="6.4"/><circle cx="1817.2" cy="2166.7" r="6.4"/><circle cx="1848.4" cy="2165.1" r="6.4"/><circle cx="1846.8" cy="2168.3" r="6.4"/><circle cx="1650.5" cy="2178.3" r="6.4"/><circle cx="1661.7" cy="2178.3" r="6.4"/><circle cx="1678.4" cy="2179.0" r="6.4"/><circle cx="1699.2" cy="2176.3" r="6.4"/><circle cx="1708.0" cy="2178.7" r="6.4"/><circle cx="1722.3" cy="2174.7" r="6.4"/><circle cx="1736.7" cy="2181.8" r="6.4"/><circle cx="1757.4" cy="2178.7" r="6.4"/><circle cx="1760.6" cy="2173.9" r="6.4"/><circle cx="1781.3" cy="2177.1" r="6.4"/><circle cx="1796.5" cy="2173.9" r="6.4"/><circle cx="1822.0" cy="2175.5" r="6.4"/><circle cx="1814.1" cy="2173.9" r="6.4"/><circle cx="1841.2" cy="2180.6" r="6.4"/><circle cx="1668.1" cy="2186.6" r="6.4"/><circle cx="1695.2" cy="2185.0" r="6.4"/><circle cx="1714.3" cy="2185.0" r="6.4"/><circle cx="1704.8" cy="2186.6" r="6.4"/><circle cx="1748.6" cy="2184.2" r="6.4"/><circle cx="1784.5" cy="2185.0" r="6.4"/><circle cx="1794.1" cy="2183.4" r="6.4"/><circle cx="1805.3" cy="2184.2" r="6.4"/><circle cx="1676.1" cy="2189.8" r="6.4"/><circle cx="1685.6" cy="2193.0" r="6.4"/><circle cx="1730.3" cy="2191.4" r="6.4"/><circle cx="1739.9" cy="2194.6" r="6.4"/><circle cx="1754.2" cy="2195.4" r="6.4"/><circle cx="1765.1" cy="2193.8" r="6.4"/><circle cx="1814.1" cy="2192.2" r="6.4"/><circle cx="1800.5" cy="2193.0" r="6.4"/><circle cx="1790.9" cy="2194.6" r="6.4"/><circle cx="1668.9" cy="2198.3" r="6.4"/><circle cx="1684.8" cy="2201.0" r="6.4"/><circle cx="1711.2" cy="2199.4" r="6.4"/><circle cx="1721.5" cy="2201.0" r="6.4"/><circle cx="1780.6" cy="2200.2" r="6.4"/><circle cx="1848.4" cy="2200.7" r="6.4"/><circle cx="1798.9" cy="2201.0" r="6.4"/><circle cx="1646.5" cy="2213.0" r="6.4"/><circle cx="1668.1" cy="2210.6" r="6.4"/><circle cx="1677.6" cy="2212.2" r="6.4"/><circle cx="1682.4" cy="2205.8" r="6.4"/><circle cx="1692.0" cy="2209.0" r="6.4"/><circle cx="1700.0" cy="2205.8" r="6.4"/><circle cx="1709.6" cy="2209.0" r="6.4"/><circle cx="1714.3" cy="2212.2" r="6.4"/><circle cx="1731.9" cy="2207.4" r="6.4"/><circle cx="1728.7" cy="2213.0" r="6.4"/><circle cx="1739.9" cy="2215.3" r="6.4"/><circle cx="1749.4" cy="2206.6" r="6.4"/><circle cx="1757.4" cy="2209.0" r="6.4"/><circle cx="1768.6" cy="2207.4" r="6.4"/><circle cx="1765.4" cy="2214.6" r="6.4"/><circle cx="1784.5" cy="2212.2" r="6.4"/><circle cx="1794.1" cy="2209.0" r="6.4"/><circle cx="1800.5" cy="2213.8" r="6.4"/><circle cx="1806.9" cy="2215.3" r="6.4"/><circle cx="1833.2" cy="2208.2" r="6.4"/><circle cx="1830.8" cy="2216.9" r="6.4"/><circle cx="1649.7" cy="2220.5" r="6.4"/><circle cx="1663.3" cy="2225.3" r="6.4"/><circle cx="1677.6" cy="2218.9" r="6.4"/><circle cx="1692.0" cy="2218.9" r="6.4"/><circle cx="1701.5" cy="2217.3" r="6.4"/><circle cx="1716.7" cy="2224.5" r="6.4"/><circle cx="1733.4" cy="2217.3" r="6.4"/><circle cx="1747.8" cy="2218.9" r="6.4"/><circle cx="1760.5" cy="2220.5" r="6.4"/><circle cx="1774.9" cy="2222.1" r="6.4"/><circle cx="1786.0" cy="2218.9" r="6.4"/><circle cx="1798.8" cy="2222.1" r="6.4"/><circle cx="1806.8" cy="2217.3" r="6.4"/><circle cx="1827.5" cy="2223.7" r="6.4"/><circle cx="1841.8" cy="2225.3" r="6.4"/><circle cx="1667.3" cy="2231.7" r="6.4"/><circle cx="1682.4" cy="2230.1" r="6.4"/><circle cx="1690.4" cy="2234.9" r="6.4"/><circle cx="1719.1" cy="2233.3" r="6.4"/><circle cx="1723.9" cy="2234.1" r="6.4"/><circle cx="1741.4" cy="2228.5" r="6.4"/><circle cx="1752.6" cy="2231.7" r="6.4"/><circle cx="1765.3" cy="2230.1" r="6.4"/><circle cx="1778.1" cy="2231.7" r="6.4"/><circle cx="1794.0" cy="2234.9" r="6.4"/><circle cx="1800.4" cy="2237.3" r="6.4"/><circle cx="1813.1" cy="2230.1" r="6.4"/><circle cx="1837.1" cy="2230.9" r="6.4"/><circle cx="1847.4" cy="2233.3" r="6.4"/><circle cx="1644.9" cy="2238.4" r="6.4"/><circle cx="1685.6" cy="2241.2" r="6.4"/><circle cx="1700.7" cy="2245.2" r="6.4"/><circle cx="1716.7" cy="2239.6" r="6.4"/><circle cx="1722.3" cy="2243.6" r="6.4"/><circle cx="1739.8" cy="2241.2" r="6.4"/><circle cx="1751.0" cy="2242.8" r="6.4"/><circle cx="1762.1" cy="2241.2" r="6.4"/><circle cx="1778.1" cy="2247.6" r="6.4"/><circle cx="1790.8" cy="2250.0" r="6.4"/><circle cx="1818.7" cy="2240.4" r="6.4"/><circle cx="1829.1" cy="2246.0" r="6.4"/><circle cx="1840.2" cy="2254.0" r="6.4"/><circle cx="1660.9" cy="2250.8" r="6.4"/><circle cx="1661.7" cy="2258.8" r="6.4"/><circle cx="1671.2" cy="2258.8" r="6.4"/><circle cx="1682.4" cy="2256.4" r="6.4"/><circle cx="1697.5" cy="2257.2" r="6.4"/><circle cx="1717.5" cy="2255.6" r="6.4"/><circle cx="1723.9" cy="2262.0" r="6.4"/><circle cx="1736.6" cy="2250.8" r="6.4"/><circle cx="1744.6" cy="2257.2" r="6.4"/><circle cx="1758.9" cy="2257.2" r="6.4"/><circle cx="1768.5" cy="2254.0" r="6.4"/><circle cx="1776.5" cy="2257.2" r="6.4"/><circle cx="1795.6" cy="2258.8" r="6.4"/><circle cx="1790.8" cy="2263.6" r="6.4"/><circle cx="1814.7" cy="2256.4" r="6.4"/><circle cx="1825.9" cy="2257.2" r="6.4"/><circle cx="1830.7" cy="2265.2" r="6.4"/><circle cx="1821.1" cy="2250.0" r="6.4"/><circle cx="1664.9" cy="2263.6" r="6.4"/><circle cx="1681.6" cy="2265.2" r="6.4"/><circle cx="1707.9" cy="2272.8" r="6.4"/><circle cx="1731.8" cy="2268.3" r="6.4"/><circle cx="1747.8" cy="2266.7" r="6.4"/><circle cx="1752.6" cy="2274.7" r="6.4"/><circle cx="1776.5" cy="2266.7" r="6.4"/><circle cx="1781.2" cy="2268.3" r="6.4"/><circle cx="1766.9" cy="2274.7" r="6.4"/><circle cx="1774.9" cy="2274.7" r="6.4"/><circle cx="1847.4" cy="2273.9" r="6.4"/><circle cx="1680.0" cy="2273.1" r="6.4"/><circle cx="1688.8" cy="2277.9" r="6.4"/><circle cx="1659.3" cy="2277.1" r="6.4"/><circle cx="1667.3" cy="2277.9" r="6.4"/><circle cx="1812.3" cy="2277.9" r="6.4"/><circle cx="1822.7" cy="2276.3" r="6.4"/><circle cx="1832.3" cy="2281.1" r="6.4"/><circle cx="1840.2" cy="2279.5" r="6.4"/><circle cx="1729.4" cy="2281.9" r="6.4"/><circle cx="1747.8" cy="2284.3" r="6.4"/><circle cx="1676.0" cy="2283.5" r="6.4"/><circle cx="1690.4" cy="2284.3" r="6.4"/><circle cx="1701.5" cy="2287.5" r="6.4"/><circle cx="1787.6" cy="2281.1" r="6.4"/><circle cx="1794.0" cy="2281.9" r="6.4"/><circle cx="1809.2" cy="2285.1" r="6.4"/><circle cx="1841.8" cy="2285.1" r="6.4"/><circle cx="1760.5" cy="2289.1" r="6.4"/><circle cx="1768.5" cy="2284.3" r="6.4"/><circle cx="1665.7" cy="2287.5" r="6.4"/><circle cx="1659.3" cy="2292.3" r="6.4"/><circle cx="1672.8" cy="2292.3" r="6.4"/><circle cx="1693.6" cy="2296.2" r="6.4"/><circle cx="1727.0" cy="2289.1" r="6.4"/><circle cx="1730.2" cy="2293.9" r="6.4"/><circle cx="1743.8" cy="2290.7" r="6.4"/><circle cx="1745.4" cy="2297.8" r="6.4"/><circle cx="1784.4" cy="2290.7" r="6.4"/><circle cx="1794.0" cy="2295.4" r="6.4"/><circle cx="1763.7" cy="2292.3" r="6.4"/><circle cx="1774.9" cy="2297.0" r="6.4"/><circle cx="1823.5" cy="2289.1" r="6.4"/><circle cx="1832.3" cy="2289.1" r="6.4"/><circle cx="1822.7" cy="2299.4" r="6.4"/><circle cx="1832.3" cy="2297.0" r="6.4"/><circle cx="1657.7" cy="2298.6" r="6.4"/><circle cx="1672.8" cy="2300.2" r="6.4"/><circle cx="1680.0" cy="2304.2" r="6.4"/><circle cx="1719.1" cy="2301.8" r="6.4"/><circle cx="1719.1" cy="2308.2" r="6.4"/><circle cx="1725.4" cy="2306.6" r="6.4"/><circle cx="1665.7" cy="2309.8" r="6.4"/><circle cx="1736.6" cy="2313.0" r="6.4"/><circle cx="1774.9" cy="2305.0" r="6.4"/><circle cx="1770.1" cy="2311.4" r="6.4"/><circle cx="1778.9" cy="2312.2" r="6.4"/><circle cx="1832.3" cy="2306.6" r="6.4"/><circle cx="1838.6" cy="2311.4" r="6.4"/><circle cx="1842.6" cy="2314.6" r="6.4"/><circle cx="1676.0" cy="2313.0" r="6.4"/><circle cx="1685.6" cy="2319.8" r="6.4"/><circle cx="1722.3" cy="2316.2" r="6.4"/><circle cx="1727.0" cy="2321.0" r="6.4"/><circle cx="1752.6" cy="2321.0" r="6.4"/><circle cx="1762.1" cy="2319.4" r="6.4"/><circle cx="1777.3" cy="2321.8" r="6.4"/><circle cx="1768.5" cy="2322.6" r="6.4"/><circle cx="1823.5" cy="2316.2" r="6.4"/><circle cx="1832.3" cy="2317.8" r="6.4"/><circle cx="1840.2" cy="2321.0" r="6.4"/><circle cx="1845.8" cy="2324.9" r="6.4"/><circle cx="1728.6" cy="2328.1" r="6.4"/><circle cx="1791.6" cy="2327.3" r="6.4"/><circle cx="1759.7" cy="2330.5" r="6.4"/><circle cx="1766.9" cy="2330.5" r="6.4"/><circle cx="1675.2" cy="2336.9" r="6.4"/><circle cx="1795.6" cy="2331.3" r="6.4"/><circle cx="1790.8" cy="2335.3" r="6.4"/><circle cx="1825.9" cy="2332.1" r="6.4"/><circle cx="1837.1" cy="2330.5" r="6.4"/><circle cx="1835.5" cy="2336.9" r="6.4"/><circle cx="1747.8" cy="2338.5" r="6.4"/><circle cx="1660.1" cy="2340.9" r="6.4"/><circle cx="1670.4" cy="2340.9" r="6.4"/><circle cx="1688.5" cy="2343.3" r="6.4"/><circle cx="1718.3" cy="2342.5" r="6.4"/><circle cx="1727.0" cy="2347.3" r="6.4"/><circle cx="1752.6" cy="2346.5" r="6.4"/><circle cx="1765.3" cy="2341.7" r="6.4"/><circle cx="1774.9" cy="2347.7" r="6.4"/><circle cx="1800.4" cy="2341.7" r="6.4"/><circle cx="1832.3" cy="2344.9" r="6.4"/><circle cx="1843.4" cy="2344.6" r="6.4"/><circle cx="1689.6" cy="2349.7" r="6.4"/><circle cx="1716.7" cy="2347.3" r="6.4"/><circle cx="1661.7" cy="2352.0" r="6.4"/><circle cx="1673.6" cy="2352.8" r="6.4"/><circle cx="1825.1" cy="2353.6" r="6.4"/><circle cx="1667.3" cy="2359.2" r="6.4"/><circle cx="1674.4" cy="2362.4" r="6.4"/><circle cx="1688.0" cy="2362.4" r="6.4"/><circle cx="1727.8" cy="2358.4" r="6.4"/><circle cx="1725.4" cy="2364.0" r="6.4"/><circle cx="1772.2" cy="2360.5" r="6.4"/><circle cx="1792.1" cy="2358.9" r="6.4"/><circle cx="1840.2" cy="2359.2" r="6.4"/><circle cx="1845.8" cy="2360.8" r="6.4"/><circle cx="1671.2" cy="2368.8" r="6.4"/><circle cx="1717.2" cy="2370.7" r="6.4"/><circle cx="1845.8" cy="2370.4" r="6.4"/><circle cx="1833.9" cy="2371.2" r="6.4"/><circle cx="1687.5" cy="2372.3" r="6.4"/><circle cx="1725.0" cy="2376.8" r="6.4"/><circle cx="1835.5" cy="2378.4" r="6.4"/><circle cx="1769.8" cy="2381.1" r="6.4"/><circle cx="1679.2" cy="2384.4" r="6.4"/><circle cx="1761.3" cy="2391.4" r="6.4"/><circle cx="1776.5" cy="2392.7" r="6.4"/><circle cx="1774.1" cy="2396.7" r="6.4"/><circle cx="1792.1" cy="2397.2" r="6.4"/><circle cx="1725.4" cy="2398.3" r="6.4"/><circle cx="1668.8" cy="2400.7" r="6.4"/><circle cx="1666.5" cy="2404.7" r="6.4"/><circle cx="1845.0" cy="2402.3" r="6.4"/><circle cx="1837.1" cy="2406.3" r="6.4"/><circle cx="1844.2" cy="2407.9" r="6.4"/><circle cx="1844.2" cy="2420.1" r="6.4"/><circle cx="1773.3" cy="2422.7" r="6.4"/><circle cx="1835.5" cy="2426.2" r="6.4"/><circle cx="1674.7" cy="2429.1" r="6.4"/><circle cx="1845.3" cy="2436.2" r="6.4"/><circle cx="1829.5" cy="2295.1" r="6.4"/><circle cx="1742.9" cy="2217.3" r="6.4"/><circle cx="1695.8" cy="2080.9" r="6.4"/><circle cx="1711.1" cy="2126.4" r="6.4"/><circle cx="1683.4" cy="2365.4" r="6.4"/><circle cx="1647.2" cy="2133.0" r="6.4"/><circle cx="1778.2" cy="2271.7" r="6.4"/><circle cx="1791.1" cy="2080.8" r="6.4"/><circle cx="1679.1" cy="2307.1" r="6.4"/><circle cx="1749.7" cy="2183.8" r="6.4"/><circle cx="1652.2" cy="1963.0" r="6.4"/><circle cx="1762.2" cy="2337.5" r="6.4"/><circle cx="1728.2" cy="2202.7" r="6.4"/><circle cx="1650.0" cy="2096.5" r="6.4"/><circle cx="1696.7" cy="2076.0" r="6.4"/><circle cx="1676.1" cy="2258.8" r="6.4"/><circle cx="1683.0" cy="2269.4" r="6.4"/><circle cx="1752.9" cy="2333.1" r="6.4"/><circle cx="1754.9" cy="2173.9" r="6.4"/><circle cx="1733.5" cy="2314.9" r="6.4"/><circle cx="1716.5" cy="2205.4" r="6.4"/><circle cx="1644.0" cy="1961.9" r="6.4"/><circle cx="1791.9" cy="2189.1" r="6.4"/><circle cx="1788.7" cy="2266.5" r="6.4"/><circle cx="1809.7" cy="2097.8" r="6.4"/><circle cx="1783.3" cy="2250.7" r="6.4"/><circle cx="1768.9" cy="2222.9" r="6.4"/><circle cx="1795.9" cy="2193.1" r="6.4"/><circle cx="1808.5" cy="2165.6" r="6.4"/><circle cx="1656.3" cy="1967.5" r="6.4"/><circle cx="1648.6" cy="1956.5" r="6.4"/><circle cx="1679.0" cy="2184.1" r="6.4"/><circle cx="1746.1" cy="2187.9" r="6.4"/><circle cx="1789.4" cy="2255.9" r="6.4"/><circle cx="1653.6" cy="2105.1" r="6.4"/><circle cx="1793.5" cy="2216.2" r="6.4"/><circle cx="1742.6" cy="2172.6" r="6.4"/><circle cx="1778.0" cy="2275.4" r="6.4"/><circle cx="1646.5" cy="2069.3" r="6.4"/><circle cx="1831.4" cy="2334.0" r="6.4"/><circle cx="1805.3" cy="2084.8" r="6.4"/><circle cx="1745.5" cy="2223.3" r="6.4"/><circle cx="1716.1" cy="2217.1" r="6.4"/><circle cx="1800.4" cy="2191.0" r="6.4"/><circle cx="1684.0" cy="2201.3" r="6.4"/><circle cx="1688.4" cy="2203.8" r="6.4"/><circle cx="1762.1" cy="2326.7" r="6.4"/><circle cx="1808.7" cy="2188.6" r="6.4"/><circle cx="1672.0" cy="2213.1" r="6.4"/><circle cx="1669.4" cy="2190.9" r="6.4"/><circle cx="1751.6" cy="2194.2" r="6.4"/><circle cx="1797.5" cy="2080.5" r="6.4"/><circle cx="1672.5" cy="2291.1" r="6.4"/><circle cx="1749.5" cy="2221.4" r="6.4"/><circle cx="1768.7" cy="2284.5" r="6.4"/><circle cx="1772.1" cy="2291.8" r="6.4"/><circle cx="1827.5" cy="2250.6" r="6.4"/><circle cx="1758.0" cy="2217.5" r="6.4"/><circle cx="1683.5" cy="2197.1" r="6.4"/><circle cx="1772.9" cy="2324.7" r="6.4"/><circle cx="1811.2" cy="2082.1" r="6.4"/><circle cx="1820.0" cy="2096.3" r="6.4"/><circle cx="1717.6" cy="2249.2" r="6.4"/><circle cx="1758.9" cy="2171.6" r="6.4"/><circle cx="1692.9" cy="2218.4" r="6.4"/><circle cx="1679.4" cy="2257.0" r="6.4"/><circle cx="1660.3" cy="2294.4" r="6.4"/><circle cx="1666.0" cy="2304.9" r="6.4"/><circle cx="1707.4" cy="2209.5" r="6.4"/><circle cx="1748.7" cy="2212.3" r="6.4"/><circle cx="1802.3" cy="2115.0" r="6.4"/><circle cx="1710.4" cy="2184.7" r="6.4"/><circle cx="1702.3" cy="2186.8" r="6.4"/><circle cx="1702.3" cy="2109.6" r="6.4"/><circle cx="1838.6" cy="2325.5" r="6.4"/><circle cx="1648.3" cy="1967.4" r="6.4"/><circle cx="1655.6" cy="1971.9" r="6.4"/><circle cx="1798.3" cy="2112.9" r="6.4"/><circle cx="1678.5" cy="2278.1" r="6.4"/><circle cx="1803.0" cy="2212.3" r="6.4"/><circle cx="1797.8" cy="2122.2" r="6.4"/><circle cx="1677.1" cy="2188.6" r="6.4"/><circle cx="1826.9" cy="2299.6" r="6.4"/><circle cx="1815.4" cy="2092.6" r="6.4"/><circle cx="1664.7" cy="2352.4" r="6.4"/><circle cx="1670.7" cy="2194.4" r="6.4"/><circle cx="1834.6" cy="2315.3" r="6.4"/><circle cx="1661.6" cy="2345.6" r="6.4"/><circle cx="1672.2" cy="2280.4" r="6.4"/><circle cx="1690.0" cy="2188.0" r="6.4"/><circle cx="1803.2" cy="2107.8" r="6.4"/><circle cx="1834.9" cy="2323.2" r="6.4"/><circle cx="1703.9" cy="2078.4" r="6.4"/><circle cx="1809.9" cy="2163.4" r="6.4"/><circle cx="1773.0" cy="2310.9" r="6.4"/><circle cx="1755.8" cy="2241.0" r="6.4"/><circle cx="1827.9" cy="2286.7" r="6.4"/><circle cx="1723.2" cy="2312.8" r="6.4"/><circle cx="1670.2" cy="2344.9" r="6.4"/><circle cx="1651.4" cy="2053.5" r="6.4"/><circle cx="1678.4" cy="2222.8" r="6.4"/><circle cx="1653.0" cy="2094.6" r="6.4"/><circle cx="1769.5" cy="2316.6" r="6.4"/><circle cx="1752.4" cy="2213.4" r="6.4"/><circle cx="1831.0" cy="2341.7" r="6.4"/><circle cx="1814.9" cy="2161.1" r="6.4"/><circle cx="1774.0" cy="2249.8" r="6.4"/><circle cx="1687.3" cy="2358.3" r="6.4"/><circle cx="1727.8" cy="2301.7" r="6.4"/><circle cx="1816.2" cy="2150.0" r="6.4"/><circle cx="1769.5" cy="2293.4" r="6.4"/><circle cx="1784.1" cy="2197.5" r="6.4"/><circle cx="1837.0" cy="2278.6" r="6.4"/><circle cx="1642.3" cy="2065.0" r="6.4"/><circle cx="1801.0" cy="2135.5" r="6.4"/><circle cx="1746.5" cy="2166.0" r="6.4"/><circle cx="1675.1" cy="2300.9" r="6.4"/><circle cx="1828.8" cy="2289.5" r="6.4"/><circle cx="1734.5" cy="2214.9" r="6.4"/><circle cx="1778.6" cy="2217.3" r="6.4"/><circle cx="1807.0" cy="2146.1" r="6.4"/><circle cx="1706.1" cy="2211.8" r="6.4"/><circle cx="1680.0" cy="2207.9" r="6.4"/><circle cx="1696.5" cy="2106.1" r="6.4"/><circle cx="1701.7" cy="2126.9" r="6.4"/><circle cx="1653.0" cy="2077.5" r="6.4"/><circle cx="1812.4" cy="2142.0" r="6.4"/><circle cx="1806.3" cy="2157.7" r="6.4"/><circle cx="1702.9" cy="2097.4" r="6.4"/><circle cx="1764.3" cy="2314.6" r="6.4"/><circle cx="1734.7" cy="2163.3" r="6.4"/><circle cx="1665.7" cy="2283.9" r="6.4"/><circle cx="1798.0" cy="2211.9" r="6.4"/><circle cx="1665.1" cy="2293.9" r="6.4"/><circle cx="1792.1" cy="2072.8" r="6.4"/><circle cx="1753.3" cy="2200.0" r="6.4"/><circle cx="1707.7" cy="2191.7" r="6.4"/><circle cx="1747.5" cy="2289.7" r="6.4"/><circle cx="1656.1" cy="2098.1" r="6.4"/><circle cx="1697.5" cy="2209.3" r="6.4"/><circle cx="1778.5" cy="2220.3" r="6.4"/><circle cx="1778.9" cy="2265.3" r="6.4"/><circle cx="1746.6" cy="2228.2" r="6.4"/><circle cx="1843.4" cy="2324.9" r="6.4"/><circle cx="1772.4" cy="2278.9" r="6.4"/><circle cx="1796.4" cy="2283.4" r="6.4"/><circle cx="1739.4" cy="2231.9" r="6.4"/><circle cx="1797.6" cy="2204.9" r="6.4"/><circle cx="1811.3" cy="2178.9" r="6.4"/><circle cx="1672.0" cy="2185.8" r="6.4"/><circle cx="1795.1" cy="2196.6" r="6.4"/><circle cx="1678.4" cy="2196.2" r="6.4"/><circle cx="1772.8" cy="2270.6" r="6.4"/><circle cx="1754.1" cy="2226.1" r="6.4"/><circle cx="1837.8" cy="2313.6" r="6.4"/><circle cx="1762.8" cy="2249.3" r="6.4"/><circle cx="1657.2" cy="2089.1" r="6.4"/><circle cx="1773.7" cy="2225.9" r="6.4"/><circle cx="1803.9" cy="2186.7" r="6.4"/><circle cx="1664.0" cy="2277.4" r="6.4"/><circle cx="1768.6" cy="2280.7" r="6.4"/><circle cx="1715.1" cy="2207.6" r="6.4"/><circle cx="1756.7" cy="2326.8" r="6.4"/><circle cx="1722.9" cy="2197.7" r="6.4"/><circle cx="1669.9" cy="2284.8" r="6.4"/><circle cx="1786.9" cy="2278.3" r="6.4"/><circle cx="1764.1" cy="2236.4" r="6.4"/><circle cx="1841.0" cy="2319.0" r="6.4"/><circle cx="1695.8" cy="2116.1" r="6.4"/><circle cx="1767.1" cy="2201.0" r="6.4"/><circle cx="1835.5" cy="2284.8" r="6.4"/><circle cx="1829.4" cy="2229.1" r="6.4"/><circle cx="1824.5" cy="2293.9" r="6.4"/><circle cx="1762.5" cy="2226.4" r="6.4"/><circle cx="1682.6" cy="2281.9" r="6.4"/><circle cx="1669.3" cy="2305.5" r="6.4"/><circle cx="1716.6" cy="2164.2" r="6.4"/><circle cx="1812.2" cy="2148.6" r="6.4"/><circle cx="1715.0" cy="2200.6" r="6.4"/><circle cx="1830.3" cy="2331.2" r="6.4"/><circle cx="1643.7" cy="2074.0" r="6.4"/></g>
<path class="tk" d="M231.45 1849.0v-18.2M231.45 2487.0v18.2M240.31 1849.0v-9.0M240.31 2487.0v9.0M249.16 1849.0v-9.0M249.16 2487.0v9.0M258.02 1849.0v-18.2M258.02 2487.0v18.2M266.87 1849.0v-9.0M266.87 2487.0v9.0M275.73 1849.0v-9.0M275.73 2487.0v9.0M284.58 1849.0v-18.2M284.58 2487.0v18.2M293.44 1849.0v-9.0M293.44 2487.0v9.0M302.30 1849.0v-9.0M302.30 2487.0v9.0M311.15 1849.0v-18.2M311.15 2487.0v18.2M320.01 1849.0v-9.0M320.01 2487.0v9.0M328.86 1849.0v-9.0M328.86 2487.0v9.0M337.72 1849.0v-18.2M337.72 2487.0v18.2M346.57 1849.0v-9.0M346.57 2487.0v9.0M355.43 1849.0v-9.0M355.43 2487.0v9.0M364.28 1849.0v-18.2M364.28 2487.0v18.2M373.14 1849.0v-9.0M373.14 2487.0v9.0M382.00 1849.0v-9.0M382.00 2487.0v9.0M390.85 1849.0v-18.2M390.85 2487.0v18.2M399.71 1849.0v-9.0M399.71 2487.0v9.0M408.56 1849.0v-9.0M408.56 2487.0v9.0M417.42 1849.0v-18.2M417.42 2487.0v18.2M426.27 1849.0v-9.0M426.27 2487.0v9.0M435.13 1849.0v-9.0M435.13 2487.0v9.0M443.99 1849.0v-18.2M443.99 2487.0v18.2M452.84 1849.0v-9.0M452.84 2487.0v9.0M461.70 1849.0v-9.0M461.70 2487.0v9.0M470.55 1849.0v-18.2M470.55 2487.0v18.2M479.41 1849.0v-9.0M479.41 2487.0v9.0M488.26 1849.0v-9.0M488.26 2487.0v9.0M497.12 1849.0v-18.2M497.12 2487.0v18.2M505.97 1849.0v-9.0M505.97 2487.0v9.0M514.83 1849.0v-9.0M514.83 2487.0v9.0M523.69 1849.0v-18.2M523.69 2487.0v18.2M532.54 1849.0v-9.0M532.54 2487.0v9.0M541.40 1849.0v-9.0M541.40 2487.0v9.0M550.25 1849.0v-18.2M550.25 2487.0v18.2M559.11 1849.0v-9.0M559.11 2487.0v9.0M567.96 1849.0v-9.0M567.96 2487.0v9.0M576.82 1849.0v-18.2M576.82 2487.0v18.2M585.68 1849.0v-9.0M585.68 2487.0v9.0M594.53 1849.0v-9.0M594.53 2487.0v9.0M603.39 1849.0v-18.2M603.39 2487.0v18.2M612.24 1849.0v-9.0M612.24 2487.0v9.0M621.10 1849.0v-9.0M621.10 2487.0v9.0M629.95 1849.0v-18.2M629.95 2487.0v18.2M638.81 1849.0v-9.0M638.81 2487.0v9.0M647.67 1849.0v-9.0M647.67 2487.0v9.0M656.52 1849.0v-18.2M656.52 2487.0v18.2M665.38 1849.0v-9.0M665.38 2487.0v9.0M674.23 1849.0v-9.0M674.23 2487.0v9.0M683.09 1849.0v-18.2M683.09 2487.0v18.2M691.94 1849.0v-9.0M691.94 2487.0v9.0M700.80 1849.0v-9.0M700.80 2487.0v9.0M709.65 1849.0v-18.2M709.65 2487.0v18.2M718.51 1849.0v-9.0M718.51 2487.0v9.0M727.37 1849.0v-9.0M727.37 2487.0v9.0M736.22 1849.0v-18.2M736.22 2487.0v18.2M745.08 1849.0v-9.0M745.08 2487.0v9.0M753.93 1849.0v-9.0M753.93 2487.0v9.0M762.79 1849.0v-18.2M762.79 2487.0v18.2M771.64 1849.0v-9.0M771.64 2487.0v9.0M780.50 1849.0v-9.0M780.50 2487.0v9.0M789.36 1849.0v-18.2M789.36 2487.0v18.2M798.21 1849.0v-9.0M798.21 2487.0v9.0M807.07 1849.0v-9.0M807.07 2487.0v9.0M815.92 1849.0v-18.2M815.92 2487.0v18.2M824.78 1849.0v-9.0M824.78 2487.0v9.0M833.63 1849.0v-9.0M833.63 2487.0v9.0M842.49 1849.0v-18.2M842.49 2487.0v18.2M851.35 1849.0v-9.0M851.35 2487.0v9.0M860.20 1849.0v-9.0M860.20 2487.0v9.0M869.06 1849.0v-18.2M869.06 2487.0v18.2M877.91 1849.0v-9.0M877.91 2487.0v9.0M886.77 1849.0v-9.0M886.77 2487.0v9.0M895.62 1849.0v-18.2M895.62 2487.0v18.2M904.48 1849.0v-9.0M904.48 2487.0v9.0M913.33 1849.0v-9.0M913.33 2487.0v9.0M922.19 1849.0v-18.2M922.19 2487.0v18.2M931.05 1849.0v-9.0M931.05 2487.0v9.0M939.90 1849.0v-9.0M939.90 2487.0v9.0M948.76 1849.0v-18.2M948.76 2487.0v18.2M957.61 1849.0v-9.0M957.61 2487.0v9.0M966.47 1849.0v-9.0M966.47 2487.0v9.0M975.32 1849.0v-18.2M975.32 2487.0v18.2M984.18 1849.0v-9.0M984.18 2487.0v9.0M993.04 1849.0v-9.0M993.04 2487.0v9.0M1001.89 1849.0v-18.2M1001.89 2487.0v18.2M1010.75 1849.0v-9.0M1010.75 2487.0v9.0M1019.60 1849.0v-9.0M1019.60 2487.0v9.0M1028.46 1849.0v-18.2M1028.46 2487.0v18.2M1037.31 1849.0v-9.0M1037.31 2487.0v9.0M1046.17 1849.0v-9.0M1046.17 2487.0v9.0M1055.02 1849.0v-18.2M1055.02 2487.0v18.2M1063.88 1849.0v-9.0M1063.88 2487.0v9.0M1072.74 1849.0v-9.0M1072.74 2487.0v9.0M1081.59 1849.0v-18.2M1081.59 2487.0v18.2M1090.45 1849.0v-9.0M1090.45 2487.0v9.0M1099.30 1849.0v-9.0M1099.30 2487.0v9.0M1108.16 1849.0v-18.2M1108.16 2487.0v18.2M1117.01 1849.0v-9.0M1117.01 2487.0v9.0M1125.87 1849.0v-9.0M1125.87 2487.0v9.0M1134.73 1849.0v-18.2M1134.73 2487.0v18.2M1143.58 1849.0v-9.0M1143.58 2487.0v9.0M1152.44 1849.0v-9.0M1152.44 2487.0v9.0M1161.29 1849.0v-18.2M1161.29 2487.0v18.2M1170.15 1849.0v-9.0M1170.15 2487.0v9.0M1179.00 1849.0v-9.0M1179.00 2487.0v9.0M1187.86 1849.0v-18.2M1187.86 2487.0v18.2M1196.72 1849.0v-9.0M1196.72 2487.0v9.0M1205.57 1849.0v-9.0M1205.57 2487.0v9.0M1214.43 1849.0v-18.2M1214.43 2487.0v18.2M1223.28 1849.0v-9.0M1223.28 2487.0v9.0M1232.14 1849.0v-9.0M1232.14 2487.0v9.0M1240.99 1849.0v-18.2M1240.99 2487.0v18.2M1249.85 1849.0v-9.0M1249.85 2487.0v9.0M1258.70 1849.0v-9.0M1258.70 2487.0v9.0M1267.56 1849.0v-18.2M1267.56 2487.0v18.2M1276.42 1849.0v-9.0M1276.42 2487.0v9.0M1285.27 1849.0v-9.0M1285.27 2487.0v9.0M1294.13 1849.0v-18.2M1294.13 2487.0v18.2M1302.98 1849.0v-9.0M1302.98 2487.0v9.0M1311.84 1849.0v-9.0M1311.84 2487.0v9.0M1320.69 1849.0v-18.2M1320.69 2487.0v18.2M1329.55 1849.0v-9.0M1329.55 2487.0v9.0M1338.41 1849.0v-9.0M1338.41 2487.0v9.0M1347.26 1849.0v-18.2M1347.26 2487.0v18.2M1356.12 1849.0v-9.0M1356.12 2487.0v9.0M1364.97 1849.0v-9.0M1364.97 2487.0v9.0M1373.83 1849.0v-18.2M1373.83 2487.0v18.2M1382.68 1849.0v-9.0M1382.68 2487.0v9.0M1391.54 1849.0v-9.0M1391.54 2487.0v9.0M1400.40 1849.0v-18.2M1400.40 2487.0v18.2M1409.25 1849.0v-9.0M1409.25 2487.0v9.0M1418.11 1849.0v-9.0M1418.11 2487.0v9.0M1426.96 1849.0v-18.2M1426.96 2487.0v18.2M1435.82 1849.0v-9.0M1435.82 2487.0v9.0M1444.67 1849.0v-9.0M1444.67 2487.0v9.0M1453.53 1849.0v-18.2M1453.53 2487.0v18.2M1462.38 1849.0v-9.0M1462.38 2487.0v9.0M1471.24 1849.0v-9.0M1471.24 2487.0v9.0M1480.10 1849.0v-18.2M1480.10 2487.0v18.2M1488.95 1849.0v-9.0M1488.95 2487.0v9.0M1497.81 1849.0v-9.0M1497.81 2487.0v9.0M1506.66 1849.0v-18.2M1506.66 2487.0v18.2M1515.52 1849.0v-9.0M1515.52 2487.0v9.0M1524.37 1849.0v-9.0M1524.37 2487.0v9.0M1533.23 1849.0v-18.2M1533.23 2487.0v18.2M1542.09 1849.0v-9.0M1542.09 2487.0v9.0M1550.94 1849.0v-9.0M1550.94 2487.0v9.0M1559.80 1849.0v-18.2M1559.80 2487.0v18.2M1568.65 1849.0v-9.0M1568.65 2487.0v9.0M1577.51 1849.0v-9.0M1577.51 2487.0v9.0M1586.36 1849.0v-18.2M1586.36 2487.0v18.2M1595.22 1849.0v-9.0M1595.22 2487.0v9.0M1604.08 1849.0v-9.0M1604.08 2487.0v9.0M1612.93 1849.0v-18.2M1612.93 2487.0v18.2M1621.79 1849.0v-9.0M1621.79 2487.0v9.0M1630.64 1849.0v-9.0M1630.64 2487.0v9.0M1639.50 1849.0v-18.2M1639.50 2487.0v18.2M1648.35 1849.0v-9.0M1648.35 2487.0v9.0M1657.21 1849.0v-9.0M1657.21 2487.0v9.0M1666.06 1849.0v-18.2M1666.06 2487.0v18.2M1674.92 1849.0v-9.0M1674.92 2487.0v9.0M1683.78 1849.0v-9.0M1683.78 2487.0v9.0M1692.63 1849.0v-18.2M1692.63 2487.0v18.2M1701.49 1849.0v-9.0M1701.49 2487.0v9.0M1710.34 1849.0v-9.0M1710.34 2487.0v9.0M1719.20 1849.0v-18.2M1719.20 2487.0v18.2M1728.05 1849.0v-9.0M1728.05 2487.0v9.0M1736.91 1849.0v-9.0M1736.91 2487.0v9.0M1745.77 1849.0v-18.2M1745.77 2487.0v18.2M1754.62 1849.0v-9.0M1754.62 2487.0v9.0M1763.48 1849.0v-9.0M1763.48 2487.0v9.0M1772.33 1849.0v-18.2M1772.33 2487.0v18.2M1781.19 1849.0v-9.0M1781.19 2487.0v9.0M1790.04 1849.0v-9.0M1790.04 2487.0v9.0M1798.90 1849.0v-18.2M1798.90 2487.0v18.2M1807.75 1849.0v-9.0M1807.75 2487.0v9.0M1816.61 1849.0v-9.0M1816.61 2487.0v9.0M1825.47 1849.0v-18.2M1825.47 2487.0v18.2M1834.32 1849.0v-9.0M1834.32 2487.0v9.0M1843.18 1849.0v-9.0M1843.18 2487.0v9.0M1852.03 1849.0v-18.2M1852.03 2487.0v18.2M1860.89 1849.0v-9.0M1860.89 2487.0v9.0M1869.74 1849.0v-9.0M1869.74 2487.0v9.0M1878.60 1849.0v-18.2M1878.60 2487.0v18.2M226.0 1894.50h-18.2M1883.5 1894.50h18.2M226.0 2005.90h-18.2M1883.5 2005.90h18.2M226.0 2117.30h-18.2M1883.5 2117.30h18.2M226.0 2228.70h-18.2M1883.5 2228.70h18.2M226.0 2340.10h-18.2M1883.5 2340.10h18.2M226.0 2451.50h-18.2M1883.5 2451.50h18.2"/>
<rect class="fr" x="226.0" y="1849.0" width="1657.5" height="638.0"/>
<text class="b" transform="translate(190.7 1909.80) scale(1 1.015)" font-size="42.4" text-anchor="end">80</text><text class="b" transform="translate(190.7 2021.20) scale(1 1.015)" font-size="42.4" text-anchor="end">60</text><text class="b" transform="translate(190.7 2132.60) scale(1 1.015)" font-size="42.4" text-anchor="end">40</text><text class="b" transform="translate(190.7 2244.00) scale(1 1.015)" font-size="42.4" text-anchor="end">20</text><text class="b" transform="translate(190.7 2355.40) scale(1 1.015)" font-size="42.4" text-anchor="end">0</text><text class="b" transform="translate(190.7 2466.80) scale(1 1.015)" font-size="42.4" text-anchor="end"><tspan dy="4.53">−</tspan><tspan dy="-4.53">20</tspan></text>
<g class="b" font-size="42.4" text-anchor="middle"><text transform="translate(231.45 2553.30) scale(1 1.015)"><tspan dy="4.53">−</tspan><tspan dy="-4.53">6</tspan></text><text transform="translate(258.02 2553.30) scale(1 1.015)">0</text><text transform="translate(284.58 2553.30) scale(1 1.015)">6</text><text transform="translate(311.15 2553.30) scale(1 1.015)">12</text><text transform="translate(337.72 2553.30) scale(1 1.015)">18</text><text transform="translate(364.28 2553.30) scale(1 1.015)">24</text><text transform="translate(390.85 2553.30) scale(1 1.015)">30</text><text transform="translate(417.42 2553.30) scale(1 1.015)">36</text><text transform="translate(443.99 2553.30) scale(1 1.015)">42</text><text transform="translate(470.55 2553.30) scale(1 1.015)">48</text><text transform="translate(497.12 2553.30) scale(1 1.015)">54</text><text transform="translate(523.69 2553.30) scale(1 1.015)">60</text><text transform="translate(550.25 2553.30) scale(1 1.015)">66</text><text transform="translate(576.82 2553.30) scale(1 1.015)">72</text><text transform="translate(603.39 2553.30) scale(1 1.015)">78</text><text transform="translate(629.95 2553.30) scale(1 1.015)">84</text><text transform="translate(656.52 2553.30) scale(1 1.015)">90</text><text transform="translate(683.09 2553.30) scale(1 1.015)">96</text><text transform="translate(709.65 2553.30) scale(1 1.015)">102</text><text transform="translate(736.22 2553.30) scale(1 1.015)">108</text><text transform="translate(762.79 2553.30) scale(1 1.015)">114</text><text transform="translate(789.36 2553.30) scale(1 1.015)">120</text><text transform="translate(815.92 2553.30) scale(1 1.015)">126</text><text transform="translate(842.49 2553.30) scale(1 1.015)">132</text><text transform="translate(869.06 2553.30) scale(1 1.015)">138</text><text transform="translate(895.62 2553.30) scale(1 1.015)">144</text><text transform="translate(922.19 2553.30) scale(1 1.015)">150</text><text transform="translate(948.76 2553.30) scale(1 1.015)">156</text><text transform="translate(975.32 2553.30) scale(1 1.015)">162</text><text transform="translate(1001.89 2553.30) scale(1 1.015)">168</text><text transform="translate(1028.46 2553.30) scale(1 1.015)">174</text><text transform="translate(1055.02 2553.30) scale(1 1.015)">180</text><text transform="translate(1081.59 2553.30) scale(1 1.015)">186</text><text transform="translate(1108.16 2553.30) scale(1 1.015)">192</text><text transform="translate(1134.73 2553.30) scale(1 1.015)">198</text><text transform="translate(1161.29 2553.30) scale(1 1.015)">204</text><text transform="translate(1187.86 2553.30) scale(1 1.015)">210</text><text transform="translate(1214.43 2553.30) scale(1 1.015)">216</text><text transform="translate(1240.99 2553.30) scale(1 1.015)">222</text><text transform="translate(1267.56 2553.30) scale(1 1.015)">228</text><text transform="translate(1294.13 2553.30) scale(1 1.015)">234</text><text transform="translate(1320.69 2553.30) scale(1 1.015)">240</text><text transform="translate(1347.26 2553.30) scale(1 1.015)">246</text><text transform="translate(1373.83 2553.30) scale(1 1.015)">252</text><text transform="translate(1400.40 2553.30) scale(1 1.015)">258</text><text transform="translate(1426.96 2553.30) scale(1 1.015)">264</text><text transform="translate(1453.53 2553.30) scale(1 1.015)">270</text><text transform="translate(1480.10 2553.30) scale(1 1.015)">276</text><text transform="translate(1506.66 2553.30) scale(1 1.015)">282</text><text transform="translate(1533.23 2553.30) scale(1 1.015)">288</text><text transform="translate(1559.80 2553.30) scale(1 1.015)">294</text><text transform="translate(1586.36 2553.30) scale(1 1.015)">300</text><text transform="translate(1612.93 2553.30) scale(1 1.015)">306</text><text transform="translate(1639.50 2553.30) scale(1 1.015)">312</text><text transform="translate(1666.06 2553.30) scale(1 1.015)">318</text><text transform="translate(1692.63 2553.30) scale(1 1.015)">324</text><text transform="translate(1719.20 2553.30) scale(1 1.015)">330</text><text transform="translate(1745.77 2553.30) scale(1 1.015)">336</text><text transform="translate(1772.33 2553.30) scale(1 1.015)">342</text><text transform="translate(1798.90 2553.30) scale(1 1.015)">348</text><text transform="translate(1825.47 2553.30) scale(1 1.015)">354</text><text transform="translate(1852.03 2553.30) scale(1 1.015)">360</text><text transform="translate(1878.60 2553.30) scale(1 1.015)">366</text></g>
<text x="0" y="0" font-size="42.5" text-anchor="middle" transform="translate(89.9 2168.00) rotate(-90)">Up (mm)</text>
</g>
<text x="1056.85" y="2610.9" font-size="42.45" text-anchor="middle">Time (hours since beginning of first day UTC)</text>
<rect class="fr" x="226.0" y="2716.1" width="1657.5" height="152.90"/>
<text class="b" x="1054.75" y="2754.7" font-size="42.7" text-anchor="middle">Processed Using JPL Rapid Orbits</text>
<text class="b" x="1054.75" y="2795.0" font-size="42.7" text-anchor="middle">by the Nevada Geodetic Laboratory.</text>
<text class="b" x="1054.75" y="2835.9" font-size="42.7" text-anchor="middle">Plotted on 2026-Jan-10.</text>
</svg></body></html>
